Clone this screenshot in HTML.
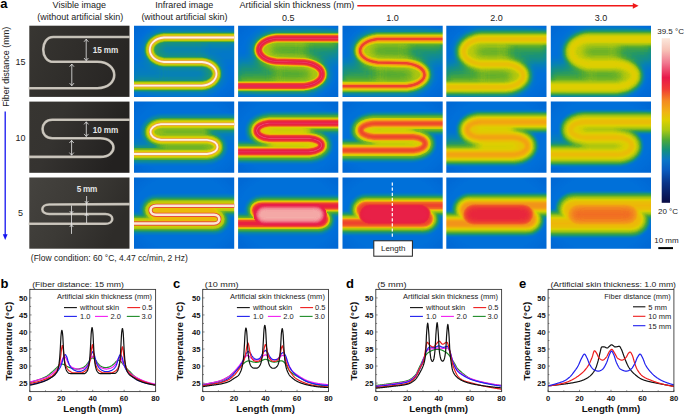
<!DOCTYPE html><html><head><meta charset="utf-8"><style>html,body{margin:0;padding:0;background:#fff;}svg{display:block}</style></head><body>
<svg width="685" height="415" viewBox="0 0 685 415" font-family='"Liberation Sans", sans-serif'>
<defs><filter id="cmap" filterUnits="userSpaceOnUse" x="0" y="0" width="685" height="415" color-interpolation-filters="sRGB">
<feComponentTransfer><feFuncR type="table" tableValues="0.039 0.039 0.039 0.039 0.039 0.039 0.035 0.032 0.028 0.024 0.020 0.015 0.010 0.004 0.000 0.000 0.000 0.000 0.010 0.020 0.030 0.060 0.094 0.143 0.220 0.298 0.393 0.493 0.593 0.676 0.751 0.825 0.873 0.894 0.915 0.935 0.943 0.947 0.950 0.953 0.950 0.947 0.944 0.940 0.932 0.923 0.915 0.910 0.910 0.910 0.910 0.914 0.921 0.928 0.935 0.942 0.948 0.953 0.958 0.964 0.970 0.976 0.982 0.988"/><feFuncG type="table" tableValues="0.039 0.055 0.070 0.086 0.101 0.117 0.140 0.163 0.187 0.210 0.233 0.269 0.305 0.341 0.376 0.397 0.418 0.439 0.464 0.489 0.514 0.541 0.569 0.598 0.629 0.660 0.692 0.723 0.754 0.777 0.796 0.814 0.808 0.777 0.746 0.715 0.676 0.635 0.593 0.552 0.491 0.428 0.366 0.305 0.254 0.202 0.150 0.120 0.125 0.130 0.135 0.177 0.244 0.311 0.377 0.445 0.516 0.587 0.658 0.729 0.782 0.830 0.878 0.925"/><feFuncB type="table" tableValues="0.235 0.266 0.298 0.329 0.360 0.391 0.437 0.484 0.530 0.577 0.624 0.670 0.717 0.764 0.806 0.822 0.839 0.855 0.802 0.748 0.695 0.601 0.500 0.401 0.308 0.215 0.166 0.129 0.092 0.062 0.037 0.012 0.005 0.016 0.026 0.036 0.054 0.075 0.096 0.116 0.127 0.138 0.148 0.161 0.187 0.213 0.239 0.261 0.276 0.292 0.308 0.340 0.385 0.429 0.474 0.518 0.563 0.607 0.652 0.696 0.741 0.787 0.833 0.878"/></feComponentTransfer></filter><radialGradient id="vig" cx="0.5" cy="0.5" r="0.75">
<stop offset="0.55" stop-color="#000" stop-opacity="0"/><stop offset="1" stop-color="#000" stop-opacity="0.22"/></radialGradient><filter id="b0" filterUnits="userSpaceOnUse" x="-50" y="-50" width="800" height="550" color-interpolation-filters="sRGB"><feGaussianBlur stdDeviation="0.3"/></filter><clipPath id="clip10"><rect x="134.0" y="25.7" width="100.2" height="71.2"/></clipPath><filter id="b1" filterUnits="userSpaceOnUse" x="-50" y="-50" width="800" height="550" color-interpolation-filters="sRGB"><feGaussianBlur stdDeviation="6"/></filter><filter id="b2" filterUnits="userSpaceOnUse" x="-50" y="-50" width="800" height="550" color-interpolation-filters="sRGB"><feGaussianBlur stdDeviation="5"/></filter><filter id="b3" filterUnits="userSpaceOnUse" x="-50" y="-50" width="800" height="550" color-interpolation-filters="sRGB"><feGaussianBlur stdDeviation="1.1"/></filter><filter id="b4" filterUnits="userSpaceOnUse" x="-50" y="-50" width="800" height="550" color-interpolation-filters="sRGB"><feGaussianBlur stdDeviation="0.77"/></filter><filter id="b5" filterUnits="userSpaceOnUse" x="-50" y="-50" width="800" height="550" color-interpolation-filters="sRGB"><feGaussianBlur stdDeviation="0.6"/></filter><filter id="b6" filterUnits="userSpaceOnUse" x="-50" y="-50" width="800" height="550" color-interpolation-filters="sRGB"><feGaussianBlur stdDeviation="0.49"/></filter><filter id="b7" filterUnits="userSpaceOnUse" x="-50" y="-50" width="800" height="550" color-interpolation-filters="sRGB"><feGaussianBlur stdDeviation="1.43"/></filter><clipPath id="clip20"><rect x="238.1" y="25.7" width="100.2" height="71.2"/></clipPath><filter id="b8" filterUnits="userSpaceOnUse" x="-50" y="-50" width="800" height="550" color-interpolation-filters="sRGB"><feGaussianBlur stdDeviation="0.83"/></filter><filter id="b9" filterUnits="userSpaceOnUse" x="-50" y="-50" width="800" height="550" color-interpolation-filters="sRGB"><feGaussianBlur stdDeviation="0.44"/></filter><filter id="b10" filterUnits="userSpaceOnUse" x="-50" y="-50" width="800" height="550" color-interpolation-filters="sRGB"><feGaussianBlur stdDeviation="0.35"/></filter><filter id="b11" filterUnits="userSpaceOnUse" x="-50" y="-50" width="800" height="550" color-interpolation-filters="sRGB"><feGaussianBlur stdDeviation="1.05"/></filter><filter id="b12" filterUnits="userSpaceOnUse" x="-50" y="-50" width="800" height="550" color-interpolation-filters="sRGB"><feGaussianBlur stdDeviation="0.39"/></filter><clipPath id="clip30"><rect x="342.5" y="25.7" width="100.2" height="71.2"/></clipPath><filter id="b13" filterUnits="userSpaceOnUse" x="-50" y="-50" width="800" height="550" color-interpolation-filters="sRGB"><feGaussianBlur stdDeviation="0.66"/></filter><filter id="b14" filterUnits="userSpaceOnUse" x="-50" y="-50" width="800" height="550" color-interpolation-filters="sRGB"><feGaussianBlur stdDeviation="0.71"/></filter><filter id="b15" filterUnits="userSpaceOnUse" x="-50" y="-50" width="800" height="550" color-interpolation-filters="sRGB"><feGaussianBlur stdDeviation="0.55"/></filter><filter id="b16" filterUnits="userSpaceOnUse" x="-50" y="-50" width="800" height="550" color-interpolation-filters="sRGB"><feGaussianBlur stdDeviation="0.72"/></filter><clipPath id="clip40"><rect x="446.3" y="25.7" width="100.2" height="71.2"/></clipPath><filter id="b17" filterUnits="userSpaceOnUse" x="-50" y="-50" width="800" height="550" color-interpolation-filters="sRGB"><feGaussianBlur stdDeviation="1.6"/></filter><filter id="b18" filterUnits="userSpaceOnUse" x="-50" y="-50" width="800" height="550" color-interpolation-filters="sRGB"><feGaussianBlur stdDeviation="1.36"/></filter><filter id="b19" filterUnits="userSpaceOnUse" x="-50" y="-50" width="800" height="550" color-interpolation-filters="sRGB"><feGaussianBlur stdDeviation="1.28"/></filter><filter id="b20" filterUnits="userSpaceOnUse" x="-50" y="-50" width="800" height="550" color-interpolation-filters="sRGB"><feGaussianBlur stdDeviation="1.12"/></filter><clipPath id="clip50"><rect x="550.8" y="25.7" width="100.2" height="71.2"/></clipPath><filter id="b21" filterUnits="userSpaceOnUse" x="-50" y="-50" width="800" height="550" color-interpolation-filters="sRGB"><feGaussianBlur stdDeviation="1.76"/></filter><clipPath id="clip11"><rect x="134.0" y="101.6" width="100.2" height="71.2"/></clipPath><filter id="b22" filterUnits="userSpaceOnUse" x="-50" y="-50" width="800" height="550" color-interpolation-filters="sRGB"><feGaussianBlur stdDeviation="4.0"/></filter><clipPath id="clip21"><rect x="238.1" y="101.6" width="100.2" height="71.2"/></clipPath><filter id="b23" filterUnits="userSpaceOnUse" x="-50" y="-50" width="800" height="550" color-interpolation-filters="sRGB"><feGaussianBlur stdDeviation="1.15"/></filter><clipPath id="clip31"><rect x="342.5" y="101.6" width="100.2" height="71.2"/></clipPath><filter id="b24" filterUnits="userSpaceOnUse" x="-50" y="-50" width="800" height="550" color-interpolation-filters="sRGB"><feGaussianBlur stdDeviation="0.99"/></filter><filter id="b25" filterUnits="userSpaceOnUse" x="-50" y="-50" width="800" height="550" color-interpolation-filters="sRGB"><feGaussianBlur stdDeviation="0.88"/></filter><clipPath id="clip41"><rect x="446.3" y="101.6" width="100.2" height="71.2"/></clipPath><clipPath id="clip51"><rect x="550.8" y="101.6" width="100.2" height="71.2"/></clipPath><filter id="b26" filterUnits="userSpaceOnUse" x="-50" y="-50" width="800" height="550" color-interpolation-filters="sRGB"><feGaussianBlur stdDeviation="1.2"/></filter><clipPath id="clip12"><rect x="134.0" y="177.5" width="100.2" height="71.2"/></clipPath><filter id="b27" filterUnits="userSpaceOnUse" x="-50" y="-50" width="800" height="550" color-interpolation-filters="sRGB"><feGaussianBlur stdDeviation="1.0"/></filter><filter id="b28" filterUnits="userSpaceOnUse" x="-50" y="-50" width="800" height="550" color-interpolation-filters="sRGB"><feGaussianBlur stdDeviation="1.5"/></filter><filter id="b29" filterUnits="userSpaceOnUse" x="-50" y="-50" width="800" height="550" color-interpolation-filters="sRGB"><feGaussianBlur stdDeviation="2.15"/></filter><clipPath id="clip22"><rect x="238.1" y="177.5" width="100.2" height="71.2"/></clipPath><filter id="b30" filterUnits="userSpaceOnUse" x="-50" y="-50" width="800" height="550" color-interpolation-filters="sRGB"><feGaussianBlur stdDeviation="0.7"/></filter><filter id="b31" filterUnits="userSpaceOnUse" x="-50" y="-50" width="800" height="550" color-interpolation-filters="sRGB"><feGaussianBlur stdDeviation="1.54"/></filter><clipPath id="clip32"><rect x="342.5" y="177.5" width="100.2" height="71.2"/></clipPath><clipPath id="clip42"><rect x="446.3" y="177.5" width="100.2" height="71.2"/></clipPath><filter id="b32" filterUnits="userSpaceOnUse" x="-50" y="-50" width="800" height="550" color-interpolation-filters="sRGB"><feGaussianBlur stdDeviation="2.0"/></filter><filter id="b33" filterUnits="userSpaceOnUse" x="-50" y="-50" width="800" height="550" color-interpolation-filters="sRGB"><feGaussianBlur stdDeviation="2.2"/></filter><filter id="b34" filterUnits="userSpaceOnUse" x="-50" y="-50" width="800" height="550" color-interpolation-filters="sRGB"><feGaussianBlur stdDeviation="2.5"/></filter><filter id="b35" filterUnits="userSpaceOnUse" x="-50" y="-50" width="800" height="550" color-interpolation-filters="sRGB"><feGaussianBlur stdDeviation="1.65"/></filter><clipPath id="clip52"><rect x="550.8" y="177.5" width="100.2" height="71.2"/></clipPath><filter id="b36" filterUnits="userSpaceOnUse" x="-50" y="-50" width="800" height="550" color-interpolation-filters="sRGB"><feGaussianBlur stdDeviation="2.6"/></filter><filter id="b37" filterUnits="userSpaceOnUse" x="-50" y="-50" width="800" height="550" color-interpolation-filters="sRGB"><feGaussianBlur stdDeviation="2.8"/></filter><filter id="b38" filterUnits="userSpaceOnUse" x="-50" y="-50" width="800" height="550" color-interpolation-filters="sRGB"><feGaussianBlur stdDeviation="3.0"/></filter><filter id="b39" filterUnits="userSpaceOnUse" x="-50" y="-50" width="800" height="550" color-interpolation-filters="sRGB"><feGaussianBlur stdDeviation="1.93"/></filter><linearGradient id="vg0" x1="0" y1="0" x2="1" y2="0.3"><stop offset="0" stop-color="#383632"/><stop offset="0.5" stop-color="#302e2b"/><stop offset="1" stop-color="#282624"/></linearGradient>
<linearGradient id="vg1" x1="0" y1="0" x2="1" y2="0.3"><stop offset="0" stop-color="#373531"/><stop offset="0.35" stop-color="#353330"/><stop offset="1" stop-color="#232120"/></linearGradient>
<linearGradient id="vg2" x1="0" y1="0" x2="1" y2="0.4"><stop offset="0" stop-color="#45433f"/><stop offset="0.5" stop-color="#3c3a36"/><stop offset="1" stop-color="#2e2c29"/></linearGradient><linearGradient id="cbar" x1="0" y1="0" x2="0" y2="1">
<stop offset="0" stop-color="#fbe8dc"/><stop offset="0.07" stop-color="#f7c4b8"/><stop offset="0.15" stop-color="#f07890"/>
<stop offset="0.24" stop-color="#e8184a"/><stop offset="0.31" stop-color="#f03c34"/><stop offset="0.38" stop-color="#f48a22"/>
<stop offset="0.45" stop-color="#f0b414"/><stop offset="0.50" stop-color="#dcd000"/><stop offset="0.56" stop-color="#a8c814"/>
<stop offset="0.62" stop-color="#4aa83a"/><stop offset="0.68" stop-color="#12907e"/><stop offset="0.74" stop-color="#0a76c8"/>
<stop offset="0.80" stop-color="#0a5cc0"/><stop offset="0.88" stop-color="#0a3488"/><stop offset="1" stop-color="#0a0c44"/></linearGradient></defs>
<rect x="0" y="0" width="685" height="415" fill="#fff"/>
<g clip-path="url(#clip10)"><g filter="url(#cmap)">
<rect x="124.0" y="15.7" width="120.2" height="91.2" fill="rgb(69,69,69)"/>
<rect x="124.0" y="15.7" width="120.2" height="91.2" fill="url(#vig)"/>
<g transform="translate(134.0,25.7)">
<path d="M104,11.8 L30,11.8 C11.07,13.76 11.07,34.34 30,36.3 L68,36.3 C87.33,38.20 87.33,58.10 68,60.0 L-4,60.0" fill="none" stroke="#fff" stroke-opacity="0.25" stroke-width="6" stroke-linejoin="round" filter="url(#b1)"/>
<path d="M29.049999999999997,11.8 L70,11.8 L70,36.3 L29.049999999999997,36.3 A12.249999999999998,12.249999999999998 0 0 1 29.049999999999997,11.8 Z" fill="#fff" fill-opacity="0.050" filter="url(#b2)"/>
<path d="M28,36.3 L69.65,36.3 A11.850000000000001,11.850000000000001 0 0 1 69.65,60.0 L28,60.0 Z" fill="#fff" fill-opacity="0.036" filter="url(#b2)"/>
<path d="M68,11.8 L105,11.8 L105,36.3 L68,36.3 Z" fill="#fff" fill-opacity="0.034" filter="url(#b1)"/>
<path d="M-5,36.3 L30,36.3 L30,60.0 L-5,60.0 Z" fill="#fff" fill-opacity="0.042" filter="url(#b1)"/>
<path d="M104,11.8 L30,11.8 C11.07,13.76 11.07,34.34 30,36.3 L68,36.3 C87.33,38.20 87.33,58.10 68,60.0 L-4,60.0" fill="none" stroke="rgb(76,76,76)" stroke-width="16" stroke-linejoin="round" filter="url(#b3)" style="mix-blend-mode:lighten"/>
<path d="M104,11.8 L30,11.8 C11.07,13.76 11.07,34.34 30,36.3 L68,36.3 C87.33,38.20 87.33,58.10 68,60.0 L-4,60.0" fill="none" stroke="rgb(87,87,87)" stroke-width="12" stroke-linejoin="round" filter="url(#b4)" style="mix-blend-mode:lighten"/>
<path d="M104,11.8 L30,11.8 C11.07,13.76 11.07,34.34 30,36.3 L68,36.3 C87.33,38.20 87.33,58.10 68,60.0 L-4,60.0" fill="none" stroke="rgb(102,102,102)" stroke-width="9.2" stroke-linejoin="round" filter="url(#b5)" style="mix-blend-mode:lighten"/>
<path d="M104,11.8 L30,11.8 C11.07,13.76 11.07,34.34 30,36.3 L68,36.3 C87.33,38.20 87.33,58.10 68,60.0 L-4,60.0" fill="none" stroke="rgb(117,117,117)" stroke-width="7.0" stroke-linejoin="round" filter="url(#b6)" style="mix-blend-mode:lighten"/>
<path d="M104,11.8 L30,11.8 C11.07,13.76 11.07,34.34 30,36.3 L68,36.3 C87.33,38.20 87.33,58.10 68,60.0 L-4,60.0" fill="none" stroke="rgb(130,130,130)" stroke-width="5.2" stroke-linejoin="round" filter="url(#b7)" style="mix-blend-mode:lighten"/>

</g></g>
<g transform="translate(134.0,25.7)"><path d="M104,11.8 L30,11.8 C11.07,13.76 11.07,34.34 30,36.3 L68,36.3 C87.33,38.20 87.33,58.10 68,60.0 L-4,60.0" fill="none" stroke="#ef9a58" stroke-width="3.3" stroke-linejoin="round" opacity="0.9" filter="url(#b0)"/><path d="M104,11.8 L30,11.8 C11.07,13.76 11.07,34.34 30,36.3 L68,36.3 C87.33,38.20 87.33,58.10 68,60.0 L-4,60.0" fill="none" stroke="#fff2e2" stroke-width="1.8" stroke-linejoin="round" filter="url(#b0)"/></g>
</g>
<g clip-path="url(#clip20)"><g filter="url(#cmap)">
<rect x="228.1" y="15.7" width="120.2" height="91.2" fill="rgb(69,69,69)"/>
<rect x="228.1" y="15.7" width="120.2" height="91.2" fill="url(#vig)"/>
<g transform="translate(238.1,25.7)">
<path d="M104,12.5 L38,12.5 C15.07,15.30 15.07,33.00 38,35.8 L66,36.6 C89.99,39.44 89.99,57.46 66,60.3 L-4,60.3" fill="none" stroke="#fff" stroke-opacity="0.3" stroke-width="8" stroke-linejoin="round" filter="url(#b1)"/>
<path d="M33.45,12.5 L68,12.5 L68,35.8 L33.45,35.8 A11.649999999999999,11.649999999999999 0 0 1 33.45,12.5 Z" fill="#fff" fill-opacity="0.150" filter="url(#b2)"/>
<path d="M36,35.8 L70.75,35.8 A12.25,12.25 0 0 1 70.75,60.3 L36,60.3 Z" fill="#fff" fill-opacity="0.149" filter="url(#b2)"/>
<path d="M66,12.5 L105,12.5 L105,35.8 L66,35.8 Z" fill="#fff" fill-opacity="0.108" filter="url(#b1)"/>
<path d="M-5,35.8 L38,35.8 L38,60.3 L-5,60.3 Z" fill="#fff" fill-opacity="0.125" filter="url(#b1)"/>
<path d="M104,12.5 L38,12.5 C15.07,15.30 15.07,33.00 38,35.8 L66,36.6 C89.99,39.44 89.99,57.46 66,60.3 L-4,60.3" fill="none" stroke="rgb(79,79,79)" stroke-width="18" stroke-linejoin="round" filter="url(#b3)" style="mix-blend-mode:lighten"/>
<path d="M104,12.5 L38,12.5 C15.07,15.30 15.07,33.00 38,35.8 L66,36.6 C89.99,39.44 89.99,57.46 66,60.3 L-4,60.3" fill="none" stroke="rgb(89,89,89)" stroke-width="14" stroke-linejoin="round" filter="url(#b8)" style="mix-blend-mode:lighten"/>
<path d="M104,12.5 L38,12.5 C15.07,15.30 15.07,33.00 38,35.8 L66,36.6 C89.99,39.44 89.99,57.46 66,60.3 L-4,60.3" fill="none" stroke="rgb(102,102,102)" stroke-width="11.0" stroke-linejoin="round" filter="url(#b5)" style="mix-blend-mode:lighten"/>
<path d="M104,12.5 L38,12.5 C15.07,15.30 15.07,33.00 38,35.8 L66,36.6 C89.99,39.44 89.99,57.46 66,60.3 L-4,60.3" fill="none" stroke="rgb(120,120,120)" stroke-width="8.8" stroke-linejoin="round" filter="url(#b9)" style="mix-blend-mode:lighten"/>
<path d="M104,12.5 L38,12.5 C15.07,15.30 15.07,33.00 38,35.8 L66,36.6 C89.99,39.44 89.99,57.46 66,60.3 L-4,60.3" fill="none" stroke="rgb(135,135,135)" stroke-width="7.2" stroke-linejoin="round" filter="url(#b10)" style="mix-blend-mode:lighten"/>
<path d="M104,12.5 L38,12.5 C15.07,15.30 15.07,33.00 38,35.8 L66,36.6 C89.99,39.44 89.99,57.46 66,60.3 L-4,60.3" fill="none" stroke="rgb(158,158,158)" stroke-width="6.0" stroke-linejoin="round" filter="url(#b10)" style="mix-blend-mode:lighten"/>
<path d="M104,12.5 L38,12.5 C15.07,15.30 15.07,33.00 38,35.8 L66,36.6 C89.99,39.44 89.99,57.46 66,60.3 L-4,60.3" fill="none" stroke="rgb(190,190,190)" stroke-width="5.2" stroke-linejoin="round" filter="url(#b11)" style="mix-blend-mode:lighten"/>
<path d="M104,12.5 L38,12.5 C15.07,15.30 15.07,33.00 38,35.8 L66,36.6 C89.99,39.44 89.99,57.46 66,60.3 L-4,60.3" fill="none" stroke="rgb(209,209,209)" stroke-width="1.4" stroke-linejoin="round" filter="url(#b12)" style="mix-blend-mode:lighten"/>

</g></g>
</g>
<g clip-path="url(#clip30)"><g filter="url(#cmap)">
<rect x="332.5" y="15.7" width="120.2" height="91.2" fill="rgb(69,69,69)"/>
<rect x="332.5" y="15.7" width="120.2" height="91.2" fill="url(#vig)"/>
<g transform="translate(342.5,25.7)">
<path d="M104,13.3 L35,13.3 C11.81,16.12 11.81,33.98 35,36.8 L64,37.5 C87.99,40.27 87.99,57.83 64,60.6 L-4,60.6" fill="none" stroke="#fff" stroke-opacity="0.3" stroke-width="8" stroke-linejoin="round" filter="url(#b1)"/>
<path d="M30.35,13.3 L66,13.3 L66,36.8 L30.35,36.8 A11.749999999999998,11.749999999999998 0 0 1 30.35,13.3 Z" fill="#fff" fill-opacity="0.152" filter="url(#b2)"/>
<path d="M33,36.8 L69.1,36.8 A11.900000000000002,11.900000000000002 0 0 1 69.1,60.6 L33,60.6 Z" fill="#fff" fill-opacity="0.145" filter="url(#b2)"/>
<path d="M64,13.3 L105,13.3 L105,36.8 L64,36.8 Z" fill="#fff" fill-opacity="0.108" filter="url(#b1)"/>
<path d="M-5,36.8 L35,36.8 L35,60.6 L-5,60.6 Z" fill="#fff" fill-opacity="0.124" filter="url(#b1)"/>
<path d="M104,13.3 L35,13.3 C11.81,16.12 11.81,33.98 35,36.8 L64,37.5 C87.99,40.27 87.99,57.83 64,60.6 L-4,60.6" fill="none" stroke="rgb(84,84,84)" stroke-width="18" stroke-linejoin="round" filter="url(#b3)" style="mix-blend-mode:lighten"/>
<path d="M104,13.3 L35,13.3 C11.81,16.12 11.81,33.98 35,36.8 L64,37.5 C87.99,40.27 87.99,57.83 64,60.6 L-4,60.6" fill="none" stroke="rgb(94,94,94)" stroke-width="14" stroke-linejoin="round" filter="url(#b13)" style="mix-blend-mode:lighten"/>
<path d="M104,13.3 L35,13.3 C11.81,16.12 11.81,33.98 35,36.8 L64,37.5 C87.99,40.27 87.99,57.83 64,60.6 L-4,60.6" fill="none" stroke="rgb(107,107,107)" stroke-width="11.6" stroke-linejoin="round" filter="url(#b14)" style="mix-blend-mode:lighten"/>
<path d="M104,13.3 L35,13.3 C11.81,16.12 11.81,33.98 35,36.8 L64,37.5 C87.99,40.27 87.99,57.83 64,60.6 L-4,60.6" fill="none" stroke="rgb(122,122,122)" stroke-width="9.0" stroke-linejoin="round" filter="url(#b15)" style="mix-blend-mode:lighten"/>
<path d="M104,13.3 L35,13.3 C11.81,16.12 11.81,33.98 35,36.8 L64,37.5 C87.99,40.27 87.99,57.83 64,60.6 L-4,60.6" fill="none" stroke="rgb(135,135,135)" stroke-width="7.0" stroke-linejoin="round" filter="url(#b15)" style="mix-blend-mode:lighten"/>
<path d="M104,13.3 L35,13.3 C11.81,16.12 11.81,33.98 35,36.8 L64,37.5 C87.99,40.27 87.99,57.83 64,60.6 L-4,60.6" fill="none" stroke="rgb(153,153,153)" stroke-width="5.0" stroke-linejoin="round" filter="url(#b13)" style="mix-blend-mode:lighten"/>
<path d="M104,13.3 L35,13.3 C11.81,16.12 11.81,33.98 35,36.8 L64,37.5 C87.99,40.27 87.99,57.83 64,60.6 L-4,60.6" fill="none" stroke="rgb(178,178,178)" stroke-width="2.6" stroke-linejoin="round" filter="url(#b16)" style="mix-blend-mode:lighten"/>

</g></g>
</g>
<g clip-path="url(#clip40)"><g filter="url(#cmap)">
<rect x="436.3" y="15.7" width="120.2" height="91.2" fill="rgb(69,69,69)"/>
<rect x="436.3" y="15.7" width="120.2" height="91.2" fill="url(#vig)"/>
<g transform="translate(446.3,25.7)">
<path d="M104,13.5 L34,13.5 C12.01,16.50 12.01,35.50 34,38.5 L60,38.5 C82.66,41.25 82.66,58.65 60,61.4 L-4,61.4" fill="none" stroke="#fff" stroke-opacity="0.32" stroke-width="8" stroke-linejoin="round" filter="url(#b1)"/>
<path d="M31.0,13.5 L62,13.5 L62,38.5 L31.0,38.5 A12.5,12.5 0 0 1 31.0,13.5 Z" fill="#fff" fill-opacity="0.172" filter="url(#b2)"/>
<path d="M32,38.5 L64.55,38.5 A11.45,11.45 0 0 1 64.55,61.4 L32,61.4 Z" fill="#fff" fill-opacity="0.148" filter="url(#b2)"/>
<path d="M60,13.5 L105,13.5 L105,38.5 L60,38.5 Z" fill="#fff" fill-opacity="0.124" filter="url(#b1)"/>
<path d="M-5,38.5 L34,38.5 L34,61.4 L-5,61.4 Z" fill="#fff" fill-opacity="0.136" filter="url(#b1)"/>
<path d="M104,13.5 L34,13.5 C12.01,16.50 12.01,35.50 34,38.5 L60,38.5 C82.66,41.25 82.66,58.65 60,61.4 L-4,61.4" fill="none" stroke="rgb(87,87,87)" stroke-width="19.0" stroke-linejoin="round" filter="url(#b17)" style="mix-blend-mode:lighten"/>
<path d="M104,13.5 L34,13.5 C12.01,16.50 12.01,35.50 34,38.5 L60,38.5 C82.66,41.25 82.66,58.65 60,61.4 L-4,61.4" fill="none" stroke="rgb(99,99,99)" stroke-width="15.0" stroke-linejoin="round" filter="url(#b18)" style="mix-blend-mode:lighten"/>
<path d="M104,13.5 L34,13.5 C12.01,16.50 12.01,35.50 34,38.5 L60,38.5 C82.66,41.25 82.66,58.65 60,61.4 L-4,61.4" fill="none" stroke="rgb(112,112,112)" stroke-width="11.6" stroke-linejoin="round" filter="url(#b19)" style="mix-blend-mode:lighten"/>
<path d="M104,13.5 L34,13.5 C12.01,16.50 12.01,35.50 34,38.5 L60,38.5 C82.66,41.25 82.66,58.65 60,61.4 L-4,61.4" fill="none" stroke="rgb(125,125,125)" stroke-width="8.4" stroke-linejoin="round" filter="url(#b20)" style="mix-blend-mode:lighten"/>
<path d="M104,13.5 L34,13.5 C12.01,16.50 12.01,35.50 34,38.5 L60,38.5 C82.66,41.25 82.66,58.65 60,61.4 L-4,61.4" fill="none" stroke="rgb(133,133,133)" stroke-width="5.6" stroke-linejoin="round" filter="url(#b20)" style="mix-blend-mode:lighten"/>
<path d="M104,13.5 L34,13.5 C12.01,16.50 12.01,35.50 34,38.5 L60,38.5 C82.66,41.25 82.66,58.65 60,61.4 L-4,61.4" fill="none" stroke="rgb(139,139,139)" stroke-width="2.8" stroke-linejoin="round" filter="url(#b20)" style="mix-blend-mode:lighten"/>

</g></g>
</g>
<g clip-path="url(#clip50)"><g filter="url(#cmap)">
<rect x="540.8" y="15.7" width="120.2" height="91.2" fill="rgb(69,69,69)"/>
<rect x="540.8" y="15.7" width="120.2" height="91.2" fill="url(#vig)"/>
<g transform="translate(550.8,25.7)">
<path d="M104,13.5 L37,13.5 C15.67,16.50 15.67,35.50 37,38.5 L66,38.5 C89.33,41.25 89.33,58.65 66,61.4 L-4,61.4" fill="none" stroke="#fff" stroke-opacity="0.34" stroke-width="8" stroke-linejoin="round" filter="url(#b1)"/>
<path d="M34.5,13.5 L68,13.5 L68,38.5 L34.5,38.5 A12.5,12.5 0 0 1 34.5,13.5 Z" fill="#fff" fill-opacity="0.171" filter="url(#b2)"/>
<path d="M35,38.5 L71.05,38.5 A11.45,11.45 0 0 1 71.05,61.4 L35,61.4 Z" fill="#fff" fill-opacity="0.143" filter="url(#b2)"/>
<path d="M66,13.5 L105,13.5 L105,38.5 L66,38.5 Z" fill="#fff" fill-opacity="0.126" filter="url(#b1)"/>
<path d="M-5,38.5 L37,38.5 L37,61.4 L-5,61.4 Z" fill="#fff" fill-opacity="0.132" filter="url(#b1)"/>
<path d="M104,13.5 L37,13.5 C15.67,16.50 15.67,35.50 37,38.5 L66,38.5 C89.33,41.25 89.33,58.65 66,61.4 L-4,61.4" fill="none" stroke="rgb(89,89,89)" stroke-width="19.0" stroke-linejoin="round" filter="url(#b17)" style="mix-blend-mode:lighten"/>
<path d="M104,13.5 L37,13.5 C15.67,16.50 15.67,35.50 37,38.5 L66,38.5 C89.33,41.25 89.33,58.65 66,61.4 L-4,61.4" fill="none" stroke="rgb(102,102,102)" stroke-width="15.0" stroke-linejoin="round" filter="url(#b18)" style="mix-blend-mode:lighten"/>
<path d="M104,13.5 L37,13.5 C15.67,16.50 15.67,35.50 37,38.5 L66,38.5 C89.33,41.25 89.33,58.65 66,61.4 L-4,61.4" fill="none" stroke="rgb(115,115,115)" stroke-width="11.6" stroke-linejoin="round" filter="url(#b19)" style="mix-blend-mode:lighten"/>
<path d="M104,13.5 L37,13.5 C15.67,16.50 15.67,35.50 37,38.5 L66,38.5 C89.33,41.25 89.33,58.65 66,61.4 L-4,61.4" fill="none" stroke="rgb(125,125,125)" stroke-width="8.4" stroke-linejoin="round" filter="url(#b17)" style="mix-blend-mode:lighten"/>
<path d="M104,13.5 L37,13.5 C15.67,16.50 15.67,35.50 37,38.5 L66,38.5 C89.33,41.25 89.33,58.65 66,61.4 L-4,61.4" fill="none" stroke="rgb(131,131,131)" stroke-width="4.4" stroke-linejoin="round" filter="url(#b21)" style="mix-blend-mode:lighten"/>

</g></g>
</g>
<g clip-path="url(#clip11)"><g filter="url(#cmap)">
<rect x="124.0" y="91.6" width="120.2" height="91.2" fill="rgb(69,69,69)"/>
<rect x="124.0" y="91.6" width="120.2" height="91.2" fill="url(#vig)"/>
<g transform="translate(134.0,101.6)">
<path d="M104,22.6 L27,22.6 C13.00,23.85 13.00,36.95 27,38.2 L73,38.2 C87.00,39.34 87.00,51.26 73,52.4 L-4,52.4" fill="none" stroke="#fff" stroke-opacity="0.25" stroke-width="6" stroke-linejoin="round" filter="url(#b2)"/>
<path d="M25.3,22.6 L75,22.6 L75,38.2 L25.3,38.2 A7.800000000000001,7.800000000000001 0 0 1 25.3,22.6 Z" fill="#fff" fill-opacity="0.163" filter="url(#b22)"/>
<path d="M25,38.2 L75.4,38.2 A7.099999999999998,7.099999999999998 0 0 1 75.4,52.4 L25,52.4 Z" fill="#fff" fill-opacity="0.140" filter="url(#b22)"/>
<path d="M73,22.6 L105,22.6 L105,38.2 L73,38.2 Z" fill="#fff" fill-opacity="0.048" filter="url(#b2)"/>
<path d="M-5,38.2 L27,38.2 L27,52.4 L-5,52.4 Z" fill="#fff" fill-opacity="0.056" filter="url(#b2)"/>
<path d="M104,22.6 L27,22.6 C13.00,23.85 13.00,36.95 27,38.2 L73,38.2 C87.00,39.34 87.00,51.26 73,52.4 L-4,52.4" fill="none" stroke="rgb(79,79,79)" stroke-width="20" stroke-linejoin="round" filter="url(#b3)" style="mix-blend-mode:lighten"/>
<path d="M104,22.6 L27,22.6 C13.00,23.85 13.00,36.95 27,38.2 L73,38.2 C87.00,39.34 87.00,51.26 73,52.4 L-4,52.4" fill="none" stroke="rgb(89,89,89)" stroke-width="16" stroke-linejoin="round" filter="url(#b3)" style="mix-blend-mode:lighten"/>
<path d="M104,22.6 L27,22.6 C13.00,23.85 13.00,36.95 27,38.2 L73,38.2 C87.00,39.34 87.00,51.26 73,52.4 L-4,52.4" fill="none" stroke="rgb(102,102,102)" stroke-width="12" stroke-linejoin="round" filter="url(#b4)" style="mix-blend-mode:lighten"/>
<path d="M104,22.6 L27,22.6 C13.00,23.85 13.00,36.95 27,38.2 L73,38.2 C87.00,39.34 87.00,51.26 73,52.4 L-4,52.4" fill="none" stroke="rgb(112,112,112)" stroke-width="9.2" stroke-linejoin="round" filter="url(#b5)" style="mix-blend-mode:lighten"/>
<path d="M104,22.6 L27,22.6 C13.00,23.85 13.00,36.95 27,38.2 L73,38.2 C87.00,39.34 87.00,51.26 73,52.4 L-4,52.4" fill="none" stroke="rgb(122,122,122)" stroke-width="7.0" stroke-linejoin="round" filter="url(#b6)" style="mix-blend-mode:lighten"/>
<path d="M104,22.6 L27,22.6 C13.00,23.85 13.00,36.95 27,38.2 L73,38.2 C87.00,39.34 87.00,51.26 73,52.4 L-4,52.4" fill="none" stroke="rgb(133,133,133)" stroke-width="5.2" stroke-linejoin="round" filter="url(#b7)" style="mix-blend-mode:lighten"/>

</g></g>
<g transform="translate(134.0,101.6)"><path d="M104,22.6 L27,22.6 C13.00,23.85 13.00,36.95 27,38.2 L73,38.2 C87.00,39.34 87.00,51.26 73,52.4 L-4,52.4" fill="none" stroke="#ef9a58" stroke-width="3.3" stroke-linejoin="round" opacity="0.9" filter="url(#b0)"/><path d="M104,22.6 L27,22.6 C13.00,23.85 13.00,36.95 27,38.2 L73,38.2 C87.00,39.34 87.00,51.26 73,52.4 L-4,52.4" fill="none" stroke="#fff2e2" stroke-width="1.8" stroke-linejoin="round" filter="url(#b0)"/></g>
</g>
<g clip-path="url(#clip21)"><g filter="url(#cmap)">
<rect x="228.1" y="91.6" width="120.2" height="91.2" fill="rgb(69,69,69)"/>
<rect x="228.1" y="91.6" width="120.2" height="91.2" fill="url(#vig)"/>
<g transform="translate(238.1,101.6)">
<path d="M104,21.5 L31,21.5 C14.47,23.03 14.47,35.27 31,36.8 L71,36.8 C87.66,38.15 87.66,48.95 71,50.3 L-4,50.3" fill="none" stroke="#fff" stroke-opacity="0.3" stroke-width="8" stroke-linejoin="round" filter="url(#b2)"/>
<path d="M27.25,21.5 L73,21.5 L73,36.8 L27.25,36.8 A7.649999999999999,7.649999999999999 0 0 1 27.25,21.5 Z" fill="#fff" fill-opacity="0.213" filter="url(#b22)"/>
<path d="M29,36.8 L75.75,36.8 A6.75,6.75 0 0 1 75.75,50.3 L29,50.3 Z" fill="#fff" fill-opacity="0.175" filter="url(#b22)"/>
<path d="M71,21.5 L105,21.5 L105,36.8 L71,36.8 Z" fill="#fff" fill-opacity="0.037" filter="url(#b2)"/>
<path d="M-5,36.8 L31,36.8 L31,50.3 L-5,50.3 Z" fill="#fff" fill-opacity="0.000" filter="url(#b2)"/>
<path d="M104,21.5 L31,21.5 C14.47,23.03 14.47,35.27 31,36.8 L71,36.8 C87.66,38.15 87.66,48.95 71,50.3 L-4,50.3" fill="none" stroke="rgb(82,82,82)" stroke-width="22" stroke-linejoin="round" filter="url(#b3)" style="mix-blend-mode:lighten"/>
<path d="M104,21.5 L31,21.5 C14.47,23.03 14.47,35.27 31,36.8 L71,36.8 C87.66,38.15 87.66,48.95 71,50.3 L-4,50.3" fill="none" stroke="rgb(94,94,94)" stroke-width="18" stroke-linejoin="round" filter="url(#b3)" style="mix-blend-mode:lighten"/>
<path d="M104,21.5 L31,21.5 C14.47,23.03 14.47,35.27 31,36.8 L71,36.8 C87.66,38.15 87.66,48.95 71,50.3 L-4,50.3" fill="none" stroke="rgb(107,107,107)" stroke-width="14" stroke-linejoin="round" filter="url(#b8)" style="mix-blend-mode:lighten"/>
<path d="M104,21.5 L31,21.5 C14.47,23.03 14.47,35.27 31,36.8 L71,36.8 C87.66,38.15 87.66,48.95 71,50.3 L-4,50.3" fill="none" stroke="rgb(120,120,120)" stroke-width="11.0" stroke-linejoin="round" filter="url(#b14)" style="mix-blend-mode:lighten"/>
<path d="M104,21.5 L31,21.5 C14.47,23.03 14.47,35.27 31,36.8 L71,36.8 C87.66,38.15 87.66,48.95 71,50.3 L-4,50.3" fill="none" stroke="rgb(135,135,135)" stroke-width="8.4" stroke-linejoin="round" filter="url(#b9)" style="mix-blend-mode:lighten"/>
<path d="M104,21.5 L31,21.5 C14.47,23.03 14.47,35.27 31,36.8 L71,36.8 C87.66,38.15 87.66,48.95 71,50.3 L-4,50.3" fill="none" stroke="rgb(158,158,158)" stroke-width="6.8" stroke-linejoin="round" filter="url(#b10)" style="mix-blend-mode:lighten"/>
<path d="M104,21.5 L31,21.5 C14.47,23.03 14.47,35.27 31,36.8 L71,36.8 C87.66,38.15 87.66,48.95 71,50.3 L-4,50.3" fill="none" stroke="rgb(191,191,191)" stroke-width="5.6" stroke-linejoin="round" filter="url(#b23)" style="mix-blend-mode:lighten"/>
<path d="M104,21.5 L31,21.5 C14.47,23.03 14.47,35.27 31,36.8 L71,36.8 C87.66,38.15 87.66,48.95 71,50.3 L-4,50.3" fill="none" stroke="rgb(212,212,212)" stroke-width="1.4" stroke-linejoin="round" filter="url(#b12)" style="mix-blend-mode:lighten"/>

</g></g>
</g>
<g clip-path="url(#clip31)"><g filter="url(#cmap)">
<rect x="332.5" y="91.6" width="120.2" height="91.2" fill="rgb(69,69,69)"/>
<rect x="332.5" y="91.6" width="120.2" height="91.2" fill="url(#vig)"/>
<g transform="translate(342.5,101.6)">
<path d="M104,21.9 L31,21.9 C14.07,23.24 14.07,33.96 31,35.3 L71,35.3 C86.46,36.65 86.46,47.45 71,48.8 L-4,48.8" fill="none" stroke="#fff" stroke-opacity="0.3" stroke-width="8" stroke-linejoin="round" filter="url(#b2)"/>
<path d="M26.0,21.9 L73,21.9 L73,35.3 L26.0,35.3 A6.699999999999999,6.699999999999999 0 0 1 26.0,21.9 Z" fill="#fff" fill-opacity="0.181" filter="url(#b22)"/>
<path d="M29,35.3 L74.85,35.3 A6.75,6.75 0 0 1 74.85,48.8 L29,48.8 Z" fill="#fff" fill-opacity="0.174" filter="url(#b22)"/>
<path d="M71,21.9 L105,21.9 L105,35.3 L71,35.3 Z" fill="#fff" fill-opacity="0.000" filter="url(#b2)"/>
<path d="M-5,35.3 L31,35.3 L31,48.8 L-5,48.8 Z" fill="#fff" fill-opacity="0.000" filter="url(#b2)"/>
<path d="M104,21.9 L31,21.9 C14.07,23.24 14.07,33.96 31,35.3 L71,35.3 C86.46,36.65 86.46,47.45 71,48.8 L-4,48.8" fill="none" stroke="rgb(84,84,84)" stroke-width="22" stroke-linejoin="round" filter="url(#b3)" style="mix-blend-mode:lighten"/>
<path d="M104,21.9 L31,21.9 C14.07,23.24 14.07,33.96 31,35.3 L71,35.3 C86.46,36.65 86.46,47.45 71,48.8 L-4,48.8" fill="none" stroke="rgb(97,97,97)" stroke-width="18" stroke-linejoin="round" filter="url(#b24)" style="mix-blend-mode:lighten"/>
<path d="M104,21.9 L31,21.9 C14.07,23.24 14.07,33.96 31,35.3 L71,35.3 C86.46,36.65 86.46,47.45 71,48.8 L-4,48.8" fill="none" stroke="rgb(110,110,110)" stroke-width="14.4" stroke-linejoin="round" filter="url(#b25)" style="mix-blend-mode:lighten"/>
<path d="M104,21.9 L31,21.9 C14.07,23.24 14.07,33.96 31,35.3 L71,35.3 C86.46,36.65 86.46,47.45 71,48.8 L-4,48.8" fill="none" stroke="rgb(125,125,125)" stroke-width="11.2" stroke-linejoin="round" filter="url(#b4)" style="mix-blend-mode:lighten"/>
<path d="M104,21.9 L31,21.9 C14.07,23.24 14.07,33.96 31,35.3 L71,35.3 C86.46,36.65 86.46,47.45 71,48.8 L-4,48.8" fill="none" stroke="rgb(140,140,140)" stroke-width="8.4" stroke-linejoin="round" filter="url(#b13)" style="mix-blend-mode:lighten"/>
<path d="M104,21.9 L31,21.9 C14.07,23.24 14.07,33.96 31,35.3 L71,35.3 C86.46,36.65 86.46,47.45 71,48.8 L-4,48.8" fill="none" stroke="rgb(158,158,158)" stroke-width="6.0" stroke-linejoin="round" filter="url(#b13)" style="mix-blend-mode:lighten"/>
<path d="M104,21.9 L31,21.9 C14.07,23.24 14.07,33.96 31,35.3 L71,35.3 C86.46,36.65 86.46,47.45 71,48.8 L-4,48.8" fill="none" stroke="rgb(178,178,178)" stroke-width="3.6" stroke-linejoin="round" filter="url(#b24)" style="mix-blend-mode:lighten"/>

</g></g>
</g>
<g clip-path="url(#clip41)"><g filter="url(#cmap)">
<rect x="436.3" y="91.6" width="120.2" height="91.2" fill="rgb(69,69,69)"/>
<rect x="436.3" y="91.6" width="120.2" height="91.2" fill="url(#vig)"/>
<g transform="translate(446.3,101.6)">
<path d="M104,20.4 L33,20.4 C17.00,21.94 17.00,34.26 33,35.8 L68,35.8 C85.33,37.52 85.33,51.28 68,53.0 L-4,53.0" fill="none" stroke="#fff" stroke-opacity="0.32" stroke-width="8" stroke-linejoin="round" filter="url(#b2)"/>
<path d="M29.7,20.4 L70,20.4 L70,35.8 L29.7,35.8 A7.699999999999999,7.699999999999999 0 0 1 29.7,20.4 Z" fill="#fff" fill-opacity="0.228" filter="url(#b22)"/>
<path d="M31,35.8 L71.4,35.8 A8.600000000000001,8.600000000000001 0 0 1 71.4,53.0 L31,53.0 Z" fill="#fff" fill-opacity="0.242" filter="url(#b22)"/>
<path d="M68,20.4 L105,20.4 L105,35.8 L68,35.8 Z" fill="#fff" fill-opacity="0.000" filter="url(#b2)"/>
<path d="M-5,35.8 L33,35.8 L33,53.0 L-5,53.0 Z" fill="#fff" fill-opacity="0.127" filter="url(#b2)"/>
<path d="M104,20.4 L33,20.4 C17.00,21.94 17.00,34.26 33,35.8 L68,35.8 C85.33,37.52 85.33,51.28 68,53.0 L-4,53.0" fill="none" stroke="rgb(89,89,89)" stroke-width="21.0" stroke-linejoin="round" filter="url(#b17)" style="mix-blend-mode:lighten"/>
<path d="M104,20.4 L33,20.4 C17.00,21.94 17.00,34.26 33,35.8 L68,35.8 C85.33,37.52 85.33,51.28 68,53.0 L-4,53.0" fill="none" stroke="rgb(105,105,105)" stroke-width="17.0" stroke-linejoin="round" filter="url(#b17)" style="mix-blend-mode:lighten"/>
<path d="M104,20.4 L33,20.4 C17.00,21.94 17.00,34.26 33,35.8 L68,35.8 C85.33,37.52 85.33,51.28 68,53.0 L-4,53.0" fill="none" stroke="rgb(120,120,120)" stroke-width="13.0" stroke-linejoin="round" filter="url(#b18)" style="mix-blend-mode:lighten"/>
<path d="M104,20.4 L33,20.4 C17.00,21.94 17.00,34.26 33,35.8 L68,35.8 C85.33,37.52 85.33,51.28 68,53.0 L-4,53.0" fill="none" stroke="rgb(133,133,133)" stroke-width="9.6" stroke-linejoin="round" filter="url(#b19)" style="mix-blend-mode:lighten"/>
<path d="M104,20.4 L33,20.4 C17.00,21.94 17.00,34.26 33,35.8 L68,35.8 C85.33,37.52 85.33,51.28 68,53.0 L-4,53.0" fill="none" stroke="rgb(144,144,144)" stroke-width="6.4" stroke-linejoin="round" filter="url(#b19)" style="mix-blend-mode:lighten"/>
<path d="M104,20.4 L33,20.4 C17.00,21.94 17.00,34.26 33,35.8 L68,35.8 C85.33,37.52 85.33,51.28 68,53.0 L-4,53.0" fill="none" stroke="rgb(150,150,150)" stroke-width="3.2" stroke-linejoin="round" filter="url(#b19)" style="mix-blend-mode:lighten"/>

</g></g>
</g>
<g clip-path="url(#clip51)"><g filter="url(#cmap)">
<rect x="540.8" y="91.6" width="120.2" height="91.2" fill="rgb(69,69,69)"/>
<rect x="540.8" y="91.6" width="120.2" height="91.2" fill="url(#vig)"/>
<g transform="translate(550.8,101.6)">
<path d="M104,20.4 L33,20.4 C15.67,21.94 15.67,34.26 33,35.8 L68,35.8 C85.33,37.52 85.33,51.28 68,53.0 L-4,53.0" fill="none" stroke="#fff" stroke-opacity="0.34" stroke-width="8" stroke-linejoin="round" filter="url(#b2)"/>
<path d="M28.7,20.4 L70,20.4 L70,35.8 L28.7,35.8 A7.699999999999999,7.699999999999999 0 0 1 28.7,20.4 Z" fill="#fff" fill-opacity="0.161" filter="url(#b22)"/>
<path d="M31,35.8 L71.4,35.8 A8.600000000000001,8.600000000000001 0 0 1 71.4,53.0 L31,53.0 Z" fill="#fff" fill-opacity="0.179" filter="url(#b22)"/>
<path d="M68,20.4 L105,20.4 L105,35.8 L68,35.8 Z" fill="#fff" fill-opacity="0.000" filter="url(#b2)"/>
<path d="M-5,35.8 L33,35.8 L33,53.0 L-5,53.0 Z" fill="#fff" fill-opacity="0.088" filter="url(#b2)"/>
<path d="M104,20.4 L33,20.4 C15.67,21.94 15.67,34.26 33,35.8 L68,35.8 C85.33,37.52 85.33,51.28 68,53.0 L-4,53.0" fill="none" stroke="rgb(89,89,89)" stroke-width="22" stroke-linejoin="round" filter="url(#b17)" style="mix-blend-mode:lighten"/>
<path d="M104,20.4 L33,20.4 C15.67,21.94 15.67,34.26 33,35.8 L68,35.8 C85.33,37.52 85.33,51.28 68,53.0 L-4,53.0" fill="none" stroke="rgb(105,105,105)" stroke-width="18" stroke-linejoin="round" filter="url(#b17)" style="mix-blend-mode:lighten"/>
<path d="M104,20.4 L33,20.4 C15.67,21.94 15.67,34.26 33,35.8 L68,35.8 C85.33,37.52 85.33,51.28 68,53.0 L-4,53.0" fill="none" stroke="rgb(117,117,117)" stroke-width="14" stroke-linejoin="round" filter="url(#b17)" style="mix-blend-mode:lighten"/>
<path d="M104,20.4 L33,20.4 C15.67,21.94 15.67,34.26 33,35.8 L68,35.8 C85.33,37.52 85.33,51.28 68,53.0 L-4,53.0" fill="none" stroke="rgb(128,128,128)" stroke-width="10" stroke-linejoin="round" filter="url(#b17)" style="mix-blend-mode:lighten"/>
<path d="M104,20.4 L33,20.4 C15.67,21.94 15.67,34.26 33,35.8 L68,35.8 C85.33,37.52 85.33,51.28 68,53.0 L-4,53.0" fill="none" stroke="rgb(135,135,135)" stroke-width="6" stroke-linejoin="round" filter="url(#b26)" style="mix-blend-mode:lighten"/>
<path d="M104,20.4 L33,20.4 C15.67,21.94 15.67,34.26 33,35.8 L68,35.8 C85.33,37.52 85.33,51.28 68,53.0 L-4,53.0" fill="none" stroke="rgb(139,139,139)" stroke-width="3.0" stroke-linejoin="round" filter="url(#b26)" style="mix-blend-mode:lighten"/>

</g></g>
</g>
<g clip-path="url(#clip12)"><g filter="url(#cmap)">
<rect x="124.0" y="167.5" width="120.2" height="91.2" fill="rgb(69,69,69)"/>
<rect x="124.0" y="167.5" width="120.2" height="91.2" fill="url(#vig)"/>
<g transform="translate(134.0,177.5)">
<path d="M104,28.3 L22,28.3 C14.67,28.30 14.67,37.30 22,37.3 L80,37.3 C87.06,37.30 87.06,46.00 80,46.0 L-4,46.0" fill="none" stroke="#fff" stroke-opacity="0.25" stroke-width="6" stroke-linejoin="round" filter="url(#b2)"/>
<path d="M25.35,28.3 L76.45,28.3 A8.85,8.85 0 0 1 76.45,46.0 L25.35,46.0 A8.85,8.85 0 0 1 25.35,28.3 Z" fill="rgb(128,128,128)" filter="url(#b27)" style="mix-blend-mode:lighten"/>
<path d="M25.35,29.8 L76.45,29.8 A7.35,7.35 0 0 1 76.45,44.5 L25.35,44.5 A7.35,7.35 0 0 1 25.35,29.8 Z" fill="rgb(140,140,140)" filter="url(#b28)" style="mix-blend-mode:lighten"/>
<path d="M104,28.3 L22,28.3 C14.67,28.30 14.67,37.30 22,37.3 L80,37.3 C87.06,37.30 87.06,46.00 80,46.0 L-4,46.0" fill="none" stroke="rgb(79,79,79)" stroke-width="22" stroke-linejoin="round" filter="url(#b3)" style="mix-blend-mode:lighten"/>
<path d="M104,28.3 L22,28.3 C14.67,28.30 14.67,37.30 22,37.3 L80,37.3 C87.06,37.30 87.06,46.00 80,46.0 L-4,46.0" fill="none" stroke="rgb(89,89,89)" stroke-width="18" stroke-linejoin="round" filter="url(#b3)" style="mix-blend-mode:lighten"/>
<path d="M104,28.3 L22,28.3 C14.67,28.30 14.67,37.30 22,37.3 L80,37.3 C87.06,37.30 87.06,46.00 80,46.0 L-4,46.0" fill="none" stroke="rgb(102,102,102)" stroke-width="14" stroke-linejoin="round" filter="url(#b24)" style="mix-blend-mode:lighten"/>
<path d="M104,28.3 L22,28.3 C14.67,28.30 14.67,37.30 22,37.3 L80,37.3 C87.06,37.30 87.06,46.00 80,46.0 L-4,46.0" fill="none" stroke="rgb(115,115,115)" stroke-width="10.4" stroke-linejoin="round" filter="url(#b16)" style="mix-blend-mode:lighten"/>
<path d="M104,28.3 L22,28.3 C14.67,28.30 14.67,37.30 22,37.3 L80,37.3 C87.06,37.30 87.06,46.00 80,46.0 L-4,46.0" fill="none" stroke="rgb(128,128,128)" stroke-width="7.8" stroke-linejoin="round" filter="url(#b29)" style="mix-blend-mode:lighten"/>

</g></g>
<g transform="translate(134.0,177.5)"><path d="M104,28.3 L22,28.3 C14.67,28.30 14.67,37.30 22,37.3 L80,37.3 C87.06,37.30 87.06,46.00 80,46.0 L-4,46.0" fill="none" stroke="#e83a40" stroke-width="4.3" stroke-linejoin="round" opacity="0.85" filter="url(#b0)"/><path d="M104,28.3 L22,28.3 C14.67,28.30 14.67,37.30 22,37.3 L80,37.3 C87.06,37.30 87.06,46.00 80,46.0 L-4,46.0" fill="none" stroke="#fbe6d6" stroke-width="2.6" stroke-linejoin="round" filter="url(#b0)"/></g>
</g>
<g clip-path="url(#clip22)"><g filter="url(#cmap)">
<rect x="228.1" y="167.5" width="120.2" height="91.2" fill="rgb(69,69,69)"/>
<rect x="228.1" y="167.5" width="120.2" height="91.2" fill="url(#vig)"/>
<g transform="translate(238.1,177.5)">
<path d="M104,28.5 L24,28.5 C15.34,28.50 15.34,37.50 24,37.5 L80,37.5 C88.66,37.50 88.66,46.00 80,46.0 L-4,46.0" fill="none" stroke="#fff" stroke-opacity="0.3" stroke-width="8" stroke-linejoin="round" filter="url(#b2)"/>
<path d="M26.25,26.3 L77.75,26.3 A10.95,10.95 0 0 1 77.75,48.2 L26.25,48.2 A10.95,10.95 0 0 1 26.25,26.3 Z" fill="rgb(189,189,189)" filter="url(#b30)" style="mix-blend-mode:lighten"/>
<path d="M26.25,27.7 L77.75,27.7 A9.55,9.55 0 0 1 77.75,46.8 L26.25,46.8 A9.55,9.55 0 0 1 26.25,27.7 Z" fill="rgb(204,204,204)" filter="url(#b27)" style="mix-blend-mode:lighten"/>
<path d="M26.25,29.5 L77.75,29.5 A7.75,7.75 0 0 1 77.75,45.0 L26.25,45.0 A7.75,7.75 0 0 1 26.25,29.5 Z" fill="rgb(224,224,224)" filter="url(#b28)" style="mix-blend-mode:lighten"/>
<path d="M26.25,31.5 L77.75,31.5 A5.75,5.75 0 0 1 77.75,43.0 L26.25,43.0 A5.75,5.75 0 0 1 26.25,31.5 Z" fill="rgb(235,235,235)" filter="url(#b28)" style="mix-blend-mode:lighten"/>
<path d="M104,28.5 L24,28.5 C15.34,28.50 15.34,37.50 24,37.5 L80,37.5 C88.66,37.50 88.66,46.00 80,46.0 L-4,46.0" fill="none" stroke="rgb(82,82,82)" stroke-width="21.0" stroke-linejoin="round" filter="url(#b3)" style="mix-blend-mode:lighten"/>
<path d="M104,28.5 L24,28.5 C15.34,28.50 15.34,37.50 24,37.5 L80,37.5 C88.66,37.50 88.66,46.00 80,46.0 L-4,46.0" fill="none" stroke="rgb(94,94,94)" stroke-width="17.0" stroke-linejoin="round" filter="url(#b8)" style="mix-blend-mode:lighten"/>
<path d="M104,28.5 L24,28.5 C15.34,28.50 15.34,37.50 24,37.5 L80,37.5 C88.66,37.50 88.66,46.00 80,46.0 L-4,46.0" fill="none" stroke="rgb(107,107,107)" stroke-width="14" stroke-linejoin="round" filter="url(#b8)" style="mix-blend-mode:lighten"/>
<path d="M104,28.5 L24,28.5 C15.34,28.50 15.34,37.50 24,37.5 L80,37.5 C88.66,37.50 88.66,46.00 80,46.0 L-4,46.0" fill="none" stroke="rgb(122,122,122)" stroke-width="11.0" stroke-linejoin="round" filter="url(#b15)" style="mix-blend-mode:lighten"/>
<path d="M104,28.5 L24,28.5 C15.34,28.50 15.34,37.50 24,37.5 L80,37.5 C88.66,37.50 88.66,46.00 80,46.0 L-4,46.0" fill="none" stroke="rgb(138,138,138)" stroke-width="9.0" stroke-linejoin="round" filter="url(#b6)" style="mix-blend-mode:lighten"/>
<path d="M104,28.5 L24,28.5 C15.34,28.50 15.34,37.50 24,37.5 L80,37.5 C88.66,37.50 88.66,46.00 80,46.0 L-4,46.0" fill="none" stroke="rgb(161,161,161)" stroke-width="7.2" stroke-linejoin="round" filter="url(#b9)" style="mix-blend-mode:lighten"/>
<path d="M104,28.5 L24,28.5 C15.34,28.50 15.34,37.50 24,37.5 L80,37.5 C88.66,37.50 88.66,46.00 80,46.0 L-4,46.0" fill="none" stroke="rgb(191,191,191)" stroke-width="5.6" stroke-linejoin="round" filter="url(#b31)" style="mix-blend-mode:lighten"/>

</g></g>
</g>
<g clip-path="url(#clip32)"><g filter="url(#cmap)">
<rect x="332.5" y="167.5" width="120.2" height="91.2" fill="rgb(69,69,69)"/>
<rect x="332.5" y="167.5" width="120.2" height="91.2" fill="url(#vig)"/>
<g transform="translate(342.5,177.5)">
<path d="M104,28.0 L24,28.0 C16.00,28.00 16.00,37.00 24,37.0 L80,37.0 C88.66,37.00 88.66,45.50 80,45.5 L-4,45.5" fill="none" stroke="#fff" stroke-opacity="0.3" stroke-width="8" stroke-linejoin="round" filter="url(#b2)"/>
<path d="M26.75,25.8 L77.75,25.8 A10.95,10.95 0 0 1 77.75,47.7 L26.75,47.7 A10.95,10.95 0 0 1 26.75,25.8 Z" fill="rgb(184,184,184)" filter="url(#b26)" style="mix-blend-mode:lighten"/>
<path d="M26.75,28.0 L77.75,28.0 A8.75,8.75 0 0 1 77.75,45.5 L26.75,45.5 A8.75,8.75 0 0 1 26.75,28.0 Z" fill="rgb(191,191,191)" filter="url(#b28)" style="mix-blend-mode:lighten"/>
<path d="M26.75,30.0 L77.75,30.0 A6.75,6.75 0 0 1 77.75,43.5 L26.75,43.5 A6.75,6.75 0 0 1 26.75,30.0 Z" fill="rgb(195,195,195)" filter="url(#b28)" style="mix-blend-mode:lighten"/>
<path d="M104,28.0 L24,28.0 C16.00,28.00 16.00,37.00 24,37.0 L80,37.0 C88.66,37.00 88.66,45.50 80,45.5 L-4,45.5" fill="none" stroke="rgb(84,84,84)" stroke-width="23.0" stroke-linejoin="round" filter="url(#b3)" style="mix-blend-mode:lighten"/>
<path d="M104,28.0 L24,28.0 C16.00,28.00 16.00,37.00 24,37.0 L80,37.0 C88.66,37.00 88.66,45.50 80,45.5 L-4,45.5" fill="none" stroke="rgb(94,94,94)" stroke-width="19.0" stroke-linejoin="round" filter="url(#b8)" style="mix-blend-mode:lighten"/>
<path d="M104,28.0 L24,28.0 C16.00,28.00 16.00,37.00 24,37.0 L80,37.0 C88.66,37.00 88.66,45.50 80,45.5 L-4,45.5" fill="none" stroke="rgb(107,107,107)" stroke-width="16" stroke-linejoin="round" filter="url(#b8)" style="mix-blend-mode:lighten"/>
<path d="M104,28.0 L24,28.0 C16.00,28.00 16.00,37.00 24,37.0 L80,37.0 C88.66,37.00 88.66,45.50 80,45.5 L-4,45.5" fill="none" stroke="rgb(122,122,122)" stroke-width="13.0" stroke-linejoin="round" filter="url(#b8)" style="mix-blend-mode:lighten"/>
<path d="M104,28.0 L24,28.0 C16.00,28.00 16.00,37.00 24,37.0 L80,37.0 C88.66,37.00 88.66,45.50 80,45.5 L-4,45.5" fill="none" stroke="rgb(138,138,138)" stroke-width="10" stroke-linejoin="round" filter="url(#b13)" style="mix-blend-mode:lighten"/>
<path d="M104,28.0 L24,28.0 C16.00,28.00 16.00,37.00 24,37.0 L80,37.0 C88.66,37.00 88.66,45.50 80,45.5 L-4,45.5" fill="none" stroke="rgb(158,158,158)" stroke-width="7.6" stroke-linejoin="round" filter="url(#b15)" style="mix-blend-mode:lighten"/>
<path d="M104,28.0 L24,28.0 C16.00,28.00 16.00,37.00 24,37.0 L80,37.0 C88.66,37.00 88.66,45.50 80,45.5 L-4,45.5" fill="none" stroke="rgb(178,178,178)" stroke-width="5.6" stroke-linejoin="round" filter="url(#b31)" style="mix-blend-mode:lighten"/>

</g></g>
</g>
<g clip-path="url(#clip42)"><g filter="url(#cmap)">
<rect x="436.3" y="167.5" width="120.2" height="91.2" fill="rgb(69,69,69)"/>
<rect x="436.3" y="167.5" width="120.2" height="91.2" fill="url(#vig)"/>
<g transform="translate(446.3,177.5)">
<path d="M104,28.0 L24,28.0 C16.00,28.00 16.00,37.00 24,37.0 L80,37.0 C88.00,37.00 88.00,46.00 80,46.0 L-4,46.0" fill="none" stroke="#fff" stroke-opacity="0.32" stroke-width="8" stroke-linejoin="round" filter="url(#b2)"/>
<path d="M27.0,25.5 L77.0,25.5 A11.5,11.5 0 0 1 77.0,48.5 L27.0,48.5 A11.5,11.5 0 0 1 27.0,25.5 Z" fill="rgb(163,163,163)" filter="url(#b32)" style="mix-blend-mode:lighten"/>
<path d="M27.0,27.5 L77.0,27.5 A9.5,9.5 0 0 1 77.0,46.5 L27.0,46.5 A9.5,9.5 0 0 1 27.0,27.5 Z" fill="rgb(176,176,176)" filter="url(#b33)" style="mix-blend-mode:lighten"/>
<path d="M27.0,30.0 L77.0,30.0 A7.0,7.0 0 0 1 77.0,44.0 L27.0,44.0 A7.0,7.0 0 0 1 27.0,30.0 Z" fill="rgb(186,186,186)" filter="url(#b34)" style="mix-blend-mode:lighten"/>
<path d="M104,28.0 L24,28.0 C16.00,28.00 16.00,37.00 24,37.0 L80,37.0 C88.00,37.00 88.00,46.00 80,46.0 L-4,46.0" fill="none" stroke="rgb(87,87,87)" stroke-width="25.0" stroke-linejoin="round" filter="url(#b3)" style="mix-blend-mode:lighten"/>
<path d="M104,28.0 L24,28.0 C16.00,28.00 16.00,37.00 24,37.0 L80,37.0 C88.00,37.00 88.00,46.00 80,46.0 L-4,46.0" fill="none" stroke="rgb(97,97,97)" stroke-width="21.0" stroke-linejoin="round" filter="url(#b8)" style="mix-blend-mode:lighten"/>
<path d="M104,28.0 L24,28.0 C16.00,28.00 16.00,37.00 24,37.0 L80,37.0 C88.00,37.00 88.00,46.00 80,46.0 L-4,46.0" fill="none" stroke="rgb(110,110,110)" stroke-width="18" stroke-linejoin="round" filter="url(#b8)" style="mix-blend-mode:lighten"/>
<path d="M104,28.0 L24,28.0 C16.00,28.00 16.00,37.00 24,37.0 L80,37.0 C88.00,37.00 88.00,46.00 80,46.0 L-4,46.0" fill="none" stroke="rgb(120,120,120)" stroke-width="15.0" stroke-linejoin="round" filter="url(#b8)" style="mix-blend-mode:lighten"/>
<path d="M104,28.0 L24,28.0 C16.00,28.00 16.00,37.00 24,37.0 L80,37.0 C88.00,37.00 88.00,46.00 80,46.0 L-4,46.0" fill="none" stroke="rgb(130,130,130)" stroke-width="12" stroke-linejoin="round" filter="url(#b8)" style="mix-blend-mode:lighten"/>
<path d="M104,28.0 L24,28.0 C16.00,28.00 16.00,37.00 24,37.0 L80,37.0 C88.00,37.00 88.00,46.00 80,46.0 L-4,46.0" fill="none" stroke="rgb(143,143,143)" stroke-width="9.0" stroke-linejoin="round" filter="url(#b8)" style="mix-blend-mode:lighten"/>
<path d="M104,28.0 L24,28.0 C16.00,28.00 16.00,37.00 24,37.0 L80,37.0 C88.00,37.00 88.00,46.00 80,46.0 L-4,46.0" fill="none" stroke="rgb(156,156,156)" stroke-width="6" stroke-linejoin="round" filter="url(#b35)" style="mix-blend-mode:lighten"/>

</g></g>
</g>
<g clip-path="url(#clip52)"><g filter="url(#cmap)">
<rect x="540.8" y="167.5" width="120.2" height="91.2" fill="rgb(69,69,69)"/>
<rect x="540.8" y="167.5" width="120.2" height="91.2" fill="url(#vig)"/>
<g transform="translate(550.8,177.5)">
<path d="M104,28.0 L24,28.0 C16.00,28.00 16.00,37.00 24,37.0 L80,37.0 C88.00,37.00 88.00,46.00 80,46.0 L-4,46.0" fill="none" stroke="#fff" stroke-opacity="0.34" stroke-width="8" stroke-linejoin="round" filter="url(#b2)"/>
<path d="M27.0,25.5 L77.0,25.5 A11.5,11.5 0 0 1 77.0,48.5 L27.0,48.5 A11.5,11.5 0 0 1 27.0,25.5 Z" fill="rgb(145,145,145)" filter="url(#b36)" style="mix-blend-mode:lighten"/>
<path d="M27.0,28.0 L77.0,28.0 A9.0,9.0 0 0 1 77.0,46.0 L27.0,46.0 A9.0,9.0 0 0 1 27.0,28.0 Z" fill="rgb(156,156,156)" filter="url(#b37)" style="mix-blend-mode:lighten"/>
<path d="M27.0,31.0 L77.0,31.0 A6.0,6.0 0 0 1 77.0,43.0 L27.0,43.0 A6.0,6.0 0 0 1 27.0,31.0 Z" fill="rgb(166,166,166)" filter="url(#b38)" style="mix-blend-mode:lighten"/>
<path d="M104,28.0 L24,28.0 C16.00,28.00 16.00,37.00 24,37.0 L80,37.0 C88.00,37.00 88.00,46.00 80,46.0 L-4,46.0" fill="none" stroke="rgb(89,89,89)" stroke-width="27.0" stroke-linejoin="round" filter="url(#b3)" style="mix-blend-mode:lighten"/>
<path d="M104,28.0 L24,28.0 C16.00,28.00 16.00,37.00 24,37.0 L80,37.0 C88.00,37.00 88.00,46.00 80,46.0 L-4,46.0" fill="none" stroke="rgb(99,99,99)" stroke-width="23.0" stroke-linejoin="round" filter="url(#b3)" style="mix-blend-mode:lighten"/>
<path d="M104,28.0 L24,28.0 C16.00,28.00 16.00,37.00 24,37.0 L80,37.0 C88.00,37.00 88.00,46.00 80,46.0 L-4,46.0" fill="none" stroke="rgb(112,112,112)" stroke-width="19.0" stroke-linejoin="round" filter="url(#b3)" style="mix-blend-mode:lighten"/>
<path d="M104,28.0 L24,28.0 C16.00,28.00 16.00,37.00 24,37.0 L80,37.0 C88.00,37.00 88.00,46.00 80,46.0 L-4,46.0" fill="none" stroke="rgb(122,122,122)" stroke-width="15.0" stroke-linejoin="round" filter="url(#b3)" style="mix-blend-mode:lighten"/>
<path d="M104,28.0 L24,28.0 C16.00,28.00 16.00,37.00 24,37.0 L80,37.0 C88.00,37.00 88.00,46.00 80,46.0 L-4,46.0" fill="none" stroke="rgb(133,133,133)" stroke-width="11.0" stroke-linejoin="round" filter="url(#b3)" style="mix-blend-mode:lighten"/>
<path d="M104,28.0 L24,28.0 C16.00,28.00 16.00,37.00 24,37.0 L80,37.0 C88.00,37.00 88.00,46.00 80,46.0 L-4,46.0" fill="none" stroke="rgb(142,142,142)" stroke-width="7.0" stroke-linejoin="round" filter="url(#b39)" style="mix-blend-mode:lighten"/>

</g></g>
</g>
<g transform="translate(29.3,25.7)">
<rect x="0" y="0" width="100.2" height="71.2" fill="url(#vg0)"/>
<path d="M100.5,11.3 L24,11.3 C10.57,11.3 10.57,36.1 24,36.1 L68,36.1 C90.61,36.1 90.61,62.5 68,62.5 L-0.5,62.5" fill="none" stroke="#bdb8ae" stroke-width="2.6" stroke-linejoin="round"/>
<path d="M100.5,11.3 L24,11.3 C10.57,11.3 10.57,36.1 24,36.1 L68,36.1 C90.61,36.1 90.61,62.5 68,62.5 L-0.5,62.5" fill="none" stroke="#d6d2ca" stroke-width="1.2" stroke-linejoin="round" opacity="0.7"/>
</g>
<g transform="translate(29.3,101.6)">
<rect x="0" y="0" width="100.2" height="71.2" fill="url(#vg1)"/>
<path d="M100.5,18.2 L23,18.2 C9.97,18.2 9.97,36.7 23,36.7 L71,36.7 C88.56,36.7 88.56,55.3 71,55.3 L-0.5,55.3" fill="none" stroke="#bdb8ae" stroke-width="2.6" stroke-linejoin="round"/>
<path d="M100.5,18.2 L23,18.2 C9.97,18.2 9.97,36.7 23,36.7 L71,36.7 C88.56,36.7 88.56,55.3 71,55.3 L-0.5,55.3" fill="none" stroke="#d6d2ca" stroke-width="1.2" stroke-linejoin="round" opacity="0.7"/>
</g>
<g transform="translate(29.3,177.5)">
<rect x="0" y="0" width="100.2" height="71.2" fill="url(#vg2)"/>
<path d="M100.5,26.6 L20,27.0 C10.69,27.0 10.69,36.5 20,36.5 L76,36.5 C85.31,36.5 85.31,46.3 76,46.3 L-0.5,46.3" fill="none" stroke="#bdb8ae" stroke-width="2.6" stroke-linejoin="round"/>
<path d="M100.5,26.6 L20,27.0 C10.69,27.0 10.69,36.5 20,36.5 L76,36.5 C85.31,36.5 85.31,46.3 76,46.3 L-0.5,46.3" fill="none" stroke="#d6d2ca" stroke-width="1.2" stroke-linejoin="round" opacity="0.7"/>
</g>
<g transform="translate(29.3,25.7)">
<path d="M56.9,13.5 L56.9,34.9" stroke="#e8e8e8" stroke-width="0.8" fill="none"/><path d="M54.699999999999996,16.1 L56.9,13.5 L59.1,16.1 M54.699999999999996,32.3 L56.9,34.9 L59.1,32.3" stroke="#e8e8e8" stroke-width="0.8" fill="none"/>
<path d="M42.5,38.4 L42.5,60.0" stroke="#e8e8e8" stroke-width="0.8" fill="none"/><path d="M40.3,41.0 L42.5,38.4 L44.7,41.0 M40.3,57.4 L42.5,60.0 L44.7,57.4" stroke="#e8e8e8" stroke-width="0.8" fill="none"/>
<text x="63.4" y="27.3" font-size="8.2" font-weight="bold" fill="#e6e6e6" textLength="25.6" lengthAdjust="spacing">15 mm</text>
</g>
<g transform="translate(29.3,101.6)">
<path d="M57.0,20.2 L57.0,34.9" stroke="#e8e8e8" stroke-width="0.8" fill="none"/><path d="M54.8,22.8 L57.0,20.2 L59.2,22.8 M54.8,32.3 L57.0,34.9 L59.2,32.3" stroke="#e8e8e8" stroke-width="0.8" fill="none"/>
<path d="M42.3,38.8 L42.3,53.6" stroke="#e8e8e8" stroke-width="0.8" fill="none"/><path d="M40.099999999999994,41.4 L42.3,38.8 L44.5,41.4 M40.099999999999994,51.0 L42.3,53.6 L44.5,51.0" stroke="#e8e8e8" stroke-width="0.8" fill="none"/>
<text x="63.4" y="31.6" font-size="8.2" font-weight="bold" fill="#e6e6e6" textLength="25.6" lengthAdjust="spacing">10 mm</text>
</g>
<g transform="translate(29.3,177.5)">
<path d="M57.3,18.5 L57.3,45.6 M42.2,28 L42.2,56.4" stroke="#e8e8e8" stroke-width="0.8" fill="none"/>
<path d="M55.5,23.5 L57.3,26 L59.1,23.5 M55.5,38.5 L57.3,36.2 L59.1,38.5 M40.4,33.5 L42.2,35.8 L44,33.5 M40.4,49.5 L42.2,47.2 L44,49.5" stroke="#e8e8e8" stroke-width="0.8" fill="none"/>
<text x="47.5" y="14.6" font-size="8.2" font-weight="bold" fill="#e6e6e6" textLength="20.6" lengthAdjust="spacing">5 mm</text>
</g>
<text x="0.3" y="7.9" font-size="13" font-weight="bold" fill="#000">a</text>
<text x="79.3" y="8.4" font-size="9" text-anchor="middle" fill="#222">Visible image</text>
<text x="80.3" y="20.0" font-size="9" text-anchor="middle" fill="#222">(without artificial skin)</text>
<text x="184.2" y="8.4" font-size="9" text-anchor="middle" fill="#222">Infrared image</text>
<text x="184.4" y="20.0" font-size="9" text-anchor="middle" fill="#222">(without artificial skin)</text>
<text x="239.4" y="8.3" font-size="9" fill="#222" textLength="115" lengthAdjust="spacingAndGlyphs">Artificial skin thickness (mm)</text>
<path d="M357.3,5.8 L633.5,5.8" stroke="#f01818" stroke-width="1.5"/>
<path d="M632.8,2.9 L638.6,5.8 L632.8,8.7 Z" fill="#f01818"/>
<text x="288.2" y="21.0" font-size="9" text-anchor="middle" fill="#222">0.5</text>
<text x="392.6" y="21.0" font-size="9" text-anchor="middle" fill="#222">1.0</text>
<text x="496.4" y="21.0" font-size="9" text-anchor="middle" fill="#222">2.0</text>
<text x="600.9" y="21.0" font-size="9" text-anchor="middle" fill="#222">3.0</text>
<text x="20.5" y="64.6" font-size="9" text-anchor="middle" fill="#222">15</text>
<text x="20.5" y="140.5" font-size="9" text-anchor="middle" fill="#222">10</text>
<text x="20.5" y="216.4" font-size="9" text-anchor="middle" fill="#222">5</text>
<text transform="translate(9.1,66.8) rotate(-90)" font-size="9" text-anchor="middle" fill="#222">Fiber distance (mm)</text>
<path d="M5.2,111.5 L5.2,235" stroke="#1414f0" stroke-width="1.3"/>
<path d="M2.8,234.2 L5.2,240 L7.6,234.2 Z" fill="#1414f0"/>
<text x="30.8" y="261" font-size="8.6" fill="#222" textLength="157" lengthAdjust="spacingAndGlyphs">(Flow condition: 60 °C, 4.47 cc/min, 2 Hz)</text>
<rect x="661.7" y="38.2" width="8.3" height="164.6" fill="url(#cbar)"/>
<text x="657.2" y="33.5" font-size="8" fill="#222">39.5 °C</text>
<text x="658.0" y="213.7" font-size="8" fill="#222">20 °C</text>
<text x="654.2" y="242.8" font-size="8" fill="#222">10 mm</text>
<rect x="658.3" y="247.1" width="14.7" height="2" fill="#000"/>
<path d="M392.3,182.5 L392.3,238" stroke="#fff" stroke-width="1.2" stroke-dasharray="3.2,1.9"/>
<rect x="373.8" y="240.8" width="38.6" height="15.4" fill="#fff" stroke="#222" stroke-width="1"/>
<text x="393.2" y="251.4" font-size="8" text-anchor="middle" fill="#222">Length</text>
<text x="0.6" y="288.0" font-size="13" font-weight="bold" fill="#000">b</text>
<text x="32.2" y="286.6" font-size="8.1" fill="#222" textLength="91.6" lengthAdjust="spacingAndGlyphs">(Fiber distance: 15 mm)</text>
<path d="M29.8,391.60 h1.3 M29.8,383.08 h1.8 M29.8,374.57 h1.3 M29.8,366.05 h1.8 M29.8,357.53 h1.3 M29.8,349.02 h1.8 M29.8,340.50 h1.3 M29.8,331.98 h1.8 M29.8,323.47 h1.3 M29.8,314.95 h1.8 M29.8,306.43 h1.3 M29.8,297.92 h1.8 M29.8,289.40 h1.3 M29.80,391.6 v-1.8 M45.52,391.6 v-1.3 M61.25,391.6 v-1.8 M76.97,391.6 v-1.3 M92.70,391.6 v-1.8 M108.42,391.6 v-1.3 M124.15,391.6 v-1.8 M139.88,391.6 v-1.3 M155.60,391.6 v-1.8" stroke="#555" stroke-width="0.7" fill="none"/>
<polyline points="29.80,382.40 30.11,382.32 30.43,382.24 30.74,382.16 31.06,382.08 31.37,381.99 31.69,381.90 32.00,381.82 32.32,381.73 32.63,381.64 32.95,381.54 33.26,381.45 33.57,381.36 33.89,381.26 34.20,381.16 34.52,381.06 34.83,380.97 35.15,380.86 35.46,380.76 35.78,380.66 36.09,380.56 36.40,380.45 36.72,380.34 37.03,380.24 37.35,380.13 37.66,380.02 37.98,379.91 38.29,379.80 38.61,379.68 38.92,379.57 39.23,379.46 39.55,379.34 39.86,379.22 40.18,379.11 40.49,378.99 40.81,378.87 41.12,378.74 41.44,378.62 41.75,378.49 42.07,378.37 42.38,378.24 42.69,378.11 43.01,377.97 43.32,377.84 43.64,377.70 43.95,377.56 44.27,377.42 44.58,377.27 44.90,377.13 45.21,376.98 45.52,376.83 45.84,376.67 46.15,376.51 46.47,376.35 46.78,376.18 47.10,375.99 47.41,375.78 47.73,375.57 48.04,375.34 48.36,375.10 48.67,374.86 48.98,374.61 49.30,374.35 49.61,374.09 49.93,373.83 50.24,373.56 50.56,373.30 50.87,373.05 51.19,372.79 51.50,372.53 51.81,372.27 52.13,372.00 52.44,371.73 52.76,371.45 53.07,371.16 53.39,370.86 53.70,370.57 54.02,370.27 54.33,369.97 54.65,369.67 54.96,369.36 55.27,369.04 55.59,368.73 55.90,368.43 56.22,368.13 56.53,367.84 56.85,367.56 57.16,367.27 57.48,366.96 57.79,366.64 58.11,366.30 58.42,365.97 58.73,365.65 59.05,365.36 59.36,365.10 59.68,364.88 59.99,364.68 60.31,364.50 60.62,364.35 60.94,364.23 61.25,364.13 61.56,364.06 61.88,364.01 62.19,364.06 62.51,364.13 62.82,364.22 63.14,364.31 63.45,364.42 63.77,364.54 64.08,364.66 64.39,364.79 64.71,364.95 65.02,365.14 65.34,365.35 65.65,365.56 65.97,365.77 66.28,365.97 66.60,366.15 66.91,366.32 67.23,366.48 67.54,366.64 67.85,366.80 68.17,366.95 68.48,367.09 68.80,367.23 69.11,367.36 69.43,367.48 69.74,367.59 70.06,367.69 70.37,367.80 70.69,367.90 71.00,368.00 71.31,368.10 71.63,368.19 71.94,368.28 72.26,368.36 72.57,368.44 72.89,368.51 73.20,368.57 73.52,368.63 73.83,368.69 74.14,368.75 74.46,368.81 74.77,368.87 75.09,368.92 75.40,368.96 75.72,369.00 76.03,369.04 76.35,369.07 76.66,369.09 76.97,369.11 77.29,369.11 77.60,369.09 77.92,369.06 78.23,369.02 78.55,368.97 78.86,368.90 79.18,368.83 79.49,368.76 79.81,368.67 80.12,368.58 80.43,368.49 80.75,368.39 81.06,368.29 81.38,368.19 81.69,368.08 82.01,367.96 82.32,367.83 82.64,367.68 82.95,367.52 83.27,367.34 83.58,367.15 83.89,366.96 84.21,366.75 84.52,366.53 84.84,366.31 85.15,366.06 85.47,365.79 85.78,365.49 86.10,365.16 86.41,364.82 86.72,364.46 87.04,364.08 87.35,363.70 87.67,363.31 87.98,362.91 88.30,362.48 88.61,362.01 88.93,361.52 89.24,361.02 89.55,360.54 89.87,360.09 90.18,359.71 90.50,359.39 90.81,359.10 91.13,358.82 91.44,358.57 91.76,358.35 92.07,358.15 92.39,357.99 92.70,357.87 93.01,357.99 93.33,358.15 93.64,358.34 93.96,358.56 94.27,358.80 94.59,359.07 94.90,359.36 95.22,359.66 95.53,360.04 95.84,360.47 96.16,360.93 96.47,361.42 96.79,361.90 97.10,362.35 97.42,362.76 97.73,363.14 98.05,363.52 98.36,363.88 98.68,364.24 98.99,364.58 99.30,364.91 99.62,365.21 99.93,365.49 100.25,365.74 100.56,365.96 100.88,366.17 101.19,366.36 101.51,366.54 101.82,366.71 102.13,366.87 102.45,367.01 102.76,367.14 103.08,367.25 103.39,367.34 103.71,367.41 104.02,367.45 104.34,367.49 104.65,367.52 104.97,367.54 105.28,367.55 105.59,367.56 105.91,367.55 106.22,367.54 106.54,367.52 106.85,367.49 107.17,367.45 107.48,367.41 107.80,367.36 108.11,367.29 108.42,367.20 108.74,367.09 109.05,366.98 109.37,366.85 109.68,366.71 110.00,366.57 110.31,366.41 110.63,366.25 110.94,366.09 111.26,365.91 111.57,365.71 111.88,365.50 112.20,365.27 112.51,365.02 112.83,364.77 113.14,364.50 113.46,364.23 113.77,363.96 114.09,363.68 114.40,363.38 114.72,363.05 115.03,362.69 115.34,362.33 115.66,361.98 115.97,361.67 116.29,361.39 116.60,361.17 116.92,360.98 117.23,360.80 117.55,360.64 117.86,360.51 118.17,360.39 118.49,360.31 118.80,360.26 119.12,360.40 119.43,360.57 119.75,360.76 120.06,360.98 120.38,361.22 120.69,361.48 121.00,361.75 121.32,362.05 121.63,362.39 121.95,362.79 122.26,363.21 122.58,363.65 122.89,364.08 123.21,364.50 123.52,364.88 123.84,365.24 124.15,365.60 124.46,365.96 124.78,366.32 125.09,366.68 125.41,367.05 125.72,367.41 126.04,367.76 126.35,368.11 126.67,368.44 126.98,368.77 127.30,369.09 127.61,369.42 127.92,369.75 128.24,370.07 128.55,370.38 128.87,370.69 129.18,370.99 129.50,371.28 129.81,371.56 130.13,371.86 130.44,372.17 130.75,372.50 131.07,372.83 131.38,373.18 131.70,373.52 132.01,373.86 132.33,374.19 132.64,374.50 132.96,374.80 133.27,375.09 133.59,375.37 133.90,375.65 134.21,375.91 134.53,376.17 134.84,376.43 135.16,376.68 135.47,376.93 135.79,377.17 136.10,377.41 136.42,377.64 136.73,377.87 137.04,378.08 137.36,378.28 137.67,378.48 137.99,378.65 138.30,378.83 138.62,378.99 138.93,379.16 139.25,379.32 139.56,379.47 139.88,379.63 140.19,379.78 140.50,379.92 140.82,380.07 141.13,380.21 141.45,380.34 141.76,380.48 142.08,380.61 142.39,380.74 142.71,380.87 143.02,380.99 143.33,381.12 143.65,381.24 143.96,381.35 144.28,381.47 144.59,381.59 144.91,381.70 145.22,381.81 145.54,381.92 145.85,382.03 146.17,382.14 146.48,382.24 146.79,382.35 147.11,382.45 147.42,382.56 147.74,382.66 148.05,382.76 148.37,382.86 148.68,382.96 149.00,383.06 149.31,383.16 149.62,383.25 149.94,383.34 150.25,383.44 150.57,383.53 150.88,383.62 151.20,383.71 151.51,383.80 151.83,383.88 152.14,383.97 152.46,384.05 152.77,384.13 153.08,384.21 153.40,384.29 153.71,384.37 154.03,384.44 154.34,384.51 154.66,384.58 154.97,384.65 155.29,384.72 155.60,384.79" fill="none" stroke="#1e8c28" stroke-width="1.2" stroke-linejoin="round"/>
<polyline points="29.80,382.06 30.11,381.99 30.43,381.91 30.74,381.83 31.06,381.76 31.37,381.68 31.69,381.60 32.00,381.52 32.32,381.44 32.63,381.36 32.95,381.28 33.26,381.20 33.57,381.12 33.89,381.04 34.20,380.96 34.52,380.87 34.83,380.79 35.15,380.71 35.46,380.62 35.78,380.54 36.09,380.45 36.40,380.37 36.72,380.28 37.03,380.19 37.35,380.11 37.66,380.02 37.98,379.93 38.29,379.84 38.61,379.76 38.92,379.67 39.23,379.59 39.55,379.51 39.86,379.42 40.18,379.34 40.49,379.26 40.81,379.17 41.12,379.09 41.44,379.00 41.75,378.91 42.07,378.83 42.38,378.74 42.69,378.65 43.01,378.55 43.32,378.46 43.64,378.36 43.95,378.26 44.27,378.16 44.58,378.06 44.90,377.95 45.21,377.84 45.52,377.72 45.84,377.60 46.15,377.48 46.47,377.36 46.78,377.23 47.10,377.08 47.41,376.93 47.73,376.76 48.04,376.59 48.36,376.40 48.67,376.21 48.98,376.02 49.30,375.82 49.61,375.62 49.93,375.41 50.24,375.21 50.56,375.00 50.87,374.77 51.19,374.54 51.50,374.30 51.81,374.06 52.13,373.80 52.44,373.54 52.76,373.26 53.07,372.97 53.39,372.68 53.70,372.39 54.02,372.09 54.33,371.80 54.65,371.51 54.96,371.20 55.27,370.89 55.59,370.58 55.90,370.26 56.22,369.95 56.53,369.63 56.85,369.31 57.16,368.98 57.48,368.64 57.79,368.26 58.11,367.85 58.42,367.41 58.73,366.94 59.05,366.45 59.36,365.94 59.68,365.41 59.99,364.85 60.31,364.23 60.62,363.56 60.94,362.88 61.25,362.18 61.56,361.40 61.88,360.53 62.19,359.65 62.51,358.87 62.82,358.26 63.14,357.80 63.45,357.37 63.77,356.99 64.08,356.70 64.39,356.51 64.71,356.65 65.02,356.88 65.34,357.19 65.65,357.56 65.97,357.97 66.28,358.52 66.60,359.24 66.91,360.06 67.23,360.87 67.54,361.58 67.85,362.22 68.17,362.83 68.48,363.41 68.80,363.95 69.11,364.41 69.43,364.84 69.74,365.24 70.06,365.62 70.37,365.98 70.69,366.30 71.00,366.59 71.31,366.84 71.63,367.05 71.94,367.24 72.26,367.43 72.57,367.60 72.89,367.76 73.20,367.90 73.52,368.04 73.83,368.16 74.14,368.26 74.46,368.36 74.77,368.44 75.09,368.52 75.40,368.60 75.72,368.68 76.03,368.76 76.35,368.83 76.66,368.90 76.97,368.96 77.29,369.01 77.60,369.06 77.92,369.09 78.23,369.11 78.55,369.12 78.86,369.11 79.18,369.10 79.49,369.07 79.81,369.04 80.12,369.00 80.43,368.96 80.75,368.91 81.06,368.85 81.38,368.80 81.69,368.73 82.01,368.67 82.32,368.61 82.64,368.54 82.95,368.46 83.27,368.36 83.58,368.25 83.89,368.12 84.21,367.97 84.52,367.81 84.84,367.63 85.15,367.44 85.47,367.23 85.78,367.00 86.10,366.73 86.41,366.42 86.72,366.08 87.04,365.70 87.35,365.29 87.67,364.87 87.98,364.42 88.30,363.92 88.61,363.37 88.93,362.76 89.24,362.12 89.55,361.47 89.87,360.73 90.18,359.90 90.50,359.07 90.81,358.33 91.13,357.76 91.44,357.32 91.76,356.93 92.07,356.59 92.39,356.33 92.70,356.17 93.01,356.33 93.33,356.58 93.64,356.91 93.96,357.30 94.27,357.72 94.59,358.28 94.90,359.01 95.22,359.82 95.53,360.63 95.84,361.35 96.16,361.98 96.47,362.60 96.79,363.19 97.10,363.72 97.42,364.20 97.73,364.63 98.05,365.04 98.36,365.42 98.68,365.78 98.99,366.11 99.30,366.41 99.62,366.67 99.93,366.89 100.25,367.10 100.56,367.29 100.88,367.47 101.19,367.64 101.51,367.80 101.82,367.94 102.13,368.07 102.45,368.19 102.76,368.29 103.08,368.38 103.39,368.47 103.71,368.56 104.02,368.65 104.34,368.74 104.65,368.81 104.97,368.89 105.28,368.95 105.59,369.01 105.91,369.05 106.22,369.07 106.54,369.06 106.85,369.03 107.17,368.98 107.48,368.92 107.80,368.86 108.11,368.79 108.42,368.71 108.74,368.64 109.05,368.56 109.37,368.48 109.68,368.41 110.00,368.32 110.31,368.23 110.63,368.13 110.94,368.01 111.26,367.88 111.57,367.74 111.88,367.59 112.20,367.42 112.51,367.25 112.83,367.06 113.14,366.85 113.46,366.59 113.77,366.30 114.09,365.98 114.40,365.63 114.72,365.26 115.03,364.86 115.34,364.44 115.66,363.96 115.97,363.42 116.29,362.84 116.60,362.24 116.92,361.60 117.23,360.86 117.55,360.06 117.86,359.31 118.17,358.70 118.49,358.28 118.80,357.92 119.12,357.61 119.43,357.37 119.75,357.23 120.06,357.29 120.38,357.58 120.69,357.95 121.00,358.39 121.32,358.89 121.63,359.44 121.95,360.19 122.26,361.07 122.58,361.99 122.89,362.87 123.21,363.63 123.52,364.36 123.84,365.07 124.15,365.73 124.46,366.35 124.78,366.90 125.09,367.45 125.41,367.97 125.72,368.48 126.04,368.96 126.35,369.42 126.67,369.84 126.98,370.23 127.30,370.59 127.61,370.94 127.92,371.29 128.24,371.62 128.55,371.93 128.87,372.24 129.18,372.53 129.50,372.81 129.81,373.07 130.13,373.32 130.44,373.57 130.75,373.82 131.07,374.07 131.38,374.33 131.70,374.57 132.01,374.82 132.33,375.05 132.64,375.28 132.96,375.50 133.27,375.71 133.59,375.91 133.90,376.10 134.21,376.28 134.53,376.45 134.84,376.63 135.16,376.81 135.47,376.98 135.79,377.16 136.10,377.33 136.42,377.51 136.73,377.67 137.04,377.84 137.36,378.00 137.67,378.16 137.99,378.31 138.30,378.46 138.62,378.61 138.93,378.76 139.25,378.91 139.56,379.06 139.88,379.21 140.19,379.36 140.50,379.50 140.82,379.65 141.13,379.79 141.45,379.93 141.76,380.07 142.08,380.21 142.39,380.35 142.71,380.49 143.02,380.62 143.33,380.75 143.65,380.88 143.96,381.01 144.28,381.13 144.59,381.25 144.91,381.37 145.22,381.49 145.54,381.60 145.85,381.71 146.17,381.81 146.48,381.91 146.79,382.01 147.11,382.11 147.42,382.20 147.74,382.30 148.05,382.39 148.37,382.48 148.68,382.57 149.00,382.66 149.31,382.74 149.62,382.83 149.94,382.91 150.25,382.99 150.57,383.07 150.88,383.15 151.20,383.23 151.51,383.31 151.83,383.38 152.14,383.45 152.46,383.52 152.77,383.59 153.08,383.66 153.40,383.72 153.71,383.78 154.03,383.84 154.34,383.90 154.66,383.96 154.97,384.01 155.29,384.06 155.60,384.11" fill="none" stroke="#f21cf2" stroke-width="1.2" stroke-linejoin="round"/>
<polyline points="29.80,384.79 30.11,384.71 30.43,384.64 30.74,384.56 31.06,384.48 31.37,384.40 31.69,384.33 32.00,384.25 32.32,384.17 32.63,384.09 32.95,384.01 33.26,383.93 33.57,383.85 33.89,383.76 34.20,383.68 34.52,383.60 34.83,383.51 35.15,383.43 35.46,383.35 35.78,383.26 36.09,383.18 36.40,383.09 36.72,383.00 37.03,382.92 37.35,382.83 37.66,382.74 37.98,382.66 38.29,382.57 38.61,382.48 38.92,382.40 39.23,382.32 39.55,382.23 39.86,382.15 40.18,382.06 40.49,381.98 40.81,381.90 41.12,381.81 41.44,381.73 41.75,381.64 42.07,381.55 42.38,381.46 42.69,381.37 43.01,381.28 43.32,381.18 43.64,381.09 43.95,380.99 44.27,380.89 44.58,380.78 44.90,380.67 45.21,380.56 45.52,380.45 45.84,380.33 46.15,380.21 46.47,380.08 46.78,379.95 47.10,379.81 47.41,379.66 47.73,379.49 48.04,379.32 48.36,379.14 48.67,378.96 48.98,378.77 49.30,378.57 49.61,378.37 49.93,378.17 50.24,377.96 50.56,377.76 50.87,377.55 51.19,377.35 51.50,377.15 51.81,376.95 52.13,376.75 52.44,376.54 52.76,376.32 53.07,376.07 53.39,375.79 53.70,375.48 54.02,375.15 54.33,374.81 54.65,374.46 54.96,374.11 55.27,373.76 55.59,373.43 55.90,373.10 56.22,372.77 56.53,372.44 56.85,372.10 57.16,371.74 57.48,371.37 57.79,370.98 58.11,370.58 58.42,370.16 58.73,369.72 59.05,369.26 59.36,368.77 59.68,368.25 59.99,367.70 60.31,367.12 60.62,366.49 60.94,365.74 61.25,364.90 61.56,363.99 61.88,363.05 62.19,362.08 62.51,360.96 62.82,359.76 63.14,358.61 63.45,357.61 63.77,356.85 64.08,356.17 64.39,355.56 64.71,355.04 65.02,354.63 65.34,354.60 65.65,354.96 65.97,355.43 66.28,355.99 66.60,356.61 66.91,357.31 67.23,358.25 67.54,359.35 67.85,360.50 68.17,361.56 68.48,362.48 68.80,363.37 69.11,364.22 69.43,365.00 69.74,365.67 70.06,366.21 70.37,366.70 70.69,367.14 71.00,367.54 71.31,367.91 71.63,368.24 71.94,368.55 72.26,368.83 72.57,369.08 72.89,369.32 73.20,369.54 73.52,369.75 73.83,369.94 74.14,370.11 74.46,370.26 74.77,370.40 75.09,370.54 75.40,370.68 75.72,370.81 76.03,370.94 76.35,371.06 76.66,371.16 76.97,371.24 77.29,371.30 77.60,371.33 77.92,371.33 78.23,371.33 78.55,371.33 78.86,371.33 79.18,371.34 79.49,371.34 79.81,371.35 80.12,371.36 80.43,371.35 80.75,371.31 81.06,371.24 81.38,371.14 81.69,371.03 82.01,370.90 82.32,370.76 82.64,370.61 82.95,370.46 83.27,370.31 83.58,370.15 83.89,369.97 84.21,369.76 84.52,369.54 84.84,369.29 85.15,369.02 85.47,368.73 85.78,368.42 86.10,368.07 86.41,367.69 86.72,367.28 87.04,366.82 87.35,366.31 87.67,365.76 87.98,365.17 88.30,364.46 88.61,363.61 88.93,362.65 89.24,361.64 89.55,360.60 89.87,359.45 90.18,358.16 90.50,356.84 90.81,355.65 91.13,354.69 91.44,353.92 91.76,353.22 92.07,352.61 92.39,352.11 92.70,351.74 93.01,352.11 93.33,352.61 93.64,353.22 93.96,353.92 94.27,354.69 94.59,355.65 94.90,356.84 95.22,358.16 95.53,359.45 95.84,360.60 96.16,361.64 96.47,362.65 96.79,363.61 97.10,364.46 97.42,365.17 97.73,365.76 98.05,366.31 98.36,366.82 98.68,367.28 98.99,367.69 99.30,368.07 99.62,368.42 99.93,368.73 100.25,369.02 100.56,369.29 100.88,369.54 101.19,369.77 101.51,369.98 101.82,370.17 102.13,370.34 102.45,370.50 102.76,370.66 103.08,370.82 103.39,370.97 103.71,371.12 104.02,371.24 104.34,371.35 104.65,371.43 104.97,371.48 105.28,371.50 105.59,371.50 105.91,371.50 106.22,371.50 106.54,371.50 106.85,371.50 107.17,371.50 107.48,371.51 107.80,371.51 108.11,371.51 108.42,371.49 108.74,371.44 109.05,371.36 109.37,371.27 109.68,371.15 110.00,371.03 110.31,370.90 110.63,370.77 110.94,370.64 111.26,370.51 111.57,370.36 111.88,370.20 112.20,370.02 112.51,369.82 112.83,369.60 113.14,369.37 113.46,369.12 113.77,368.85 114.09,368.54 114.40,368.21 114.72,367.84 115.03,367.43 115.34,366.98 115.66,366.48 115.97,365.93 116.29,365.23 116.60,364.42 116.92,363.53 117.23,362.60 117.55,361.65 117.86,360.53 118.17,359.33 118.49,358.18 118.80,357.20 119.12,356.47 119.43,355.83 119.75,355.26 120.06,354.78 120.38,354.43 120.69,354.48 121.00,354.95 121.32,355.54 121.63,356.22 121.95,356.98 122.26,357.82 122.58,358.91 122.89,360.17 123.21,361.48 123.52,362.72 123.84,363.79 124.15,364.82 124.46,365.83 124.78,366.76 125.09,367.58 125.41,368.27 125.72,368.90 126.04,369.49 126.35,370.04 126.67,370.56 126.98,371.05 127.30,371.51 127.61,371.94 127.92,372.35 128.24,372.75 128.55,373.13 128.87,373.49 129.18,373.84 129.50,374.16 129.81,374.47 130.13,374.77 130.44,375.07 130.75,375.38 131.07,375.69 131.38,376.00 131.70,376.30 132.01,376.58 132.33,376.84 132.64,377.08 132.96,377.29 133.27,377.47 133.59,377.66 133.90,377.86 134.21,378.06 134.53,378.26 134.84,378.47 135.16,378.68 135.47,378.89 135.79,379.10 136.10,379.30 136.42,379.50 136.73,379.69 137.04,379.87 137.36,380.05 137.67,380.21 137.99,380.36 138.30,380.50 138.62,380.64 138.93,380.77 139.25,380.91 139.56,381.04 139.88,381.17 140.19,381.30 140.50,381.42 140.82,381.55 141.13,381.67 141.45,381.79 141.76,381.90 142.08,382.02 142.39,382.13 142.71,382.24 143.02,382.34 143.33,382.44 143.65,382.54 143.96,382.64 144.28,382.74 144.59,382.83 144.91,382.92 145.22,383.00 145.54,383.09 145.85,383.17 146.17,383.24 146.48,383.32 146.79,383.39 147.11,383.46 147.42,383.52 147.74,383.59 148.05,383.66 148.37,383.72 148.68,383.79 149.00,383.85 149.31,383.91 149.62,383.97 149.94,384.03 150.25,384.09 150.57,384.14 150.88,384.20 151.20,384.25 151.51,384.30 151.83,384.35 152.14,384.40 152.46,384.45 152.77,384.49 153.08,384.53 153.40,384.57 153.71,384.61 154.03,384.65 154.34,384.68 154.66,384.71 154.97,384.74 155.29,384.76 155.60,384.79" fill="none" stroke="#1f1fee" stroke-width="1.2" stroke-linejoin="round"/>
<polyline points="29.80,383.42 30.11,383.37 30.43,383.32 30.74,383.27 31.06,383.21 31.37,383.15 31.69,383.10 32.00,383.03 32.32,382.97 32.63,382.91 32.95,382.84 33.26,382.78 33.57,382.71 33.89,382.64 34.20,382.57 34.52,382.50 34.83,382.43 35.15,382.35 35.46,382.28 35.78,382.20 36.09,382.12 36.40,382.05 36.72,381.97 37.03,381.88 37.35,381.80 37.66,381.72 37.98,381.64 38.29,381.55 38.61,381.46 38.92,381.37 39.23,381.28 39.55,381.18 39.86,381.09 40.18,380.99 40.49,380.89 40.81,380.79 41.12,380.68 41.44,380.58 41.75,380.47 42.07,380.36 42.38,380.25 42.69,380.14 43.01,380.03 43.32,379.92 43.64,379.80 43.95,379.69 44.27,379.57 44.58,379.45 44.90,379.33 45.21,379.21 45.52,379.09 45.84,378.96 46.15,378.84 46.47,378.72 46.78,378.59 47.10,378.46 47.41,378.33 47.73,378.19 48.04,378.05 48.36,377.90 48.67,377.76 48.98,377.61 49.30,377.46 49.61,377.31 49.93,377.15 50.24,377.00 50.56,376.85 50.87,376.70 51.19,376.56 51.50,376.41 51.81,376.22 52.13,375.99 52.44,375.73 52.76,375.44 53.07,375.12 53.39,374.79 53.70,374.45 54.02,374.11 54.33,373.77 54.65,373.44 54.96,373.10 55.27,372.75 55.59,372.39 55.90,372.01 56.22,371.62 56.53,371.20 56.85,370.75 57.16,370.24 57.48,369.63 57.79,368.93 58.11,368.17 58.42,367.34 58.73,366.44 59.05,365.41 59.36,364.22 59.68,362.86 59.99,361.28 60.31,359.26 60.62,356.96 60.94,354.45 61.25,351.49 61.56,348.93 61.88,347.05 62.19,345.52 62.51,345.49 62.82,346.98 63.14,348.82 63.45,351.34 63.77,354.25 64.08,356.71 64.39,358.95 64.71,360.89 65.02,362.40 65.34,363.68 65.65,364.79 65.97,365.74 66.28,366.54 66.60,367.28 66.91,367.96 67.23,368.56 67.54,369.07 67.85,369.49 68.17,369.84 68.48,370.16 68.80,370.45 69.11,370.71 69.43,370.94 69.74,371.16 70.06,371.36 70.37,371.55 70.69,371.74 71.00,371.94 71.31,372.13 71.63,372.31 71.94,372.47 72.26,372.61 72.57,372.73 72.89,372.81 73.20,372.86 73.52,372.86 73.83,372.86 74.14,372.86 74.46,372.86 74.77,372.86 75.09,372.86 75.40,372.86 75.72,372.86 76.03,372.86 76.35,372.86 76.66,372.86 76.97,372.86 77.29,372.86 77.60,372.86 77.92,372.86 78.23,372.86 78.55,372.86 78.86,372.86 79.18,372.86 79.49,372.86 79.81,372.86 80.12,372.86 80.43,372.86 80.75,372.86 81.06,372.86 81.38,372.86 81.69,372.84 82.01,372.78 82.32,372.68 82.64,372.55 82.95,372.39 83.27,372.22 83.58,372.03 83.89,371.84 84.21,371.64 84.52,371.45 84.84,371.26 85.15,371.05 85.47,370.82 85.78,370.57 86.10,370.30 86.41,369.99 86.72,369.65 87.04,369.27 87.35,368.79 87.67,368.23 87.98,367.58 88.30,366.86 88.61,366.08 88.93,365.19 89.24,364.15 89.55,362.94 89.87,361.55 90.18,359.81 90.50,357.66 90.81,355.33 91.13,352.57 91.44,349.70 91.76,347.58 92.07,345.87 92.39,344.59 92.70,345.87 93.01,347.58 93.33,349.70 93.64,352.57 93.96,355.33 94.27,357.66 94.59,359.81 94.90,361.55 95.22,362.94 95.53,364.15 95.84,365.19 96.16,366.08 96.47,366.86 96.79,367.58 97.10,368.23 97.42,368.79 97.73,369.27 98.05,369.65 98.36,369.99 98.68,370.30 98.99,370.57 99.30,370.82 99.62,371.05 99.93,371.26 100.25,371.45 100.56,371.64 100.88,371.84 101.19,372.03 101.51,372.22 101.82,372.39 102.13,372.55 102.45,372.68 102.76,372.78 103.08,372.84 103.39,372.86 103.71,372.86 104.02,372.86 104.34,372.86 104.65,372.86 104.97,372.86 105.28,372.86 105.59,372.86 105.91,372.86 106.22,372.86 106.54,372.86 106.85,372.86 107.17,372.86 107.48,372.86 107.80,372.86 108.11,372.86 108.42,372.86 108.74,372.86 109.05,372.86 109.37,372.86 109.68,372.86 110.00,372.86 110.31,372.86 110.63,372.86 110.94,372.86 111.26,372.86 111.57,372.86 111.88,372.82 112.20,372.74 112.51,372.62 112.83,372.49 113.14,372.33 113.46,372.16 113.77,371.97 114.09,371.79 114.40,371.60 114.72,371.42 115.03,371.23 115.34,371.02 115.66,370.80 115.97,370.55 116.29,370.27 116.60,369.96 116.92,369.63 117.23,369.23 117.55,368.74 117.86,368.17 118.17,367.53 118.49,366.83 118.80,366.06 119.12,365.16 119.43,364.12 119.75,362.90 120.06,361.47 120.38,359.61 120.69,357.48 121.00,355.15 121.32,352.37 121.63,349.98 121.95,348.23 122.26,346.82 122.58,346.86 122.89,348.35 123.21,350.18 123.52,352.65 123.84,355.50 124.15,357.92 124.46,360.13 124.78,362.07 125.09,363.60 125.41,364.92 125.72,366.08 126.04,367.10 126.35,367.98 126.67,368.81 126.98,369.57 127.30,370.27 127.61,370.88 127.92,371.41 128.24,371.87 128.55,372.30 128.87,372.70 129.18,373.07 129.50,373.41 129.81,373.73 130.13,374.04 130.44,374.34 130.75,374.65 131.07,374.97 131.38,375.28 131.70,375.59 132.01,375.88 132.33,376.16 132.64,376.41 132.96,376.64 133.27,376.83 133.59,376.99 133.90,377.16 134.21,377.33 134.53,377.50 134.84,377.67 135.16,377.85 135.47,378.02 135.79,378.20 136.10,378.38 136.42,378.55 136.73,378.72 137.04,378.88 137.36,379.04 137.67,379.19 137.99,379.34 138.30,379.48 138.62,379.61 138.93,379.75 139.25,379.89 139.56,380.02 139.88,380.15 140.19,380.28 140.50,380.41 140.82,380.54 141.13,380.66 141.45,380.79 141.76,380.91 142.08,381.03 142.39,381.15 142.71,381.27 143.02,381.39 143.33,381.50 143.65,381.62 143.96,381.73 144.28,381.84 144.59,381.95 144.91,382.06 145.22,382.17 145.54,382.28 145.85,382.38 146.17,382.49 146.48,382.59 146.79,382.69 147.11,382.79 147.42,382.89 147.74,382.99 148.05,383.09 148.37,383.19 148.68,383.28 149.00,383.38 149.31,383.47 149.62,383.56 149.94,383.66 150.25,383.75 150.57,383.84 150.88,383.93 151.20,384.02 151.51,384.10 151.83,384.19 152.14,384.27 152.46,384.36 152.77,384.44 153.08,384.52 153.40,384.60 153.71,384.68 154.03,384.76 154.34,384.83 154.66,384.91 154.97,384.98 155.29,385.06 155.60,385.13" fill="none" stroke="#ee1c1c" stroke-width="1.2" stroke-linejoin="round"/>
<polyline points="29.80,385.13 30.11,385.08 30.43,385.03 30.74,384.97 31.06,384.92 31.37,384.86 31.69,384.80 32.00,384.74 32.32,384.68 32.63,384.61 32.95,384.55 33.26,384.48 33.57,384.41 33.89,384.34 34.20,384.27 34.52,384.19 34.83,384.11 35.15,384.04 35.46,383.96 35.78,383.88 36.09,383.80 36.40,383.72 36.72,383.63 37.03,383.55 37.35,383.46 37.66,383.37 37.98,383.29 38.29,383.20 38.61,383.11 38.92,383.02 39.23,382.93 39.55,382.84 39.86,382.74 40.18,382.65 40.49,382.55 40.81,382.45 41.12,382.35 41.44,382.25 41.75,382.14 42.07,382.03 42.38,381.92 42.69,381.81 43.01,381.69 43.32,381.57 43.64,381.45 43.95,381.33 44.27,381.21 44.58,381.08 44.90,380.95 45.21,380.82 45.52,380.68 45.84,380.54 46.15,380.40 46.47,380.26 46.78,380.11 47.10,379.96 47.41,379.80 47.73,379.64 48.04,379.47 48.36,379.29 48.67,379.11 48.98,378.93 49.30,378.74 49.61,378.55 49.93,378.36 50.24,378.16 50.56,377.97 50.87,377.77 51.19,377.58 51.50,377.39 51.81,377.19 52.13,376.99 52.44,376.77 52.76,376.55 53.07,376.32 53.39,376.09 53.70,375.86 54.02,375.64 54.33,375.39 54.65,375.08 54.96,374.73 55.27,374.34 55.59,373.93 55.90,373.50 56.22,373.04 56.53,372.56 56.85,372.06 57.16,371.45 57.48,370.65 57.79,369.67 58.11,368.54 58.42,367.27 58.73,365.70 59.05,363.66 59.36,361.17 59.68,358.03 59.99,353.53 60.31,348.48 60.62,342.45 60.94,336.52 61.25,333.33 61.56,331.18 61.88,330.28 62.19,331.16 62.51,333.28 62.82,336.44 63.14,342.35 63.45,348.36 63.77,353.38 64.08,357.86 64.39,360.97 64.71,363.42 65.02,365.41 65.34,366.91 65.65,368.10 65.97,369.15 66.28,370.03 66.60,370.74 66.91,371.25 67.23,371.65 67.54,372.02 67.85,372.37 68.17,372.68 68.48,372.95 68.80,373.18 69.11,373.35 69.43,373.46 69.74,373.51 70.06,373.52 70.37,373.53 70.69,373.54 71.00,373.56 71.31,373.57 71.63,373.58 71.94,373.60 72.26,373.61 72.57,373.62 72.89,373.63 73.20,373.64 73.52,373.65 73.83,373.66 74.14,373.67 74.46,373.68 74.77,373.69 75.09,373.69 75.40,373.70 75.72,373.71 76.03,373.71 76.35,373.71 76.66,373.71 76.97,373.72 77.29,373.71 77.60,373.71 77.92,373.71 78.23,373.71 78.55,373.71 78.86,373.71 79.18,373.71 79.49,373.70 79.81,373.70 80.12,373.70 80.43,373.69 80.75,373.69 81.06,373.69 81.38,373.68 81.69,373.68 82.01,373.67 82.32,373.67 82.64,373.66 82.95,373.66 83.27,373.66 83.58,373.65 83.89,373.65 84.21,373.64 84.52,373.60 84.84,373.49 85.15,373.31 85.47,373.08 85.78,372.80 86.10,372.47 86.41,372.11 86.72,371.71 87.04,371.30 87.35,370.76 87.67,370.00 87.98,369.06 88.30,367.94 88.61,366.67 88.93,365.07 89.24,362.96 89.55,360.34 89.87,357.03 90.18,352.24 90.50,346.88 90.81,340.47 91.13,334.16 91.44,330.78 91.76,328.50 92.07,327.55 92.39,328.50 92.70,330.78 93.01,334.16 93.33,340.46 93.64,346.87 93.96,352.23 94.27,357.01 94.59,360.32 94.90,362.94 95.22,365.05 95.53,366.65 95.84,367.91 96.16,369.02 96.47,369.96 96.79,370.71 97.10,371.25 97.42,371.66 97.73,372.05 98.05,372.40 98.36,372.73 98.68,373.00 98.99,373.23 99.30,373.40 99.62,373.51 99.93,373.54 100.25,373.54 100.56,373.54 100.88,373.54 101.19,373.54 101.51,373.54 101.82,373.54 102.13,373.54 102.45,373.54 102.76,373.54 103.08,373.54 103.39,373.54 103.71,373.54 104.02,373.54 104.34,373.54 104.65,373.54 104.97,373.54 105.28,373.54 105.59,373.54 105.91,373.54 106.22,373.54 106.54,373.54 106.85,373.54 107.17,373.54 107.48,373.54 107.80,373.54 108.11,373.54 108.42,373.54 108.74,373.54 109.05,373.54 109.37,373.54 109.68,373.54 110.00,373.54 110.31,373.53 110.63,373.53 110.94,373.52 111.26,373.52 111.57,373.51 111.88,373.50 112.20,373.50 112.51,373.49 112.83,373.48 113.14,373.48 113.46,373.47 113.77,373.46 114.09,373.46 114.40,373.45 114.72,373.43 115.03,373.35 115.34,373.21 115.66,373.01 115.97,372.75 116.29,372.45 116.60,372.11 116.92,371.74 117.23,371.34 117.55,370.90 117.86,370.27 118.17,369.44 118.49,368.43 118.80,367.26 119.12,365.90 119.43,364.08 119.75,361.77 120.06,358.96 120.38,354.99 120.69,349.89 121.00,344.34 121.32,337.69 121.63,332.88 121.95,330.32 122.26,328.65 122.58,328.66 122.89,330.36 123.21,332.95 123.52,337.79 123.84,344.47 124.15,350.05 124.46,355.18 124.78,359.19 125.09,362.05 125.41,364.42 125.72,366.30 126.04,367.73 126.35,368.98 126.67,370.07 126.98,370.99 127.30,371.72 127.61,372.26 127.92,372.75 128.24,373.23 128.55,373.67 128.87,374.09 129.18,374.47 129.50,374.82 129.81,375.13 130.13,375.38 130.44,375.57 130.75,375.77 131.07,375.96 131.38,376.16 131.70,376.36 132.01,376.56 132.33,376.76 132.64,376.95 132.96,377.14 133.27,377.35 133.59,377.55 133.90,377.77 134.21,377.98 134.53,378.20 134.84,378.42 135.16,378.64 135.47,378.86 135.79,379.07 136.10,379.28 136.42,379.48 136.73,379.67 137.04,379.86 137.36,380.03 137.67,380.19 137.99,380.34 138.30,380.48 138.62,380.63 138.93,380.77 139.25,380.91 139.56,381.04 139.88,381.17 140.19,381.30 140.50,381.42 140.82,381.55 141.13,381.67 141.45,381.78 141.76,381.90 142.08,382.01 142.39,382.11 142.71,382.22 143.02,382.32 143.33,382.42 143.65,382.51 143.96,382.61 144.28,382.70 144.59,382.79 144.91,382.87 145.22,382.96 145.54,383.05 145.85,383.13 146.17,383.22 146.48,383.30 146.79,383.38 147.11,383.47 147.42,383.55 147.74,383.63 148.05,383.70 148.37,383.78 148.68,383.86 149.00,383.93 149.31,384.01 149.62,384.08 149.94,384.15 150.25,384.22 150.57,384.29 150.88,384.36 151.20,384.42 151.51,384.48 151.83,384.55 152.14,384.61 152.46,384.66 152.77,384.72 153.08,384.77 153.40,384.83 153.71,384.88 154.03,384.92 154.34,384.97 154.66,385.01 154.97,385.05 155.29,385.09 155.60,385.13" fill="none" stroke="#111111" stroke-width="1.2" stroke-linejoin="round"/>
<rect x="29.8" y="289.4" width="125.8" height="102.20000000000005" fill="none" stroke="#3a3a3a" stroke-width="0.9"/>
<text x="27.5" y="385.8" font-size="7.6" font-weight="bold" text-anchor="end" fill="#111">25</text>
<text x="27.5" y="368.8" font-size="7.6" font-weight="bold" text-anchor="end" fill="#111">30</text>
<text x="27.5" y="351.7" font-size="7.6" font-weight="bold" text-anchor="end" fill="#111">35</text>
<text x="27.5" y="334.7" font-size="7.6" font-weight="bold" text-anchor="end" fill="#111">40</text>
<text x="27.5" y="317.6" font-size="7.6" font-weight="bold" text-anchor="end" fill="#111">45</text>
<text x="27.5" y="300.6" font-size="7.6" font-weight="bold" text-anchor="end" fill="#111">50</text>
<text x="29.8" y="400.6" font-size="7.6" font-weight="bold" text-anchor="middle" fill="#111">0</text>
<text x="61.2" y="400.6" font-size="7.6" font-weight="bold" text-anchor="middle" fill="#111">20</text>
<text x="92.7" y="400.6" font-size="7.6" font-weight="bold" text-anchor="middle" fill="#111">40</text>
<text x="124.1" y="400.6" font-size="7.6" font-weight="bold" text-anchor="middle" fill="#111">60</text>
<text x="155.6" y="400.6" font-size="7.6" font-weight="bold" text-anchor="middle" fill="#111">80</text>
<text x="92.7" y="411.6" font-size="9.7" font-weight="bold" text-anchor="middle" fill="#111">Length (mm)</text>
<text transform="translate(11.9,341.2) rotate(-90)" font-size="9.8" font-weight="bold" text-anchor="middle" fill="#111">Temperature (°C)</text>
<text x="57.0" y="299.0" font-size="8" fill="#222" textLength="95" lengthAdjust="spacingAndGlyphs">Artificial skin thickness (mm)</text>
<path d="M64.0,307.6 h12.9" stroke="#111111" stroke-width="1.1"/>
<text x="80.0" y="310.4" font-size="7.5" fill="#222">without skin</text>
<path d="M127.3,307.6 h12.9" stroke="#ee1c1c" stroke-width="1.1"/>
<text x="142.1" y="310.4" font-size="7.5" fill="#222">0.5</text>
<path d="M64.0,316.4 h12.9" stroke="#1f1fee" stroke-width="1.1"/>
<text x="80.0" y="319.2" font-size="7.5" fill="#222">1.0</text>
<path d="M95.0,316.4 h12.9" stroke="#f21cf2" stroke-width="1.1"/>
<text x="110.4" y="319.2" font-size="7.5" fill="#222">2.0</text>
<path d="M126.8,316.4 h12.9" stroke="#1e8c28" stroke-width="1.1"/>
<text x="141.6" y="319.2" font-size="7.5" fill="#222">3.0</text>
<text x="173.0" y="287.9" font-size="13" font-weight="bold" fill="#000">c</text>
<text x="204.7" y="286.6" font-size="8.1" fill="#222" textLength="33.8" lengthAdjust="spacingAndGlyphs">(10 mm)</text>
<path d="M202.7,391.60 h1.3 M202.7,383.08 h1.8 M202.7,374.57 h1.3 M202.7,366.05 h1.8 M202.7,357.53 h1.3 M202.7,349.02 h1.8 M202.7,340.50 h1.3 M202.7,331.98 h1.8 M202.7,323.47 h1.3 M202.7,314.95 h1.8 M202.7,306.43 h1.3 M202.7,297.92 h1.8 M202.7,289.40 h1.3 M202.70,391.6 v-1.8 M218.42,391.6 v-1.3 M234.15,391.6 v-1.8 M249.88,391.6 v-1.3 M265.60,391.6 v-1.8 M281.32,391.6 v-1.3 M297.05,391.6 v-1.8 M312.77,391.6 v-1.3 M328.50,391.6 v-1.8" stroke="#555" stroke-width="0.7" fill="none"/>
<polyline points="202.70,384.45 203.01,384.40 203.33,384.35 203.64,384.30 203.96,384.25 204.27,384.20 204.59,384.15 204.90,384.10 205.22,384.04 205.53,383.99 205.84,383.94 206.16,383.88 206.47,383.83 206.79,383.77 207.10,383.72 207.42,383.66 207.73,383.61 208.05,383.55 208.36,383.49 208.68,383.44 208.99,383.38 209.30,383.32 209.62,383.26 209.93,383.20 210.25,383.14 210.56,383.08 210.88,383.02 211.19,382.96 211.51,382.91 211.82,382.85 212.13,382.79 212.45,382.73 212.76,382.67 213.08,382.62 213.39,382.56 213.71,382.50 214.02,382.44 214.34,382.38 214.65,382.32 214.97,382.26 215.28,382.20 215.59,382.13 215.91,382.07 216.22,382.00 216.54,381.93 216.85,381.86 217.17,381.79 217.48,381.72 217.80,381.64 218.11,381.56 218.42,381.48 218.74,381.40 219.05,381.31 219.37,381.23 219.68,381.13 220.00,381.04 220.31,380.94 220.63,380.83 220.94,380.72 221.26,380.60 221.57,380.48 221.88,380.35 222.20,380.22 222.51,380.08 222.83,379.93 223.14,379.78 223.46,379.63 223.77,379.47 224.09,379.31 224.40,379.14 224.71,378.97 225.03,378.80 225.34,378.62 225.66,378.44 225.97,378.26 226.29,378.07 226.60,377.88 226.92,377.69 227.23,377.50 227.55,377.30 227.86,377.11 228.17,376.91 228.49,376.71 228.80,376.51 229.12,376.30 229.43,376.07 229.75,375.84 230.06,375.60 230.38,375.35 230.69,375.10 231.00,374.84 231.32,374.58 231.63,374.31 231.95,374.04 232.26,373.77 232.58,373.49 232.89,373.21 233.21,372.93 233.52,372.65 233.84,372.37 234.15,372.09 234.46,371.81 234.78,371.52 235.09,371.22 235.41,370.92 235.72,370.62 236.04,370.32 236.35,370.01 236.67,369.71 236.98,369.42 237.29,369.12 237.61,368.82 237.92,368.53 238.24,368.24 238.55,367.95 238.87,367.68 239.18,367.41 239.50,367.13 239.81,366.86 240.13,366.59 240.44,366.31 240.75,366.02 241.07,365.73 241.38,365.44 241.70,365.15 242.01,364.87 242.33,364.59 242.64,364.31 242.96,364.04 243.27,363.78 243.58,363.52 243.90,363.24 244.21,362.97 244.53,362.70 244.84,362.45 245.16,362.22 245.47,362.02 245.79,361.84 246.10,361.67 246.42,361.51 246.73,361.36 247.04,361.22 247.36,361.10 247.67,360.99 247.99,360.94 248.30,360.94 248.62,360.95 248.93,360.98 249.25,361.01 249.56,361.06 249.88,361.10 250.19,361.15 250.50,361.21 250.82,361.30 251.13,361.40 251.45,361.50 251.76,361.61 252.08,361.71 252.39,361.80 252.71,361.86 253.02,361.92 253.33,361.98 253.65,362.04 253.96,362.10 254.28,362.16 254.59,362.21 254.91,362.25 255.22,362.28 255.54,362.30 255.85,362.31 256.16,362.31 256.48,362.31 256.79,362.30 257.11,362.28 257.42,362.25 257.74,362.21 258.05,362.16 258.37,362.09 258.68,362.00 259.00,361.90 259.31,361.79 259.62,361.67 259.94,361.55 260.25,361.42 260.57,361.29 260.88,361.15 261.20,360.99 261.51,360.81 261.83,360.62 262.14,360.43 262.45,360.25 262.77,360.08 263.08,359.95 263.40,359.83 263.71,359.71 264.03,359.60 264.34,359.50 264.66,359.40 264.97,359.33 265.29,359.26 265.60,359.26 265.91,359.33 266.23,359.40 266.54,359.50 266.86,359.59 267.17,359.70 267.49,359.81 267.80,359.91 268.12,360.04 268.43,360.19 268.75,360.37 269.06,360.55 269.37,360.73 269.69,360.90 270.00,361.06 270.32,361.19 270.63,361.32 270.95,361.44 271.26,361.56 271.58,361.67 271.89,361.77 272.20,361.85 272.52,361.92 272.83,361.97 273.15,362.01 273.46,362.03 273.78,362.05 274.09,362.06 274.41,362.06 274.72,362.06 275.03,362.05 275.35,362.02 275.66,361.99 275.98,361.94 276.29,361.89 276.61,361.82 276.92,361.76 277.24,361.69 277.55,361.63 277.87,361.55 278.18,361.46 278.49,361.36 278.81,361.25 279.12,361.15 279.44,361.06 279.75,361.00 280.07,360.97 280.38,360.93 280.70,360.91 281.01,360.88 281.32,360.87 281.64,360.87 281.95,360.89 282.27,360.94 282.58,361.10 282.90,361.30 283.21,361.51 283.53,361.75 283.84,362.00 284.16,362.28 284.47,362.58 284.78,362.89 285.10,363.24 285.41,363.63 285.73,364.05 286.04,364.48 286.36,364.97 286.67,365.54 286.99,366.16 287.30,366.81 287.62,367.49 287.93,368.18 288.24,368.83 288.56,369.44 288.87,369.98 289.19,370.43 289.50,370.81 289.82,371.15 290.13,371.47 290.45,371.77 290.76,372.05 291.07,372.31 291.39,372.56 291.70,372.81 292.02,373.04 292.33,373.27 292.65,373.49 292.96,373.70 293.28,373.92 293.59,374.13 293.90,374.33 294.22,374.54 294.53,374.73 294.85,374.93 295.16,375.12 295.48,375.30 295.79,375.49 296.11,375.67 296.42,375.85 296.74,376.02 297.05,376.19 297.36,376.36 297.68,376.53 297.99,376.69 298.31,376.86 298.62,377.03 298.94,377.20 299.25,377.37 299.57,377.55 299.88,377.73 300.19,377.91 300.51,378.09 300.82,378.27 301.14,378.45 301.45,378.64 301.77,378.82 302.08,379.00 302.40,379.19 302.71,379.37 303.03,379.55 303.34,379.73 303.65,379.90 303.97,380.08 304.28,380.25 304.60,380.42 304.91,380.59 305.23,380.75 305.54,380.91 305.86,381.06 306.17,381.21 306.49,381.36 306.80,381.50 307.11,381.64 307.43,381.77 307.74,381.89 308.06,382.01 308.37,382.12 308.69,382.23 309.00,382.33 309.32,382.44 309.63,382.55 309.94,382.66 310.26,382.76 310.57,382.86 310.89,382.97 311.20,383.07 311.52,383.17 311.83,383.27 312.15,383.36 312.46,383.46 312.77,383.55 313.09,383.65 313.40,383.74 313.72,383.83 314.03,383.91 314.35,384.00 314.66,384.08 314.98,384.16 315.29,384.24 315.61,384.32 315.92,384.39 316.23,384.47 316.55,384.54 316.86,384.60 317.18,384.67 317.49,384.73 317.81,384.79 318.12,384.85 318.44,384.90 318.75,384.95 319.06,385.00 319.38,385.05 319.69,385.09 320.01,385.13 320.32,385.16 320.64,385.20 320.95,385.24 321.27,385.28 321.58,385.31 321.90,385.35 322.21,385.38 322.52,385.42 322.84,385.45 323.15,385.48 323.47,385.52 323.78,385.55 324.10,385.58 324.41,385.60 324.73,385.63 325.04,385.66 325.36,385.68 325.67,385.70 325.98,385.72 326.30,385.74 326.61,385.76 326.93,385.77 327.24,385.78 327.56,385.79 327.87,385.80 328.19,385.81 328.50,385.81" fill="none" stroke="#1e8c28" stroke-width="1.2" stroke-linejoin="round"/>
<polyline points="202.70,384.45 203.01,384.40 203.33,384.36 203.64,384.31 203.96,384.27 204.27,384.22 204.59,384.17 204.90,384.12 205.22,384.07 205.53,384.02 205.84,383.97 206.16,383.91 206.47,383.86 206.79,383.80 207.10,383.75 207.42,383.69 207.73,383.63 208.05,383.58 208.36,383.52 208.68,383.46 208.99,383.40 209.30,383.34 209.62,383.27 209.93,383.21 210.25,383.15 210.56,383.08 210.88,383.02 211.19,382.95 211.51,382.89 211.82,382.82 212.13,382.76 212.45,382.69 212.76,382.62 213.08,382.55 213.39,382.48 213.71,382.41 214.02,382.34 214.34,382.27 214.65,382.19 214.97,382.12 215.28,382.04 215.59,381.96 215.91,381.88 216.22,381.80 216.54,381.72 216.85,381.64 217.17,381.55 217.48,381.46 217.80,381.38 218.11,381.28 218.42,381.19 218.74,381.10 219.05,381.00 219.37,380.90 219.68,380.80 220.00,380.70 220.31,380.59 220.63,380.48 220.94,380.37 221.26,380.26 221.57,380.14 221.88,380.01 222.20,379.89 222.51,379.76 222.83,379.63 223.14,379.49 223.46,379.35 223.77,379.21 224.09,379.06 224.40,378.92 224.71,378.76 225.03,378.61 225.34,378.45 225.66,378.29 225.97,378.13 226.29,377.96 226.60,377.79 226.92,377.62 227.23,377.44 227.55,377.26 227.86,377.08 228.17,376.89 228.49,376.71 228.80,376.51 229.12,376.31 229.43,376.09 229.75,375.86 230.06,375.61 230.38,375.35 230.69,375.07 231.00,374.79 231.32,374.50 231.63,374.19 231.95,373.88 232.26,373.57 232.58,373.25 232.89,372.93 233.21,372.61 233.52,372.30 233.84,371.98 234.15,371.67 234.46,371.35 234.78,371.02 235.09,370.68 235.41,370.33 235.72,369.97 236.04,369.61 236.35,369.24 236.67,368.87 236.98,368.49 237.29,368.11 237.61,367.73 237.92,367.36 238.24,366.98 238.55,366.60 238.87,366.21 239.18,365.81 239.50,365.39 239.81,364.97 240.13,364.53 240.44,364.09 240.75,363.64 241.07,363.19 241.38,362.72 241.70,362.23 242.01,361.73 242.33,361.23 242.64,360.72 242.96,360.22 243.27,359.71 243.58,359.16 243.90,358.60 244.21,358.06 244.53,357.57 244.84,357.16 245.16,356.83 245.47,356.52 245.79,356.23 246.10,355.97 246.42,355.74 246.73,355.56 247.04,355.48 247.36,355.51 247.67,355.58 247.99,355.68 248.30,355.81 248.62,355.95 248.93,356.11 249.25,356.33 249.56,356.62 249.88,356.95 250.19,357.30 250.50,357.62 250.82,357.89 251.13,358.13 251.45,358.37 251.76,358.59 252.08,358.80 252.39,358.98 252.71,359.15 253.02,359.29 253.33,359.42 253.65,359.54 253.96,359.64 254.28,359.74 254.59,359.82 254.91,359.89 255.22,359.94 255.54,359.97 255.85,359.99 256.16,360.00 256.48,360.00 256.79,359.99 257.11,359.96 257.42,359.92 257.74,359.85 258.05,359.76 258.37,359.66 258.68,359.54 259.00,359.40 259.31,359.26 259.62,359.10 259.94,358.91 260.25,358.70 260.57,358.47 260.88,358.23 261.20,357.97 261.51,357.70 261.83,357.40 262.14,357.06 262.45,356.69 262.77,356.34 263.08,356.02 263.40,355.76 263.71,355.57 264.03,355.39 264.34,355.21 264.66,355.06 264.97,354.93 265.29,354.84 265.60,354.84 265.91,354.93 266.23,355.05 266.54,355.20 266.86,355.36 267.17,355.54 267.49,355.72 267.80,355.97 268.12,356.28 268.43,356.63 268.75,356.99 269.06,357.33 269.37,357.62 269.69,357.88 270.00,358.13 270.32,358.37 270.63,358.60 270.95,358.81 271.26,358.98 271.58,359.13 271.89,359.26 272.20,359.39 272.52,359.49 272.83,359.58 273.15,359.66 273.46,359.71 273.78,359.75 274.09,359.76 274.41,359.76 274.72,359.75 275.03,359.73 275.35,359.69 275.66,359.63 275.98,359.56 276.29,359.47 276.61,359.37 276.92,359.26 277.24,359.13 277.55,359.00 277.87,358.85 278.18,358.66 278.49,358.45 278.81,358.22 279.12,357.98 279.44,357.74 279.75,357.48 280.07,357.16 280.38,356.81 280.70,356.46 281.01,356.13 281.32,355.87 281.64,355.70 281.95,355.58 282.27,355.49 282.58,355.42 282.90,355.40 283.21,355.42 283.53,355.49 283.84,355.74 284.16,356.04 284.47,356.39 284.78,356.77 285.10,357.19 285.41,357.63 285.73,358.12 286.04,358.70 286.36,359.38 286.67,360.12 286.99,360.90 287.30,361.67 287.62,362.40 287.93,363.13 288.24,363.85 288.56,364.56 288.87,365.22 289.19,365.84 289.50,366.42 289.82,366.99 290.13,367.56 290.45,368.11 290.76,368.64 291.07,369.15 291.39,369.64 291.70,370.09 292.02,370.51 292.33,370.89 292.65,371.23 292.96,371.56 293.28,371.87 293.59,372.16 293.90,372.45 294.22,372.72 294.53,372.98 294.85,373.22 295.16,373.46 295.48,373.69 295.79,373.91 296.11,374.13 296.42,374.34 296.74,374.54 297.05,374.75 297.36,374.97 297.68,375.18 297.99,375.40 298.31,375.62 298.62,375.83 298.94,376.05 299.25,376.27 299.57,376.48 299.88,376.69 300.19,376.90 300.51,377.10 300.82,377.30 301.14,377.49 301.45,377.68 301.77,377.87 302.08,378.05 302.40,378.23 302.71,378.42 303.03,378.60 303.34,378.78 303.65,378.95 303.97,379.13 304.28,379.30 304.60,379.46 304.91,379.63 305.23,379.79 305.54,379.94 305.86,380.09 306.17,380.24 306.49,380.38 306.80,380.51 307.11,380.64 307.43,380.76 307.74,380.88 308.06,380.99 308.37,381.09 308.69,381.19 309.00,381.29 309.32,381.39 309.63,381.48 309.94,381.58 310.26,381.67 310.57,381.76 310.89,381.85 311.20,381.94 311.52,382.02 311.83,382.11 312.15,382.19 312.46,382.27 312.77,382.35 313.09,382.43 313.40,382.51 313.72,382.58 314.03,382.66 314.35,382.73 314.66,382.80 314.98,382.87 315.29,382.94 315.61,383.01 315.92,383.07 316.23,383.13 316.55,383.19 316.86,383.25 317.18,383.31 317.49,383.37 317.81,383.42 318.12,383.48 318.44,383.53 318.75,383.58 319.06,383.63 319.38,383.68 319.69,383.72 320.01,383.76 320.32,383.81 320.64,383.85 320.95,383.89 321.27,383.93 321.58,383.97 321.90,384.01 322.21,384.05 322.52,384.09 322.84,384.13 323.15,384.17 323.47,384.20 323.78,384.24 324.10,384.27 324.41,384.30 324.73,384.34 325.04,384.37 325.36,384.40 325.67,384.42 325.98,384.45 326.30,384.48 326.61,384.50 326.93,384.52 327.24,384.55 327.56,384.57 327.87,384.58 328.19,384.60 328.50,384.62" fill="none" stroke="#f21cf2" stroke-width="1.2" stroke-linejoin="round"/>
<polyline points="202.70,385.47 203.01,385.41 203.33,385.36 203.64,385.31 203.96,385.25 204.27,385.20 204.59,385.15 204.90,385.09 205.22,385.04 205.53,384.98 205.84,384.93 206.16,384.87 206.47,384.82 206.79,384.77 207.10,384.71 207.42,384.66 207.73,384.60 208.05,384.55 208.36,384.49 208.68,384.44 208.99,384.38 209.30,384.33 209.62,384.27 209.93,384.22 210.25,384.16 210.56,384.11 210.88,384.05 211.19,384.00 211.51,383.94 211.82,383.89 212.13,383.84 212.45,383.79 212.76,383.75 213.08,383.70 213.39,383.65 213.71,383.60 214.02,383.55 214.34,383.50 214.65,383.45 214.97,383.41 215.28,383.36 215.59,383.30 215.91,383.25 216.22,383.20 216.54,383.14 216.85,383.09 217.17,383.03 217.48,382.97 217.80,382.91 218.11,382.84 218.42,382.78 218.74,382.71 219.05,382.64 219.37,382.56 219.68,382.48 220.00,382.40 220.31,382.32 220.63,382.22 220.94,382.13 221.26,382.02 221.57,381.92 221.88,381.80 222.20,381.68 222.51,381.56 222.83,381.43 223.14,381.29 223.46,381.15 223.77,381.01 224.09,380.86 224.40,380.71 224.71,380.56 225.03,380.39 225.34,380.23 225.66,380.06 225.97,379.89 226.29,379.72 226.60,379.54 226.92,379.36 227.23,379.17 227.55,378.99 227.86,378.80 228.17,378.61 228.49,378.41 228.80,378.21 229.12,378.00 229.43,377.77 229.75,377.53 230.06,377.28 230.38,377.01 230.69,376.74 231.00,376.46 231.32,376.17 231.63,375.88 231.95,375.58 232.26,375.27 232.58,374.94 232.89,374.60 233.21,374.26 233.52,373.90 233.84,373.55 234.15,373.20 234.46,372.84 234.78,372.48 235.09,372.11 235.41,371.74 235.72,371.36 236.04,370.99 236.35,370.61 236.67,370.23 236.98,369.84 237.29,369.44 237.61,369.05 237.92,368.65 238.24,368.25 238.55,367.85 238.87,367.45 239.18,367.05 239.50,366.63 239.81,366.20 240.13,365.76 240.44,365.30 240.75,364.83 241.07,364.35 241.38,363.86 241.70,363.35 242.01,362.84 242.33,362.28 242.64,361.68 242.96,361.04 243.27,360.38 243.58,359.70 243.90,359.03 244.21,358.35 244.53,357.60 244.84,356.79 245.16,355.98 245.47,355.21 245.79,354.51 246.10,353.93 246.42,353.43 246.73,352.96 247.04,352.53 247.36,352.14 247.67,351.80 247.99,351.52 248.30,351.46 248.62,351.62 248.93,351.83 249.25,352.09 249.56,352.37 249.88,352.67 250.19,352.98 250.50,353.36 250.82,353.85 251.13,354.40 251.45,354.98 251.76,355.54 252.08,356.05 252.39,356.48 252.71,356.89 253.02,357.30 253.33,357.69 253.65,358.04 253.96,358.33 254.28,358.55 254.59,358.72 254.91,358.87 255.22,359.00 255.54,359.10 255.85,359.18 256.16,359.24 256.48,359.28 256.79,359.30 257.11,359.29 257.42,359.25 257.74,359.18 258.05,359.09 258.37,358.98 258.68,358.84 259.00,358.67 259.31,358.47 259.62,358.22 259.94,357.90 260.25,357.52 260.57,357.09 260.88,356.64 261.20,356.18 261.51,355.71 261.83,355.16 262.14,354.55 262.45,353.92 262.77,353.31 263.08,352.77 263.40,352.34 263.71,351.97 264.03,351.61 264.34,351.27 264.66,350.95 264.97,350.68 265.29,350.47 265.60,350.47 265.91,350.68 266.23,350.95 266.54,351.27 266.86,351.63 267.17,352.01 267.49,352.42 267.80,352.88 268.12,353.45 268.43,354.08 268.75,354.73 269.06,355.35 269.37,355.92 269.69,356.40 270.00,356.87 270.32,357.32 270.63,357.75 270.95,358.14 271.26,358.48 271.58,358.75 271.89,358.97 272.20,359.16 272.52,359.32 272.83,359.46 273.15,359.57 273.46,359.66 273.78,359.72 274.09,359.76 274.41,359.79 274.72,359.79 275.03,359.78 275.35,359.75 275.66,359.71 275.98,359.64 276.29,359.56 276.61,359.45 276.92,359.32 277.24,359.16 277.55,358.97 277.87,358.72 278.18,358.41 278.49,358.06 278.81,357.69 279.12,357.30 279.44,356.90 279.75,356.45 280.07,355.92 280.38,355.36 280.70,354.79 281.01,354.27 281.32,353.83 281.64,353.49 281.95,353.19 282.27,352.93 282.58,352.72 282.90,352.56 283.21,352.46 283.53,352.42 283.84,352.77 284.16,353.19 284.47,353.66 284.78,354.19 285.10,354.75 285.41,355.36 285.73,356.00 286.04,356.77 286.36,357.67 286.67,358.68 286.99,359.75 287.30,360.81 287.62,361.83 287.93,362.80 288.24,363.76 288.56,364.68 288.87,365.54 289.19,366.31 289.50,366.98 289.82,367.58 290.13,368.14 290.45,368.67 290.76,369.17 291.07,369.64 291.39,370.09 291.70,370.52 292.02,370.93 292.33,371.32 292.65,371.69 292.96,372.05 293.28,372.39 293.59,372.72 293.90,373.04 294.22,373.35 294.53,373.65 294.85,373.93 295.16,374.20 295.48,374.47 295.79,374.72 296.11,374.97 296.42,375.23 296.74,375.48 297.05,375.73 297.36,375.98 297.68,376.22 297.99,376.47 298.31,376.70 298.62,376.94 298.94,377.16 299.25,377.38 299.57,377.58 299.88,377.77 300.19,377.96 300.51,378.14 300.82,378.33 301.14,378.52 301.45,378.70 301.77,378.89 302.08,379.07 302.40,379.26 302.71,379.44 303.03,379.62 303.34,379.80 303.65,379.97 303.97,380.15 304.28,380.32 304.60,380.49 304.91,380.65 305.23,380.81 305.54,380.96 305.86,381.11 306.17,381.26 306.49,381.40 306.80,381.53 307.11,381.66 307.43,381.78 307.74,381.90 308.06,382.01 308.37,382.11 308.69,382.21 309.00,382.31 309.32,382.41 309.63,382.51 309.94,382.60 310.26,382.70 310.57,382.79 310.89,382.88 311.20,382.97 311.52,383.06 311.83,383.15 312.15,383.23 312.46,383.32 312.77,383.40 313.09,383.48 313.40,383.56 313.72,383.64 314.03,383.71 314.35,383.79 314.66,383.86 314.98,383.93 315.29,384.00 315.61,384.06 315.92,384.13 316.23,384.19 316.55,384.25 316.86,384.31 317.18,384.37 317.49,384.42 317.81,384.48 318.12,384.53 318.44,384.58 318.75,384.62 319.06,384.67 319.38,384.71 319.69,384.75 320.01,384.79 320.32,384.82 320.64,384.86 320.95,384.89 321.27,384.93 321.58,384.97 321.90,385.00 322.21,385.03 322.52,385.07 322.84,385.10 323.15,385.13 323.47,385.16 323.78,385.19 324.10,385.22 324.41,385.25 324.73,385.27 325.04,385.30 325.36,385.32 325.67,385.34 325.98,385.36 326.30,385.38 326.61,385.40 326.93,385.42 327.24,385.43 327.56,385.44 327.87,385.45 328.19,385.46 328.50,385.47" fill="none" stroke="#1f1fee" stroke-width="1.2" stroke-linejoin="round"/>
<polyline points="202.70,385.81 203.01,385.76 203.33,385.70 203.64,385.65 203.96,385.59 204.27,385.54 204.59,385.49 204.90,385.43 205.22,385.38 205.53,385.32 205.84,385.27 206.16,385.22 206.47,385.16 206.79,385.11 207.10,385.05 207.42,385.00 207.73,384.94 208.05,384.89 208.36,384.83 208.68,384.78 208.99,384.72 209.30,384.67 209.62,384.61 209.93,384.56 210.25,384.50 210.56,384.45 210.88,384.39 211.19,384.34 211.51,384.28 211.82,384.23 212.13,384.18 212.45,384.13 212.76,384.08 213.08,384.03 213.39,383.98 213.71,383.93 214.02,383.87 214.34,383.82 214.65,383.77 214.97,383.72 215.28,383.67 215.59,383.62 215.91,383.56 216.22,383.51 216.54,383.45 216.85,383.40 217.17,383.34 217.48,383.28 217.80,383.22 218.11,383.16 218.42,383.09 218.74,383.03 219.05,382.96 219.37,382.89 219.68,382.82 220.00,382.74 220.31,382.67 220.63,382.59 220.94,382.51 221.26,382.43 221.57,382.34 221.88,382.25 222.20,382.17 222.51,382.07 222.83,381.98 223.14,381.88 223.46,381.78 223.77,381.68 224.09,381.58 224.40,381.47 224.71,381.36 225.03,381.25 225.34,381.13 225.66,381.01 225.97,380.88 226.29,380.76 226.60,380.62 226.92,380.49 227.23,380.35 227.55,380.21 227.86,380.06 228.17,379.91 228.49,379.76 228.80,379.59 229.12,379.42 229.43,379.22 229.75,379.01 230.06,378.79 230.38,378.55 230.69,378.30 231.00,378.04 231.32,377.78 231.63,377.51 231.95,377.23 232.26,376.94 232.58,376.66 232.89,376.37 233.21,376.09 233.52,375.80 233.84,375.52 234.15,375.25 234.46,374.97 234.78,374.68 235.09,374.36 235.41,374.01 235.72,373.63 236.04,373.24 236.35,372.83 236.67,372.41 236.98,371.98 237.29,371.54 237.61,371.11 237.92,370.69 238.24,370.27 238.55,369.87 238.87,369.47 239.18,369.08 239.50,368.67 239.81,368.25 240.13,367.82 240.44,367.37 240.75,366.91 241.07,366.44 241.38,365.95 241.70,365.41 242.01,364.82 242.33,364.20 242.64,363.54 242.96,362.85 243.27,362.13 243.58,361.38 243.90,360.54 244.21,359.61 244.53,358.59 244.84,357.47 245.16,356.12 245.47,354.56 245.79,352.86 246.10,351.05 246.42,348.94 246.73,346.91 247.04,345.36 247.36,344.06 247.67,342.98 247.99,342.88 248.30,343.77 248.62,344.89 248.93,346.23 249.25,348.05 249.56,349.96 249.88,351.55 250.19,353.03 250.50,354.37 250.82,355.49 251.13,356.39 251.45,357.18 251.76,357.88 252.08,358.49 252.39,359.01 252.71,359.46 253.02,359.86 253.33,360.21 253.65,360.51 253.96,360.74 254.28,360.92 254.59,361.04 254.91,361.13 255.22,361.20 255.54,361.26 255.85,361.30 256.16,361.34 256.48,361.36 256.79,361.36 257.11,361.35 257.42,361.32 257.74,361.28 258.05,361.23 258.37,361.16 258.68,361.08 259.00,360.96 259.31,360.79 259.62,360.57 259.94,360.30 260.25,359.96 260.57,359.58 260.88,359.15 261.20,358.65 261.51,358.07 261.83,357.42 262.14,356.68 262.45,355.86 262.77,354.85 263.08,353.64 263.40,352.32 263.71,350.91 264.03,349.23 264.34,347.62 264.66,346.41 264.97,345.40 265.29,344.57 265.60,344.57 265.91,345.40 266.23,346.41 266.54,347.62 266.86,349.23 267.17,350.91 267.49,352.33 267.80,353.65 268.12,354.85 268.43,355.87 268.75,356.69 269.06,357.43 269.37,358.09 269.69,358.64 270.00,359.11 270.32,359.51 270.63,359.87 270.95,360.19 271.26,360.46 271.58,360.68 271.89,360.85 272.20,360.97 272.52,361.08 272.83,361.16 273.15,361.24 273.46,361.29 273.78,361.33 274.09,361.35 274.41,361.35 274.72,361.34 275.03,361.31 275.35,361.27 275.66,361.21 275.98,361.13 276.29,361.01 276.61,360.84 276.92,360.62 277.24,360.35 277.55,360.04 277.87,359.69 278.18,359.28 278.49,358.78 278.81,358.17 279.12,357.49 279.44,356.71 279.75,355.74 280.07,354.57 280.38,353.29 280.70,351.91 281.01,350.25 281.32,348.67 281.64,347.52 281.95,346.59 282.27,345.87 282.58,346.03 282.90,347.06 283.21,348.30 283.53,349.76 283.84,351.65 284.16,353.62 284.47,355.32 284.78,356.93 285.10,358.43 285.41,359.73 285.73,360.84 286.04,361.87 286.36,362.82 286.67,363.74 286.99,364.61 287.30,365.46 287.62,366.29 287.93,367.11 288.24,367.89 288.56,368.63 288.87,369.32 289.19,369.96 289.50,370.56 289.82,371.11 290.13,371.63 290.45,372.12 290.76,372.59 291.07,373.05 291.39,373.49 291.70,373.92 292.02,374.33 292.33,374.74 292.65,375.14 292.96,375.53 293.28,375.91 293.59,376.27 293.90,376.63 294.22,376.97 294.53,377.30 294.85,377.60 295.16,377.88 295.48,378.14 295.79,378.37 296.11,378.59 296.42,378.81 296.74,379.01 297.05,379.21 297.36,379.41 297.68,379.59 297.99,379.76 298.31,379.94 298.62,380.11 298.94,380.28 299.25,380.44 299.57,380.61 299.88,380.77 300.19,380.93 300.51,381.09 300.82,381.25 301.14,381.40 301.45,381.55 301.77,381.70 302.08,381.85 302.40,381.99 302.71,382.13 303.03,382.27 303.34,382.40 303.65,382.54 303.97,382.67 304.28,382.79 304.60,382.92 304.91,383.04 305.23,383.16 305.54,383.27 305.86,383.38 306.17,383.49 306.49,383.59 306.80,383.70 307.11,383.79 307.43,383.89 307.74,383.98 308.06,384.06 308.37,384.15 308.69,384.23 309.00,384.31 309.32,384.39 309.63,384.47 309.94,384.55 310.26,384.62 310.57,384.70 310.89,384.77 311.20,384.85 311.52,384.92 311.83,384.99 312.15,385.06 312.46,385.13 312.77,385.20 313.09,385.26 313.40,385.33 313.72,385.39 314.03,385.45 314.35,385.51 314.66,385.57 314.98,385.63 315.29,385.69 315.61,385.74 315.92,385.79 316.23,385.85 316.55,385.90 316.86,385.94 317.18,385.99 317.49,386.03 317.81,386.08 318.12,386.12 318.44,386.16 318.75,386.19 319.06,386.23 319.38,386.26 319.69,386.29 320.01,386.32 320.32,386.35 320.64,386.38 320.95,386.40 321.27,386.43 321.58,386.46 321.90,386.48 322.21,386.51 322.52,386.53 322.84,386.56 323.15,386.58 323.47,386.61 323.78,386.63 324.10,386.65 324.41,386.67 324.73,386.69 325.04,386.71 325.36,386.73 325.67,386.75 325.98,386.76 326.30,386.77 326.61,386.79 326.93,386.80 327.24,386.81 327.56,386.82 327.87,386.82 328.19,386.83 328.50,386.83" fill="none" stroke="#ee1c1c" stroke-width="1.2" stroke-linejoin="round"/>
<polyline points="202.70,386.66 203.01,386.61 203.33,386.56 203.64,386.51 203.96,386.47 204.27,386.42 204.59,386.37 204.90,386.32 205.22,386.27 205.53,386.22 205.84,386.18 206.16,386.13 206.47,386.08 206.79,386.03 207.10,385.99 207.42,385.94 207.73,385.89 208.05,385.84 208.36,385.80 208.68,385.75 208.99,385.70 209.30,385.66 209.62,385.61 209.93,385.56 210.25,385.51 210.56,385.47 210.88,385.42 211.19,385.38 211.51,385.33 211.82,385.29 212.13,385.25 212.45,385.20 212.76,385.16 213.08,385.12 213.39,385.08 213.71,385.04 214.02,385.00 214.34,384.96 214.65,384.92 214.97,384.88 215.28,384.84 215.59,384.79 215.91,384.75 216.22,384.71 216.54,384.67 216.85,384.62 217.17,384.58 217.48,384.53 217.80,384.48 218.11,384.43 218.42,384.38 218.74,384.33 219.05,384.28 219.37,384.22 219.68,384.16 220.00,384.11 220.31,384.04 220.63,383.98 220.94,383.92 221.26,383.86 221.57,383.79 221.88,383.72 222.20,383.65 222.51,383.58 222.83,383.51 223.14,383.43 223.46,383.35 223.77,383.28 224.09,383.19 224.40,383.11 224.71,383.02 225.03,382.94 225.34,382.85 225.66,382.75 225.97,382.66 226.29,382.56 226.60,382.46 226.92,382.35 227.23,382.24 227.55,382.13 227.86,382.02 228.17,381.90 228.49,381.78 228.80,381.66 229.12,381.52 229.43,381.36 229.75,381.20 230.06,381.02 230.38,380.83 230.69,380.64 231.00,380.43 231.32,380.23 231.63,380.01 231.95,379.80 232.26,379.58 232.58,379.36 232.89,379.14 233.21,378.93 233.52,378.72 233.84,378.51 234.15,378.31 234.46,378.12 234.78,377.94 235.09,377.75 235.41,377.57 235.72,377.39 236.04,377.21 236.35,377.01 236.67,376.82 236.98,376.61 237.29,376.39 237.61,376.15 237.92,375.89 238.24,375.61 238.55,375.26 238.87,374.83 239.18,374.34 239.50,373.79 239.81,373.20 240.13,372.57 240.44,371.90 240.75,371.22 241.07,370.50 241.38,369.61 241.70,368.55 242.01,367.34 242.33,365.98 242.64,364.42 242.96,362.44 243.27,360.01 243.58,357.14 243.90,353.22 244.21,348.30 244.53,343.00 244.84,336.76 245.16,332.24 245.47,329.80 245.79,328.17 246.10,328.08 246.42,329.52 246.73,331.77 247.04,336.08 247.36,342.06 247.67,347.05 247.99,351.64 248.30,355.20 248.62,357.70 248.93,359.76 249.25,361.37 249.56,362.58 249.88,363.61 250.19,364.51 250.50,365.26 250.82,365.83 251.13,366.23 251.45,366.59 251.76,366.92 252.08,367.23 252.39,367.49 252.71,367.72 253.02,367.90 253.33,368.02 253.65,368.09 253.96,368.09 254.28,368.09 254.59,368.09 254.91,368.09 255.22,368.09 255.54,368.09 255.85,368.09 256.16,368.09 256.48,368.09 256.79,368.09 257.11,368.06 257.42,367.97 257.74,367.81 258.05,367.59 258.37,367.32 258.68,367.00 259.00,366.65 259.31,366.27 259.62,365.86 259.94,365.42 260.25,364.81 260.57,364.02 260.88,363.07 261.20,361.97 261.51,360.69 261.83,358.97 262.14,356.78 262.45,354.13 262.77,350.37 263.08,345.54 263.40,340.28 263.71,333.99 264.03,329.43 264.34,326.99 264.66,325.41 264.97,325.41 265.29,327.00 265.60,329.43 265.91,333.99 266.23,340.29 266.54,345.56 266.86,350.41 267.17,354.19 267.49,356.87 267.80,359.09 268.12,360.83 268.43,362.15 268.75,363.28 269.06,364.27 269.37,365.09 269.69,365.72 270.00,366.17 270.32,366.57 270.63,366.94 270.95,367.29 271.26,367.59 271.58,367.84 271.89,368.04 272.20,368.18 272.52,368.25 272.83,368.26 273.15,368.26 273.46,368.25 273.78,368.24 274.09,368.22 274.41,368.21 274.72,368.16 275.03,368.04 275.35,367.87 275.66,367.66 275.98,367.40 276.29,367.10 276.61,366.78 276.92,366.43 277.24,366.06 277.55,365.60 277.87,364.96 278.18,364.16 278.49,363.21 278.81,362.14 279.12,360.78 279.44,358.97 279.75,356.72 280.07,353.86 280.38,349.72 280.70,345.05 281.01,339.47 281.32,333.99 281.64,331.11 281.95,329.24 282.27,328.58 282.58,329.61 282.90,331.84 283.21,335.07 283.53,340.88 283.84,346.78 284.16,351.76 284.47,356.22 284.78,359.37 285.10,361.92 285.41,364.03 285.73,365.70 286.04,367.07 286.36,368.32 286.67,369.42 286.99,370.36 287.30,371.12 287.62,371.79 287.93,372.45 288.24,373.09 288.56,373.70 288.87,374.28 289.19,374.81 289.50,375.28 289.82,375.70 290.13,376.04 290.45,376.33 290.76,376.61 291.07,376.88 291.39,377.14 291.70,377.41 292.02,377.68 292.33,377.94 292.65,378.20 292.96,378.46 293.28,378.71 293.59,378.96 293.90,379.21 294.22,379.45 294.53,379.68 294.85,379.92 295.16,380.14 295.48,380.36 295.79,380.57 296.11,380.77 296.42,380.96 296.74,381.15 297.05,381.32 297.36,381.49 297.68,381.65 297.99,381.79 298.31,381.94 298.62,382.07 298.94,382.21 299.25,382.35 299.57,382.48 299.88,382.60 300.19,382.73 300.51,382.85 300.82,382.97 301.14,383.09 301.45,383.21 301.77,383.32 302.08,383.43 302.40,383.54 302.71,383.64 303.03,383.74 303.34,383.84 303.65,383.94 303.97,384.04 304.28,384.13 304.60,384.22 304.91,384.31 305.23,384.40 305.54,384.48 305.86,384.57 306.17,384.65 306.49,384.73 306.80,384.80 307.11,384.88 307.43,384.95 307.74,385.02 308.06,385.09 308.37,385.16 308.69,385.23 309.00,385.29 309.32,385.36 309.63,385.43 309.94,385.49 310.26,385.55 310.57,385.62 310.89,385.68 311.20,385.74 311.52,385.80 311.83,385.86 312.15,385.92 312.46,385.97 312.77,386.03 313.09,386.08 313.40,386.14 313.72,386.19 314.03,386.24 314.35,386.29 314.66,386.34 314.98,386.39 315.29,386.44 315.61,386.49 315.92,386.53 316.23,386.58 316.55,386.62 316.86,386.66 317.18,386.70 317.49,386.74 317.81,386.78 318.12,386.81 318.44,386.85 318.75,386.88 319.06,386.91 319.38,386.94 319.69,386.97 320.01,387.00 320.32,387.03 320.64,387.05 320.95,387.08 321.27,387.11 321.58,387.13 321.90,387.16 322.21,387.18 322.52,387.21 322.84,387.23 323.15,387.25 323.47,387.27 323.78,387.30 324.10,387.32 324.41,387.34 324.73,387.36 325.04,387.37 325.36,387.39 325.67,387.41 325.98,387.43 326.30,387.44 326.61,387.45 326.93,387.47 327.24,387.48 327.56,387.49 327.87,387.50 328.19,387.51 328.50,387.51" fill="none" stroke="#111111" stroke-width="1.2" stroke-linejoin="round"/>
<rect x="202.7" y="289.4" width="125.8" height="102.20000000000005" fill="none" stroke="#3a3a3a" stroke-width="0.9"/>
<text x="200.4" y="385.8" font-size="7.6" font-weight="bold" text-anchor="end" fill="#111">25</text>
<text x="200.4" y="368.8" font-size="7.6" font-weight="bold" text-anchor="end" fill="#111">30</text>
<text x="200.4" y="351.7" font-size="7.6" font-weight="bold" text-anchor="end" fill="#111">35</text>
<text x="200.4" y="334.7" font-size="7.6" font-weight="bold" text-anchor="end" fill="#111">40</text>
<text x="200.4" y="317.6" font-size="7.6" font-weight="bold" text-anchor="end" fill="#111">45</text>
<text x="200.4" y="300.6" font-size="7.6" font-weight="bold" text-anchor="end" fill="#111">50</text>
<text x="202.7" y="400.6" font-size="7.6" font-weight="bold" text-anchor="middle" fill="#111">0</text>
<text x="234.1" y="400.6" font-size="7.6" font-weight="bold" text-anchor="middle" fill="#111">20</text>
<text x="265.6" y="400.6" font-size="7.6" font-weight="bold" text-anchor="middle" fill="#111">40</text>
<text x="297.0" y="400.6" font-size="7.6" font-weight="bold" text-anchor="middle" fill="#111">60</text>
<text x="328.5" y="400.6" font-size="7.6" font-weight="bold" text-anchor="middle" fill="#111">80</text>
<text x="265.6" y="411.6" font-size="9.7" font-weight="bold" text-anchor="middle" fill="#111">Length (mm)</text>
<text transform="translate(183.2,341.2) rotate(-90)" font-size="9.8" font-weight="bold" text-anchor="middle" fill="#111">Temperature (°C)</text>
<text x="229.9" y="299.0" font-size="8" fill="#222" textLength="95" lengthAdjust="spacingAndGlyphs">Artificial skin thickness (mm)</text>
<path d="M236.9,307.6 h12.9" stroke="#111111" stroke-width="1.1"/>
<text x="252.9" y="310.4" font-size="7.5" fill="#222">without skin</text>
<path d="M300.2,307.6 h12.9" stroke="#ee1c1c" stroke-width="1.1"/>
<text x="315.0" y="310.4" font-size="7.5" fill="#222">0.5</text>
<path d="M236.9,316.4 h12.9" stroke="#1f1fee" stroke-width="1.1"/>
<text x="252.9" y="319.2" font-size="7.5" fill="#222">1.0</text>
<path d="M267.9,316.4 h12.9" stroke="#f21cf2" stroke-width="1.1"/>
<text x="283.3" y="319.2" font-size="7.5" fill="#222">2.0</text>
<path d="M299.7,316.4 h12.9" stroke="#1e8c28" stroke-width="1.1"/>
<text x="314.5" y="319.2" font-size="7.5" fill="#222">3.0</text>
<text x="345.9" y="287.9" font-size="13" font-weight="bold" fill="#000">d</text>
<text x="377.3" y="286.6" font-size="8.1" fill="#222" textLength="29.2" lengthAdjust="spacingAndGlyphs">(5 mm)</text>
<path d="M375.8,391.60 h1.3 M375.8,383.08 h1.8 M375.8,374.57 h1.3 M375.8,366.05 h1.8 M375.8,357.53 h1.3 M375.8,349.02 h1.8 M375.8,340.50 h1.3 M375.8,331.98 h1.8 M375.8,323.47 h1.3 M375.8,314.95 h1.8 M375.8,306.43 h1.3 M375.8,297.92 h1.8 M375.8,289.40 h1.3 M375.80,391.6 v-1.8 M391.53,391.6 v-1.3 M407.25,391.6 v-1.8 M422.98,391.6 v-1.3 M438.70,391.6 v-1.8 M454.43,391.6 v-1.3 M470.15,391.6 v-1.8 M485.88,391.6 v-1.3 M501.60,391.6 v-1.8" stroke="#555" stroke-width="0.7" fill="none"/>
<polyline points="375.80,385.47 376.11,385.43 376.43,385.40 376.74,385.36 377.06,385.33 377.37,385.29 377.69,385.26 378.00,385.22 378.32,385.19 378.63,385.15 378.94,385.11 379.26,385.07 379.57,385.04 379.89,385.00 380.20,384.96 380.52,384.92 380.83,384.88 381.15,384.85 381.46,384.81 381.78,384.77 382.09,384.73 382.40,384.69 382.72,384.65 383.03,384.61 383.35,384.57 383.66,384.53 383.98,384.48 384.29,384.44 384.61,384.40 384.92,384.36 385.24,384.32 385.55,384.27 385.86,384.23 386.18,384.19 386.49,384.15 386.81,384.10 387.12,384.06 387.44,384.01 387.75,383.97 388.07,383.93 388.38,383.88 388.69,383.84 389.01,383.79 389.32,383.75 389.64,383.70 389.95,383.66 390.27,383.61 390.58,383.56 390.90,383.52 391.21,383.47 391.53,383.42 391.84,383.38 392.15,383.33 392.47,383.29 392.78,383.24 393.10,383.20 393.41,383.16 393.73,383.12 394.04,383.07 394.36,383.03 394.67,382.99 394.98,382.95 395.30,382.91 395.61,382.87 395.93,382.83 396.24,382.79 396.56,382.75 396.87,382.70 397.19,382.66 397.50,382.62 397.81,382.58 398.13,382.53 398.44,382.49 398.76,382.45 399.07,382.40 399.39,382.35 399.70,382.31 400.02,382.26 400.33,382.21 400.65,382.16 400.96,382.11 401.27,382.05 401.59,382.00 401.90,381.94 402.22,381.89 402.53,381.83 402.85,381.77 403.16,381.70 403.48,381.64 403.79,381.57 404.11,381.51 404.42,381.44 404.73,381.36 405.05,381.29 405.36,381.21 405.68,381.13 405.99,381.05 406.31,380.97 406.62,380.88 406.94,380.79 407.25,380.70 407.56,380.60 407.88,380.49 408.19,380.37 408.51,380.24 408.82,380.10 409.14,379.94 409.45,379.78 409.77,379.61 410.08,379.43 410.39,379.24 410.71,379.03 411.02,378.82 411.34,378.60 411.65,378.37 411.97,378.13 412.28,377.88 412.60,377.62 412.91,377.36 413.23,377.08 413.54,376.80 413.85,376.50 414.17,376.20 414.48,375.89 414.80,375.57 415.11,375.25 415.43,374.89 415.74,374.47 416.06,374.00 416.37,373.49 416.69,372.93 417.00,372.34 417.31,371.73 417.63,371.08 417.94,370.42 418.26,369.74 418.57,369.05 418.89,368.37 419.20,367.68 419.52,367.00 419.83,366.33 420.14,365.68 420.46,365.05 420.77,364.40 421.09,363.72 421.40,363.02 421.72,362.32 422.03,361.63 422.35,360.94 422.66,360.27 422.98,359.63 423.29,359.03 423.60,358.47 423.92,357.96 424.23,357.47 424.55,356.98 424.86,356.50 425.18,356.04 425.49,355.59 425.81,355.16 426.12,354.76 426.43,354.37 426.75,354.01 427.06,353.68 427.38,353.38 427.69,353.10 428.01,352.86 428.32,352.62 428.64,352.39 428.95,352.17 429.26,351.96 429.58,351.76 429.89,351.57 430.21,351.38 430.52,351.21 430.84,351.05 431.15,350.90 431.47,350.75 431.78,350.62 432.10,350.50 432.41,350.38 432.72,350.27 433.04,350.15 433.35,350.04 433.67,349.93 433.98,349.82 434.30,349.72 434.61,349.63 434.93,349.54 435.24,349.47 435.56,349.42 435.87,349.38 436.18,349.36 436.50,349.36 436.81,349.36 437.13,349.37 437.44,349.39 437.76,349.41 438.07,349.44 438.39,349.47 438.70,349.50 439.01,349.53 439.33,349.57 439.64,349.61 439.96,349.65 440.27,349.70 440.59,349.75 440.90,349.82 441.22,349.91 441.53,350.01 441.85,350.13 442.16,350.26 442.47,350.40 442.79,350.55 443.10,350.71 443.42,350.87 443.73,351.04 444.05,351.21 444.36,351.39 444.68,351.56 444.99,351.74 445.30,351.92 445.62,352.12 445.93,352.33 446.25,352.55 446.56,352.78 446.88,353.02 447.19,353.28 447.51,353.55 447.82,353.83 448.13,354.13 448.45,354.44 448.76,354.79 449.08,355.16 449.39,355.55 449.71,355.97 450.02,356.40 450.34,356.85 450.65,357.31 450.97,357.78 451.28,358.26 451.59,358.75 451.91,359.24 452.22,359.74 452.54,360.23 452.85,360.72 453.17,361.21 453.48,361.69 453.80,362.20 454.11,362.73 454.43,363.28 454.74,363.84 455.05,364.41 455.37,364.97 455.68,365.53 456.00,366.08 456.31,366.61 456.63,367.12 456.94,367.59 457.26,368.03 457.57,368.43 457.88,368.80 458.20,369.16 458.51,369.50 458.83,369.82 459.14,370.14 459.46,370.44 459.77,370.73 460.09,371.02 460.40,371.30 460.72,371.57 461.03,371.83 461.34,372.09 461.66,372.35 461.97,372.61 462.29,372.86 462.60,373.12 462.92,373.38 463.23,373.64 463.55,373.89 463.86,374.15 464.17,374.41 464.49,374.66 464.80,374.92 465.12,375.17 465.43,375.42 465.75,375.67 466.06,375.91 466.38,376.15 466.69,376.38 467.00,376.61 467.32,376.83 467.63,377.05 467.95,377.26 468.26,377.47 468.58,377.67 468.89,377.86 469.21,378.04 469.52,378.22 469.84,378.38 470.15,378.54 470.46,378.69 470.78,378.83 471.09,378.96 471.41,379.08 471.72,379.21 472.04,379.33 472.35,379.45 472.67,379.57 472.98,379.69 473.30,379.80 473.61,379.92 473.92,380.03 474.24,380.13 474.55,380.24 474.87,380.34 475.18,380.45 475.50,380.55 475.81,380.65 476.13,380.74 476.44,380.84 476.75,380.93 477.07,381.02 477.38,381.11 477.70,381.20 478.01,381.29 478.33,381.37 478.64,381.46 478.96,381.54 479.27,381.62 479.59,381.70 479.90,381.78 480.21,381.86 480.53,381.93 480.84,382.01 481.16,382.08 481.47,382.15 481.79,382.22 482.10,382.29 482.42,382.36 482.73,382.43 483.04,382.50 483.36,382.57 483.67,382.64 483.99,382.70 484.30,382.77 484.62,382.83 484.93,382.89 485.25,382.96 485.56,383.02 485.88,383.08 486.19,383.15 486.50,383.21 486.82,383.27 487.13,383.33 487.45,383.39 487.76,383.45 488.08,383.51 488.39,383.57 488.71,383.63 489.02,383.69 489.33,383.74 489.65,383.80 489.96,383.86 490.28,383.92 490.59,383.97 490.91,384.03 491.22,384.08 491.54,384.14 491.85,384.19 492.17,384.24 492.48,384.29 492.79,384.35 493.11,384.40 493.42,384.45 493.74,384.50 494.05,384.55 494.37,384.59 494.68,384.64 495.00,384.69 495.31,384.73 495.62,384.78 495.94,384.82 496.25,384.87 496.57,384.91 496.88,384.95 497.20,384.99 497.51,385.03 497.83,385.07 498.14,385.11 498.46,385.15 498.77,385.18 499.08,385.22 499.40,385.25 499.71,385.29 500.03,385.32 500.34,385.35 500.66,385.38 500.97,385.41 501.29,385.44 501.60,385.47" fill="none" stroke="#1e8c28" stroke-width="1.2" stroke-linejoin="round"/>
<polyline points="375.80,386.15 376.11,386.12 376.43,386.08 376.74,386.05 377.06,386.01 377.37,385.98 377.69,385.94 378.00,385.90 378.32,385.87 378.63,385.83 378.94,385.79 379.26,385.76 379.57,385.72 379.89,385.68 380.20,385.64 380.52,385.60 380.83,385.57 381.15,385.53 381.46,385.49 381.78,385.45 382.09,385.41 382.40,385.37 382.72,385.33 383.03,385.29 383.35,385.25 383.66,385.21 383.98,385.17 384.29,385.12 384.61,385.08 384.92,385.04 385.24,385.00 385.55,384.96 385.86,384.91 386.18,384.87 386.49,384.83 386.81,384.78 387.12,384.74 387.44,384.70 387.75,384.65 388.07,384.61 388.38,384.56 388.69,384.52 389.01,384.47 389.32,384.43 389.64,384.38 389.95,384.34 390.27,384.29 390.58,384.24 390.90,384.20 391.21,384.15 391.53,384.11 391.84,384.06 392.15,384.01 392.47,383.97 392.78,383.92 393.10,383.88 393.41,383.84 393.73,383.80 394.04,383.75 394.36,383.71 394.67,383.67 394.98,383.63 395.30,383.59 395.61,383.55 395.93,383.50 396.24,383.46 396.56,383.42 396.87,383.38 397.19,383.34 397.50,383.29 397.81,383.25 398.13,383.21 398.44,383.16 398.76,383.12 399.07,383.07 399.39,383.03 399.70,382.98 400.02,382.93 400.33,382.88 400.65,382.83 400.96,382.78 401.27,382.72 401.59,382.67 401.90,382.61 402.22,382.56 402.53,382.50 402.85,382.44 403.16,382.37 403.48,382.31 403.79,382.25 404.11,382.18 404.42,382.11 404.73,382.04 405.05,381.96 405.36,381.89 405.68,381.81 405.99,381.73 406.31,381.64 406.62,381.56 406.94,381.47 407.25,381.38 407.56,381.28 407.88,381.18 408.19,381.06 408.51,380.94 408.82,380.80 409.14,380.66 409.45,380.50 409.77,380.34 410.08,380.17 410.39,379.99 410.71,379.80 411.02,379.60 411.34,379.40 411.65,379.18 411.97,378.96 412.28,378.73 412.60,378.49 412.91,378.24 413.23,377.98 413.54,377.72 413.85,377.44 414.17,377.16 414.48,376.87 414.80,376.58 415.11,376.27 415.43,375.94 415.74,375.56 416.06,375.15 416.37,374.69 416.69,374.20 417.00,373.68 417.31,373.13 417.63,372.56 417.94,371.96 418.26,371.34 418.57,370.71 418.89,370.06 419.20,369.41 419.52,368.74 419.83,368.07 420.14,367.41 420.46,366.73 420.77,366.02 421.09,365.28 421.40,364.50 421.72,363.70 422.03,362.87 422.35,362.04 422.66,361.19 422.98,360.33 423.29,359.48 423.60,358.63 423.92,357.78 424.23,356.83 424.55,355.82 424.86,354.80 425.18,353.83 425.49,352.96 425.81,352.24 426.12,351.74 426.43,351.38 426.75,351.03 427.06,350.71 427.38,350.41 427.69,350.13 428.01,349.89 428.32,349.67 428.64,349.47 428.95,349.31 429.26,349.18 429.58,349.08 429.89,349.02 430.21,348.97 430.52,348.94 430.84,348.90 431.15,348.88 431.47,348.85 431.78,348.83 432.10,348.81 432.41,348.79 432.72,348.78 433.04,348.76 433.35,348.73 433.67,348.71 433.98,348.68 434.30,348.64 434.61,348.59 434.93,348.54 435.24,348.49 435.56,348.43 435.87,348.36 436.18,348.30 436.50,348.24 436.81,348.19 437.13,348.13 437.44,348.09 437.76,348.05 438.07,348.02 438.39,348.00 438.70,347.99 439.01,348.00 439.33,348.01 439.64,348.03 439.96,348.05 440.27,348.08 440.59,348.11 440.90,348.15 441.22,348.18 441.53,348.22 441.85,348.25 442.16,348.28 442.47,348.30 442.79,348.32 443.10,348.33 443.42,348.34 443.73,348.33 444.05,348.31 444.36,348.29 444.68,348.25 444.99,348.22 445.30,348.18 445.62,348.13 445.93,348.10 446.25,348.06 446.56,348.03 446.88,348.01 447.19,348.00 447.51,348.02 447.82,348.20 448.13,348.54 448.45,349.00 448.76,349.55 449.08,350.15 449.39,350.78 449.71,351.40 450.02,352.09 450.34,352.92 450.65,353.88 450.97,354.92 451.28,356.02 451.59,357.15 451.91,358.29 452.22,359.39 452.54,360.45 452.85,361.41 453.17,362.27 453.48,363.00 453.80,363.69 454.11,364.36 454.43,365.02 454.74,365.65 455.05,366.25 455.37,366.83 455.68,367.39 456.00,367.92 456.31,368.42 456.63,368.89 456.94,369.34 457.26,369.75 457.57,370.14 457.88,370.50 458.20,370.84 458.51,371.17 458.83,371.48 459.14,371.78 459.46,372.07 459.77,372.34 460.09,372.61 460.40,372.86 460.72,373.11 461.03,373.35 461.34,373.57 461.66,373.80 461.97,374.01 462.29,374.23 462.60,374.43 462.92,374.64 463.23,374.84 463.55,375.04 463.86,375.23 464.17,375.43 464.49,375.62 464.80,375.80 465.12,375.98 465.43,376.16 465.75,376.34 466.06,376.51 466.38,376.68 466.69,376.84 467.00,377.00 467.32,377.16 467.63,377.31 467.95,377.46 468.26,377.61 468.58,377.75 468.89,377.89 469.21,378.03 469.52,378.16 469.84,378.29 470.15,378.42 470.46,378.54 470.78,378.65 471.09,378.77 471.41,378.88 471.72,378.99 472.04,379.10 472.35,379.21 472.67,379.32 472.98,379.42 473.30,379.53 473.61,379.63 473.92,379.73 474.24,379.83 474.55,379.92 474.87,380.02 475.18,380.11 475.50,380.21 475.81,380.30 476.13,380.39 476.44,380.48 476.75,380.57 477.07,380.66 477.38,380.74 477.70,380.83 478.01,380.91 478.33,380.99 478.64,381.07 478.96,381.15 479.27,381.23 479.59,381.31 479.90,381.39 480.21,381.47 480.53,381.54 480.84,381.62 481.16,381.69 481.47,381.77 481.79,381.84 482.10,381.91 482.42,381.99 482.73,382.06 483.04,382.13 483.36,382.20 483.67,382.27 483.99,382.34 484.30,382.41 484.62,382.47 484.93,382.54 485.25,382.61 485.56,382.68 485.88,382.74 486.19,382.81 486.50,382.88 486.82,382.94 487.13,383.01 487.45,383.07 487.76,383.14 488.08,383.20 488.39,383.26 488.71,383.33 489.02,383.39 489.33,383.45 489.65,383.51 489.96,383.58 490.28,383.64 490.59,383.70 490.91,383.76 491.22,383.82 491.54,383.88 491.85,383.94 492.17,383.99 492.48,384.05 492.79,384.11 493.11,384.17 493.42,384.22 493.74,384.28 494.05,384.33 494.37,384.39 494.68,384.44 495.00,384.50 495.31,384.55 495.62,384.60 495.94,384.65 496.25,384.70 496.57,384.75 496.88,384.80 497.20,384.85 497.51,384.90 497.83,384.95 498.14,385.00 498.46,385.04 498.77,385.09 499.08,385.13 499.40,385.18 499.71,385.22 500.03,385.26 500.34,385.31 500.66,385.35 500.97,385.39 501.29,385.43 501.60,385.47" fill="none" stroke="#f21cf2" stroke-width="1.2" stroke-linejoin="round"/>
<polyline points="375.80,386.49 376.11,386.47 376.43,386.44 376.74,386.42 377.06,386.39 377.37,386.36 377.69,386.34 378.00,386.31 378.32,386.28 378.63,386.26 378.94,386.23 379.26,386.20 379.57,386.17 379.89,386.14 380.20,386.11 380.52,386.08 380.83,386.05 381.15,386.02 381.46,385.98 381.78,385.95 382.09,385.92 382.40,385.89 382.72,385.85 383.03,385.82 383.35,385.79 383.66,385.75 383.98,385.72 384.29,385.68 384.61,385.65 384.92,385.61 385.24,385.57 385.55,385.54 385.86,385.50 386.18,385.46 386.49,385.43 386.81,385.39 387.12,385.35 387.44,385.31 387.75,385.27 388.07,385.23 388.38,385.19 388.69,385.15 389.01,385.11 389.32,385.07 389.64,385.03 389.95,384.99 390.27,384.95 390.58,384.91 390.90,384.87 391.21,384.83 391.53,384.79 391.84,384.74 392.15,384.70 392.47,384.66 392.78,384.62 393.10,384.58 393.41,384.54 393.73,384.50 394.04,384.46 394.36,384.42 394.67,384.38 394.98,384.34 395.30,384.30 395.61,384.26 395.93,384.22 396.24,384.18 396.56,384.14 396.87,384.10 397.19,384.05 397.50,384.01 397.81,383.97 398.13,383.92 398.44,383.88 398.76,383.83 399.07,383.78 399.39,383.74 399.70,383.69 400.02,383.64 400.33,383.59 400.65,383.54 400.96,383.48 401.27,383.43 401.59,383.37 401.90,383.31 402.22,383.25 402.53,383.19 402.85,383.13 403.16,383.07 403.48,383.00 403.79,382.94 404.11,382.87 404.42,382.80 404.73,382.72 405.05,382.65 405.36,382.57 405.68,382.49 405.99,382.41 406.31,382.33 406.62,382.24 406.94,382.15 407.25,382.06 407.56,381.96 407.88,381.86 408.19,381.74 408.51,381.62 408.82,381.48 409.14,381.34 409.45,381.19 409.77,381.02 410.08,380.85 410.39,380.67 410.71,380.48 411.02,380.29 411.34,380.08 411.65,379.86 411.97,379.64 412.28,379.41 412.60,379.17 412.91,378.92 413.23,378.66 413.54,378.40 413.85,378.12 414.17,377.84 414.48,377.55 414.80,377.26 415.11,376.95 415.43,376.62 415.74,376.24 416.06,375.82 416.37,375.36 416.69,374.87 417.00,374.35 417.31,373.79 417.63,373.21 417.94,372.61 418.26,372.00 418.57,371.36 418.89,370.72 419.20,370.06 419.52,369.40 419.83,368.74 420.14,368.08 420.46,367.42 420.77,366.75 421.09,366.05 421.40,365.33 421.72,364.59 422.03,363.83 422.35,363.04 422.66,362.24 422.98,361.41 423.29,360.56 423.60,359.68 423.92,358.76 424.23,357.70 424.55,356.52 424.86,355.31 425.18,354.12 425.49,353.03 425.81,352.10 426.12,351.40 426.43,350.84 426.75,350.29 427.06,349.75 427.38,349.25 427.69,348.77 428.01,348.34 428.32,347.95 428.64,347.62 428.95,347.35 429.26,347.14 429.58,347.02 429.89,346.97 430.21,346.98 430.52,347.02 430.84,347.06 431.15,347.13 431.47,347.20 431.78,347.27 432.10,347.35 432.41,347.43 432.72,347.50 433.04,347.56 433.35,347.61 433.67,347.64 433.98,347.65 434.30,347.63 434.61,347.57 434.93,347.48 435.24,347.36 435.56,347.21 435.87,347.05 436.18,346.89 436.50,346.72 436.81,346.55 437.13,346.39 437.44,346.25 437.76,346.13 438.07,346.03 438.39,345.97 438.70,345.95 439.01,345.97 439.33,346.02 439.64,346.09 439.96,346.19 440.27,346.30 440.59,346.43 440.90,346.56 441.22,346.70 441.53,346.83 441.85,346.96 442.16,347.07 442.47,347.17 442.79,347.25 443.10,347.30 443.42,347.31 443.73,347.29 444.05,347.24 444.36,347.16 444.68,347.07 444.99,346.95 445.30,346.83 445.62,346.71 445.93,346.59 446.25,346.49 446.56,346.40 446.88,346.33 447.19,346.30 447.51,346.32 447.82,346.57 448.13,347.02 448.45,347.63 448.76,348.35 449.08,349.13 449.39,349.94 449.71,350.72 450.02,351.56 450.34,352.54 450.65,353.64 450.97,354.82 451.28,356.06 451.59,357.32 451.91,358.57 452.22,359.79 452.54,360.94 452.85,362.00 453.17,362.92 453.48,363.70 453.80,364.45 454.11,365.17 454.43,365.86 454.74,366.53 455.05,367.18 455.37,367.79 455.68,368.37 456.00,368.93 456.31,369.45 456.63,369.93 456.94,370.38 457.26,370.79 457.57,371.16 457.88,371.50 458.20,371.82 458.51,372.13 458.83,372.42 459.14,372.69 459.46,372.95 459.77,373.19 460.09,373.43 460.40,373.66 460.72,373.88 461.03,374.09 461.34,374.30 461.66,374.50 461.97,374.71 462.29,374.91 462.60,375.11 462.92,375.31 463.23,375.50 463.55,375.70 463.86,375.89 464.17,376.08 464.49,376.27 464.80,376.45 465.12,376.63 465.43,376.81 465.75,376.99 466.06,377.16 466.38,377.33 466.69,377.50 467.00,377.66 467.32,377.82 467.63,377.98 467.95,378.13 468.26,378.28 468.58,378.43 468.89,378.57 469.21,378.71 469.52,378.84 469.84,378.97 470.15,379.10 470.46,379.22 470.78,379.34 471.09,379.45 471.41,379.56 471.72,379.67 472.04,379.78 472.35,379.89 472.67,380.00 472.98,380.10 473.30,380.21 473.61,380.31 473.92,380.41 474.24,380.51 474.55,380.60 474.87,380.70 475.18,380.80 475.50,380.89 475.81,380.98 476.13,381.07 476.44,381.16 476.75,381.25 477.07,381.34 477.38,381.42 477.70,381.51 478.01,381.59 478.33,381.67 478.64,381.76 478.96,381.84 479.27,381.92 479.59,381.99 479.90,382.07 480.21,382.15 480.53,382.23 480.84,382.30 481.16,382.38 481.47,382.45 481.79,382.52 482.10,382.60 482.42,382.67 482.73,382.74 483.04,382.81 483.36,382.88 483.67,382.95 483.99,383.02 484.30,383.09 484.62,383.16 484.93,383.22 485.25,383.29 485.56,383.36 485.88,383.42 486.19,383.49 486.50,383.56 486.82,383.62 487.13,383.69 487.45,383.75 487.76,383.82 488.08,383.88 488.39,383.94 488.71,384.01 489.02,384.07 489.33,384.13 489.65,384.20 489.96,384.26 490.28,384.32 490.59,384.38 490.91,384.44 491.22,384.50 491.54,384.56 491.85,384.62 492.17,384.68 492.48,384.73 492.79,384.79 493.11,384.85 493.42,384.90 493.74,384.96 494.05,385.01 494.37,385.07 494.68,385.12 495.00,385.18 495.31,385.23 495.62,385.28 495.94,385.33 496.25,385.38 496.57,385.43 496.88,385.48 497.20,385.53 497.51,385.58 497.83,385.63 498.14,385.68 498.46,385.72 498.77,385.77 499.08,385.81 499.40,385.86 499.71,385.90 500.03,385.95 500.34,385.99 500.66,386.03 500.97,386.07 501.29,386.11 501.60,386.15" fill="none" stroke="#1f1fee" stroke-width="1.2" stroke-linejoin="round"/>
<polyline points="375.80,387.51 376.11,387.48 376.43,387.46 376.74,387.43 377.06,387.40 377.37,387.37 377.69,387.34 378.00,387.31 378.32,387.28 378.63,387.25 378.94,387.22 379.26,387.19 379.57,387.16 379.89,387.13 380.20,387.10 380.52,387.07 380.83,387.04 381.15,387.00 381.46,386.97 381.78,386.94 382.09,386.91 382.40,386.87 382.72,386.84 383.03,386.81 383.35,386.77 383.66,386.74 383.98,386.70 384.29,386.67 384.61,386.63 384.92,386.60 385.24,386.56 385.55,386.53 385.86,386.49 386.18,386.46 386.49,386.42 386.81,386.38 387.12,386.35 387.44,386.31 387.75,386.27 388.07,386.23 388.38,386.20 388.69,386.16 389.01,386.12 389.32,386.08 389.64,386.04 389.95,386.01 390.27,385.97 390.58,385.93 390.90,385.89 391.21,385.85 391.53,385.81 391.84,385.77 392.15,385.73 392.47,385.69 392.78,385.66 393.10,385.62 393.41,385.58 393.73,385.55 394.04,385.51 394.36,385.48 394.67,385.44 394.98,385.41 395.30,385.37 395.61,385.34 395.93,385.30 396.24,385.27 396.56,385.24 396.87,385.20 397.19,385.16 397.50,385.13 397.81,385.09 398.13,385.06 398.44,385.02 398.76,384.98 399.07,384.94 399.39,384.90 399.70,384.86 400.02,384.82 400.33,384.78 400.65,384.73 400.96,384.69 401.27,384.64 401.59,384.59 401.90,384.54 402.22,384.49 402.53,384.44 402.85,384.39 403.16,384.33 403.48,384.27 403.79,384.22 404.11,384.15 404.42,384.09 404.73,384.03 405.05,383.96 405.36,383.89 405.68,383.82 405.99,383.74 406.31,383.67 406.62,383.59 406.94,383.51 407.25,383.42 407.56,383.33 407.88,383.23 408.19,383.11 408.51,382.97 408.82,382.83 409.14,382.67 409.45,382.50 409.77,382.31 410.08,382.12 410.39,381.91 410.71,381.70 411.02,381.47 411.34,381.23 411.65,380.98 411.97,380.72 412.28,380.45 412.60,380.17 412.91,379.88 413.23,379.59 413.54,379.28 413.85,378.97 414.17,378.64 414.48,378.31 414.80,377.98 415.11,377.63 415.43,377.25 415.74,376.81 416.06,376.32 416.37,375.78 416.69,375.19 417.00,374.58 417.31,373.93 417.63,373.25 417.94,372.56 418.26,371.86 418.57,371.15 418.89,370.44 419.20,369.74 419.52,369.05 419.83,368.38 420.14,367.73 420.46,367.11 420.77,366.55 421.09,366.03 421.40,365.52 421.72,365.03 422.03,364.51 422.35,363.97 422.66,363.37 422.98,362.70 423.29,361.94 423.60,361.08 423.92,360.02 424.23,358.40 424.55,356.37 424.86,354.13 425.18,351.89 425.49,349.87 425.81,348.18 426.12,346.38 426.43,344.62 426.75,343.17 427.06,342.32 427.38,342.23 427.69,342.46 428.01,342.84 428.32,343.31 428.64,343.80 428.95,344.25 429.26,344.59 429.58,344.85 429.89,345.12 430.21,345.38 430.52,345.64 430.84,345.89 431.15,346.13 431.47,346.35 431.78,346.54 432.10,346.70 432.41,346.83 432.72,346.92 433.04,346.97 433.35,346.96 433.67,346.84 433.98,346.64 434.30,346.35 434.61,346.01 434.93,345.63 435.24,345.22 435.56,344.81 435.87,344.42 436.18,344.07 436.50,343.75 436.81,343.39 437.13,343.00 437.44,342.59 437.76,342.20 438.07,341.84 438.39,341.54 438.70,341.32 439.01,341.20 439.33,341.20 439.64,341.34 439.96,341.58 440.27,341.92 440.59,342.30 440.90,342.71 441.22,343.13 441.53,343.51 441.85,343.84 442.16,344.09 442.47,344.23 442.79,344.24 443.10,344.18 443.42,344.06 443.73,343.91 444.05,343.72 444.36,343.51 444.68,343.28 444.99,343.06 445.30,342.84 445.62,342.64 445.93,342.46 446.25,342.32 446.56,342.24 446.88,342.20 447.19,342.40 447.51,342.93 447.82,343.71 448.13,344.67 448.45,345.72 448.76,346.80 449.08,347.85 449.39,349.10 449.71,350.54 450.02,352.10 450.34,353.73 450.65,355.39 450.97,357.01 451.28,358.54 451.59,359.92 451.91,361.21 452.22,362.49 452.54,363.73 452.85,364.91 453.17,366.00 453.48,366.98 453.80,367.83 454.11,368.64 454.43,369.44 454.74,370.21 455.05,370.95 455.37,371.67 455.68,372.36 456.00,373.01 456.31,373.64 456.63,374.22 456.94,374.78 457.26,375.29 457.57,375.77 457.88,376.21 458.20,376.60 458.51,376.95 458.83,377.27 459.14,377.58 459.46,377.87 459.77,378.15 460.09,378.41 460.40,378.66 460.72,378.90 461.03,379.13 461.34,379.34 461.66,379.55 461.97,379.74 462.29,379.92 462.60,380.10 462.92,380.26 463.23,380.42 463.55,380.56 463.86,380.70 464.17,380.83 464.49,380.95 464.80,381.07 465.12,381.18 465.43,381.29 465.75,381.39 466.06,381.49 466.38,381.59 466.69,381.68 467.00,381.76 467.32,381.85 467.63,381.93 467.95,382.02 468.26,382.10 468.58,382.18 468.89,382.26 469.21,382.33 469.52,382.41 469.84,382.49 470.15,382.58 470.46,382.66 470.78,382.74 471.09,382.83 471.41,382.91 471.72,383.00 472.04,383.09 472.35,383.17 472.67,383.26 472.98,383.34 473.30,383.43 473.61,383.51 473.92,383.59 474.24,383.68 474.55,383.76 474.87,383.85 475.18,383.93 475.50,384.01 475.81,384.10 476.13,384.18 476.44,384.26 476.75,384.34 477.07,384.42 477.38,384.50 477.70,384.59 478.01,384.67 478.33,384.75 478.64,384.82 478.96,384.90 479.27,384.98 479.59,385.06 479.90,385.14 480.21,385.21 480.53,385.29 480.84,385.37 481.16,385.44 481.47,385.52 481.79,385.59 482.10,385.66 482.42,385.74 482.73,385.81 483.04,385.88 483.36,385.95 483.67,386.02 483.99,386.09 484.30,386.16 484.62,386.23 484.93,386.29 485.25,386.36 485.56,386.43 485.88,386.49 486.19,386.55 486.50,386.62 486.82,386.68 487.13,386.74 487.45,386.81 487.76,386.87 488.08,386.93 488.39,386.99 488.71,387.06 489.02,387.12 489.33,387.18 489.65,387.24 489.96,387.30 490.28,387.36 490.59,387.42 490.91,387.48 491.22,387.53 491.54,387.59 491.85,387.65 492.17,387.71 492.48,387.77 492.79,387.82 493.11,387.88 493.42,387.93 493.74,387.99 494.05,388.04 494.37,388.10 494.68,388.15 495.00,388.21 495.31,388.26 495.62,388.31 495.94,388.36 496.25,388.41 496.57,388.47 496.88,388.52 497.20,388.57 497.51,388.62 497.83,388.67 498.14,388.71 498.46,388.76 498.77,388.81 499.08,388.86 499.40,388.90 499.71,388.95 500.03,389.00 500.34,389.04 500.66,389.09 500.97,389.13 501.29,389.17 501.60,389.22" fill="none" stroke="#ee1c1c" stroke-width="1.2" stroke-linejoin="round"/>
<polyline points="375.80,388.19 376.11,388.16 376.43,388.13 376.74,388.11 377.06,388.08 377.37,388.05 377.69,388.02 378.00,387.99 378.32,387.95 378.63,387.92 378.94,387.89 379.26,387.86 379.57,387.83 379.89,387.80 380.20,387.77 380.52,387.73 380.83,387.70 381.15,387.67 381.46,387.64 381.78,387.60 382.09,387.57 382.40,387.54 382.72,387.50 383.03,387.47 383.35,387.44 383.66,387.40 383.98,387.37 384.29,387.33 384.61,387.30 384.92,387.26 385.24,387.23 385.55,387.19 385.86,387.16 386.18,387.12 386.49,387.09 386.81,387.05 387.12,387.01 387.44,386.98 387.75,386.94 388.07,386.90 388.38,386.87 388.69,386.83 389.01,386.79 389.32,386.76 389.64,386.72 389.95,386.68 390.27,386.64 390.58,386.60 390.90,386.57 391.21,386.53 391.53,386.49 391.84,386.45 392.15,386.41 392.47,386.38 392.78,386.34 393.10,386.31 393.41,386.27 393.73,386.24 394.04,386.20 394.36,386.17 394.67,386.14 394.98,386.10 395.30,386.07 395.61,386.04 395.93,386.00 396.24,385.97 396.56,385.94 396.87,385.90 397.19,385.87 397.50,385.84 397.81,385.80 398.13,385.77 398.44,385.73 398.76,385.69 399.07,385.66 399.39,385.62 399.70,385.58 400.02,385.54 400.33,385.50 400.65,385.46 400.96,385.42 401.27,385.38 401.59,385.33 401.90,385.29 402.22,385.24 402.53,385.20 402.85,385.15 403.16,385.10 403.48,385.04 403.79,384.99 404.11,384.93 404.42,384.88 404.73,384.82 405.05,384.76 405.36,384.70 405.68,384.63 405.99,384.56 406.31,384.50 406.62,384.42 406.94,384.35 407.25,384.28 407.56,384.19 407.88,384.10 408.19,384.00 408.51,383.89 408.82,383.77 409.14,383.64 409.45,383.50 409.77,383.36 410.08,383.20 410.39,383.04 410.71,382.86 411.02,382.68 411.34,382.50 411.65,382.30 411.97,382.10 412.28,381.88 412.60,381.67 412.91,381.44 413.23,381.21 413.54,380.97 413.85,380.72 414.17,380.47 414.48,380.21 414.80,379.95 415.11,379.68 415.43,379.39 415.74,379.06 416.06,378.70 416.37,378.32 416.69,377.90 417.00,377.46 417.31,377.00 417.63,376.51 417.94,376.01 418.26,375.49 418.57,374.95 418.89,374.40 419.20,373.84 419.52,373.28 419.83,372.71 420.14,372.13 420.46,371.55 420.77,370.98 421.09,370.40 421.40,369.81 421.72,369.20 422.03,368.55 422.35,367.86 422.66,367.12 422.98,366.32 423.29,365.46 423.60,364.51 423.92,363.48 424.23,362.36 424.55,361.06 424.86,359.48 425.18,357.54 425.49,355.15 425.81,350.39 426.12,343.12 426.43,335.87 426.75,331.04 427.06,327.29 427.38,324.33 427.69,323.13 428.01,324.37 428.32,327.39 428.64,331.08 428.95,335.30 429.26,341.01 429.58,346.78 429.89,351.06 430.21,353.94 430.52,356.44 430.84,358.38 431.15,359.58 431.47,360.30 431.78,360.90 432.10,361.30 432.41,361.45 432.72,361.30 433.04,360.90 433.35,360.30 433.67,359.58 433.98,358.38 434.30,356.45 434.61,353.95 434.93,351.06 435.24,346.73 435.56,340.85 435.87,335.02 436.18,330.73 436.50,326.96 436.81,323.89 437.13,322.62 437.44,323.89 437.76,326.96 438.07,330.73 438.39,335.10 438.70,341.12 439.01,347.07 439.33,351.06 439.64,353.32 439.96,355.27 440.27,356.92 440.59,358.26 440.90,359.26 441.22,359.92 441.53,360.38 441.85,360.79 442.16,361.09 442.47,361.26 442.79,361.25 443.10,361.04 443.42,360.66 443.73,360.16 444.05,359.58 444.36,358.74 444.68,357.47 444.99,355.80 445.30,353.76 445.62,351.40 445.93,347.50 446.25,341.90 446.56,336.27 446.88,332.13 447.19,328.51 447.51,325.55 447.82,324.32 448.13,325.53 448.45,328.46 448.76,332.11 449.08,336.38 449.39,342.32 449.71,348.43 450.02,353.10 450.34,356.17 450.65,358.69 450.97,360.90 451.28,363.04 451.59,365.18 451.91,367.19 452.22,368.90 452.54,370.14 452.85,371.03 453.17,371.82 453.48,372.51 453.80,373.13 454.11,373.67 454.43,374.17 454.74,374.62 455.05,375.04 455.37,375.45 455.68,375.83 456.00,376.19 456.31,376.53 456.63,376.84 456.94,377.14 457.26,377.42 457.57,377.69 457.88,377.95 458.20,378.19 458.51,378.43 458.83,378.66 459.14,378.88 459.46,379.10 459.77,379.31 460.09,379.50 460.40,379.70 460.72,379.88 461.03,380.05 461.34,380.22 461.66,380.38 461.97,380.53 462.29,380.67 462.60,380.82 462.92,380.95 463.23,381.09 463.55,381.23 463.86,381.36 464.17,381.49 464.49,381.61 464.80,381.74 465.12,381.86 465.43,381.98 465.75,382.09 466.06,382.20 466.38,382.31 466.69,382.42 467.00,382.53 467.32,382.63 467.63,382.73 467.95,382.82 468.26,382.92 468.58,383.01 468.89,383.10 469.21,383.18 469.52,383.27 469.84,383.35 470.15,383.42 470.46,383.50 470.78,383.57 471.09,383.65 471.41,383.72 471.72,383.79 472.04,383.86 472.35,383.93 472.67,383.99 472.98,384.06 473.30,384.13 473.61,384.19 473.92,384.25 474.24,384.32 474.55,384.38 474.87,384.44 475.18,384.50 475.50,384.56 475.81,384.62 476.13,384.67 476.44,384.73 476.75,384.78 477.07,384.84 477.38,384.89 477.70,384.95 478.01,385.00 478.33,385.05 478.64,385.10 478.96,385.15 479.27,385.20 479.59,385.25 479.90,385.30 480.21,385.35 480.53,385.40 480.84,385.44 481.16,385.49 481.47,385.54 481.79,385.58 482.10,385.63 482.42,385.67 482.73,385.72 483.04,385.76 483.36,385.81 483.67,385.85 483.99,385.89 484.30,385.94 484.62,385.98 484.93,386.02 485.25,386.07 485.56,386.11 485.88,386.15 486.19,386.19 486.50,386.23 486.82,386.27 487.13,386.32 487.45,386.36 487.76,386.40 488.08,386.44 488.39,386.48 488.71,386.52 489.02,386.56 489.33,386.60 489.65,386.63 489.96,386.67 490.28,386.71 490.59,386.75 490.91,386.79 491.22,386.83 491.54,386.86 491.85,386.90 492.17,386.94 492.48,386.97 492.79,387.01 493.11,387.04 493.42,387.08 493.74,387.11 494.05,387.15 494.37,387.18 494.68,387.22 495.00,387.25 495.31,387.28 495.62,387.32 495.94,387.35 496.25,387.38 496.57,387.41 496.88,387.44 497.20,387.47 497.51,387.50 497.83,387.53 498.14,387.56 498.46,387.59 498.77,387.62 499.08,387.65 499.40,387.67 499.71,387.70 500.03,387.73 500.34,387.75 500.66,387.78 500.97,387.80 501.29,387.83 501.60,387.85" fill="none" stroke="#111111" stroke-width="1.2" stroke-linejoin="round"/>
<rect x="375.8" y="289.4" width="125.8" height="102.20000000000005" fill="none" stroke="#3a3a3a" stroke-width="0.9"/>
<text x="373.5" y="385.8" font-size="7.6" font-weight="bold" text-anchor="end" fill="#111">25</text>
<text x="373.5" y="368.8" font-size="7.6" font-weight="bold" text-anchor="end" fill="#111">30</text>
<text x="373.5" y="351.7" font-size="7.6" font-weight="bold" text-anchor="end" fill="#111">35</text>
<text x="373.5" y="334.7" font-size="7.6" font-weight="bold" text-anchor="end" fill="#111">40</text>
<text x="373.5" y="317.6" font-size="7.6" font-weight="bold" text-anchor="end" fill="#111">45</text>
<text x="373.5" y="300.6" font-size="7.6" font-weight="bold" text-anchor="end" fill="#111">50</text>
<text x="375.8" y="400.6" font-size="7.6" font-weight="bold" text-anchor="middle" fill="#111">0</text>
<text x="407.2" y="400.6" font-size="7.6" font-weight="bold" text-anchor="middle" fill="#111">20</text>
<text x="438.7" y="400.6" font-size="7.6" font-weight="bold" text-anchor="middle" fill="#111">40</text>
<text x="470.1" y="400.6" font-size="7.6" font-weight="bold" text-anchor="middle" fill="#111">60</text>
<text x="501.6" y="400.6" font-size="7.6" font-weight="bold" text-anchor="middle" fill="#111">80</text>
<text x="438.7" y="411.6" font-size="9.7" font-weight="bold" text-anchor="middle" fill="#111">Length (mm)</text>
<text transform="translate(356.6,341.2) rotate(-90)" font-size="9.8" font-weight="bold" text-anchor="middle" fill="#111">Temperature (°C)</text>
<text x="403.0" y="299.0" font-size="8" fill="#222" textLength="95" lengthAdjust="spacingAndGlyphs">Artificial skin thickness (mm)</text>
<path d="M410.0,307.6 h12.9" stroke="#111111" stroke-width="1.1"/>
<text x="426.0" y="310.4" font-size="7.5" fill="#222">without skin</text>
<path d="M473.3,307.6 h12.9" stroke="#ee1c1c" stroke-width="1.1"/>
<text x="488.1" y="310.4" font-size="7.5" fill="#222">0.5</text>
<path d="M410.0,316.4 h12.9" stroke="#1f1fee" stroke-width="1.1"/>
<text x="426.0" y="319.2" font-size="7.5" fill="#222">1.0</text>
<path d="M441.0,316.4 h12.9" stroke="#f21cf2" stroke-width="1.1"/>
<text x="456.4" y="319.2" font-size="7.5" fill="#222">2.0</text>
<path d="M472.8,316.4 h12.9" stroke="#1e8c28" stroke-width="1.1"/>
<text x="487.6" y="319.2" font-size="7.5" fill="#222">3.0</text>
<text x="519.0" y="288.1" font-size="13" font-weight="bold" fill="#000">e</text>
<text x="550.4" y="286.6" font-size="8.1" fill="#222" textLength="125.6" lengthAdjust="spacingAndGlyphs">(Artificial skin thickness: 1.0 mm)</text>
<path d="M548.1,391.60 h1.3 M548.1,383.08 h1.8 M548.1,374.57 h1.3 M548.1,366.05 h1.8 M548.1,357.53 h1.3 M548.1,349.02 h1.8 M548.1,340.50 h1.3 M548.1,331.98 h1.8 M548.1,323.47 h1.3 M548.1,314.95 h1.8 M548.1,306.43 h1.3 M548.1,297.92 h1.8 M548.1,289.40 h1.3 M548.10,391.6 v-1.8 M563.83,391.6 v-1.3 M579.55,391.6 v-1.8 M595.27,391.6 v-1.3 M611.00,391.6 v-1.8 M626.73,391.6 v-1.3 M642.45,391.6 v-1.8 M658.18,391.6 v-1.3 M673.90,391.6 v-1.8" stroke="#555" stroke-width="0.7" fill="none"/>
<polyline points="548.10,385.81 548.41,385.79 548.73,385.76 549.04,385.74 549.36,385.71 549.67,385.69 549.99,385.66 550.30,385.63 550.62,385.61 550.93,385.58 551.25,385.55 551.56,385.52 551.87,385.49 552.19,385.46 552.50,385.43 552.82,385.40 553.13,385.37 553.45,385.34 553.76,385.31 554.08,385.28 554.39,385.25 554.70,385.21 555.02,385.18 555.33,385.15 555.65,385.11 555.96,385.08 556.28,385.04 556.59,385.01 556.91,384.97 557.22,384.93 557.53,384.90 557.85,384.86 558.16,384.82 558.48,384.79 558.79,384.75 559.11,384.71 559.42,384.67 559.74,384.63 560.05,384.59 560.37,384.56 560.68,384.52 560.99,384.48 561.31,384.44 561.62,384.40 561.94,384.35 562.25,384.31 562.57,384.27 562.88,384.23 563.20,384.19 563.51,384.15 563.83,384.11 564.14,384.06 564.45,384.02 564.77,383.98 565.08,383.94 565.40,383.89 565.71,383.85 566.03,383.81 566.34,383.76 566.66,383.72 566.97,383.68 567.28,383.63 567.60,383.59 567.91,383.54 568.23,383.50 568.54,383.45 568.86,383.41 569.17,383.36 569.49,383.31 569.80,383.26 570.12,383.21 570.43,383.17 570.74,383.12 571.06,383.06 571.37,383.01 571.69,382.96 572.00,382.91 572.32,382.85 572.63,382.80 572.95,382.74 573.26,382.69 573.57,382.63 573.89,382.57 574.20,382.51 574.52,382.45 574.83,382.39 575.15,382.32 575.46,382.26 575.78,382.19 576.09,382.13 576.40,382.06 576.72,381.99 577.03,381.92 577.35,381.85 577.66,381.77 577.98,381.70 578.29,381.62 578.61,381.54 578.92,381.46 579.24,381.38 579.55,381.30 579.86,381.21 580.18,381.12 580.49,381.02 580.81,380.93 581.12,380.82 581.44,380.72 581.75,380.61 582.07,380.50 582.38,380.38 582.70,380.26 583.01,380.13 583.32,380.00 583.64,379.87 583.95,379.73 584.27,379.59 584.58,379.44 584.90,379.29 585.21,379.14 585.53,378.98 585.84,378.82 586.15,378.65 586.47,378.47 586.78,378.29 587.10,378.11 587.41,377.92 587.73,377.73 588.04,377.53 588.36,377.32 588.67,377.11 588.99,376.87 589.30,376.63 589.61,376.38 589.93,376.11 590.24,375.83 590.56,375.54 590.87,375.24 591.19,374.92 591.50,374.59 591.82,374.24 592.13,373.88 592.44,373.50 592.76,373.10 593.07,372.69 593.39,372.27 593.70,371.83 594.02,371.37 594.33,370.89 594.65,370.39 594.96,369.87 595.27,369.26 595.59,368.57 595.90,367.80 596.22,366.97 596.53,366.08 596.85,365.14 597.16,364.16 597.48,363.15 597.79,362.11 598.11,360.91 598.42,359.59 598.73,358.19 599.05,356.76 599.36,355.35 599.68,354.00 599.99,352.76 600.31,351.48 600.62,350.08 600.94,348.75 601.25,347.68 601.57,347.06 601.88,346.97 602.19,346.97 602.51,346.97 602.82,346.97 603.14,346.97 603.45,346.97 603.77,346.97 604.08,346.97 604.40,346.97 604.71,347.01 605.02,347.12 605.34,347.26 605.65,347.44 605.97,347.62 606.28,347.78 606.60,347.91 606.91,347.98 607.23,347.98 607.54,347.87 607.86,347.68 608.17,347.43 608.48,347.14 608.80,346.84 609.11,346.55 609.43,346.29 609.74,346.03 610.06,345.72 610.37,345.41 610.69,345.13 611.00,344.90 611.31,344.78 611.63,344.77 611.94,344.86 612.26,345.01 612.57,345.20 612.89,345.41 613.20,345.61 613.52,345.86 613.83,346.17 614.14,346.50 614.46,346.78 614.77,346.95 615.09,346.97 615.40,346.95 615.72,346.91 616.03,346.86 616.35,346.80 616.66,346.74 616.98,346.69 617.29,346.63 617.60,346.58 617.92,346.51 618.23,346.44 618.55,346.37 618.86,346.32 619.18,346.30 619.49,346.32 619.81,346.55 620.12,346.97 620.44,347.50 620.75,348.10 621.06,348.72 621.38,349.32 621.69,350.01 622.01,350.78 622.32,351.62 622.64,352.50 622.95,353.39 623.27,354.28 623.58,355.15 623.89,356.02 624.21,356.91 624.52,357.82 624.84,358.70 625.15,359.53 625.47,360.30 625.78,361.05 626.10,361.79 626.41,362.51 626.73,363.22 627.04,363.91 627.35,364.58 627.67,365.23 627.98,365.85 628.30,366.43 628.61,366.99 628.93,367.51 629.24,367.99 629.56,368.46 629.87,368.91 630.18,369.34 630.50,369.76 630.81,370.17 631.13,370.56 631.44,370.94 631.76,371.31 632.07,371.66 632.39,372.00 632.70,372.33 633.01,372.65 633.33,372.96 633.64,373.26 633.96,373.54 634.27,373.83 634.59,374.11 634.90,374.38 635.22,374.66 635.53,374.93 635.85,375.20 636.16,375.46 636.47,375.72 636.79,375.98 637.10,376.23 637.42,376.48 637.73,376.72 638.05,376.96 638.36,377.19 638.68,377.41 638.99,377.63 639.31,377.84 639.62,378.05 639.93,378.25 640.25,378.44 640.56,378.62 640.88,378.80 641.19,378.97 641.51,379.13 641.82,379.28 642.14,379.42 642.45,379.55 642.76,379.68 643.08,379.79 643.39,379.91 643.71,380.02 644.02,380.13 644.34,380.23 644.65,380.34 644.97,380.44 645.28,380.54 645.60,380.63 645.91,380.73 646.22,380.82 646.54,380.91 646.85,381.00 647.17,381.08 647.48,381.17 647.80,381.25 648.11,381.33 648.43,381.41 648.74,381.49 649.05,381.56 649.37,381.64 649.68,381.71 650.00,381.78 650.31,381.85 650.63,381.92 650.94,381.99 651.26,382.06 651.57,382.12 651.88,382.19 652.20,382.25 652.51,382.32 652.83,382.38 653.14,382.44 653.46,382.50 653.77,382.56 654.09,382.63 654.40,382.69 654.72,382.75 655.03,382.81 655.34,382.87 655.66,382.93 655.97,382.99 656.29,383.05 656.60,383.11 656.92,383.17 657.23,383.24 657.55,383.30 657.86,383.36 658.18,383.42 658.49,383.49 658.80,383.55 659.12,383.61 659.43,383.68 659.75,383.74 660.06,383.80 660.38,383.86 660.69,383.92 661.01,383.98 661.32,384.05 661.63,384.11 661.95,384.17 662.26,384.23 662.58,384.29 662.89,384.34 663.21,384.40 663.52,384.46 663.84,384.52 664.15,384.58 664.47,384.63 664.78,384.69 665.09,384.75 665.41,384.80 665.72,384.86 666.04,384.91 666.35,384.97 666.67,385.02 666.98,385.08 667.30,385.13 667.61,385.18 667.92,385.24 668.24,385.29 668.55,385.34 668.87,385.39 669.18,385.44 669.50,385.49 669.81,385.54 670.13,385.59 670.44,385.64 670.75,385.69 671.07,385.74 671.38,385.79 671.70,385.83 672.01,385.88 672.33,385.93 672.64,385.97 672.96,386.02 673.27,386.06 673.59,386.11 673.90,386.15" fill="none" stroke="#111111" stroke-width="1.2" stroke-linejoin="round"/>
<polyline points="548.10,385.81 548.41,385.80 548.73,385.79 549.04,385.77 549.36,385.75 549.67,385.73 549.99,385.71 550.30,385.68 550.62,385.66 550.93,385.63 551.25,385.59 551.56,385.56 551.87,385.52 552.19,385.48 552.50,385.44 552.82,385.40 553.13,385.36 553.45,385.31 553.76,385.26 554.08,385.21 554.39,385.16 554.70,385.11 555.02,385.05 555.33,385.00 555.65,384.94 555.96,384.88 556.28,384.82 556.59,384.76 556.91,384.70 557.22,384.63 557.53,384.57 557.85,384.50 558.16,384.43 558.48,384.36 558.79,384.29 559.11,384.22 559.42,384.15 559.74,384.08 560.05,384.01 560.37,383.93 560.68,383.86 560.99,383.78 561.31,383.71 561.62,383.63 561.94,383.55 562.25,383.47 562.57,383.40 562.88,383.32 563.20,383.24 563.51,383.16 563.83,383.08 564.14,383.00 564.45,382.92 564.77,382.83 565.08,382.73 565.40,382.63 565.71,382.53 566.03,382.43 566.34,382.32 566.66,382.20 566.97,382.08 567.28,381.96 567.60,381.84 567.91,381.72 568.23,381.59 568.54,381.45 568.86,381.32 569.17,381.18 569.49,381.04 569.80,380.90 570.12,380.76 570.43,380.61 570.74,380.47 571.06,380.32 571.37,380.17 571.69,380.02 572.00,379.86 572.32,379.70 572.63,379.54 572.95,379.37 573.26,379.20 573.57,379.02 573.89,378.84 574.20,378.66 574.52,378.47 574.83,378.27 575.15,378.08 575.46,377.88 575.78,377.68 576.09,377.47 576.40,377.26 576.72,377.05 577.03,376.83 577.35,376.61 577.66,376.39 577.98,376.17 578.29,375.94 578.61,375.71 578.92,375.48 579.24,375.25 579.55,375.01 579.86,374.77 580.18,374.53 580.49,374.28 580.81,374.03 581.12,373.77 581.44,373.51 581.75,373.24 582.07,372.97 582.38,372.68 582.70,372.39 583.01,372.10 583.32,371.79 583.64,371.48 583.95,371.15 584.27,370.82 584.58,370.48 584.90,370.12 585.21,369.76 585.53,369.38 585.84,369.00 586.15,368.60 586.47,368.19 586.78,367.76 587.10,367.32 587.41,366.87 587.73,366.40 588.04,365.91 588.36,365.41 588.67,364.88 588.99,364.35 589.30,363.77 589.61,363.15 589.93,362.49 590.24,361.79 590.56,361.07 590.87,360.32 591.19,359.55 591.50,358.77 591.82,357.98 592.13,357.19 592.44,356.29 592.76,355.21 593.07,354.07 593.39,352.95 593.70,351.96 594.02,351.20 594.33,350.78 594.65,350.74 594.96,350.92 595.27,351.24 595.59,351.66 595.90,352.13 596.22,352.63 596.53,353.10 596.85,353.62 597.16,354.25 597.48,354.94 597.79,355.67 598.11,356.38 598.42,357.04 598.73,357.62 599.05,358.06 599.36,358.35 599.68,358.61 599.99,358.87 600.31,359.11 600.62,359.33 600.94,359.53 601.25,359.70 601.57,359.85 601.88,359.96 602.19,360.04 602.51,360.08 602.82,360.08 603.14,360.01 603.45,359.89 603.77,359.70 604.08,359.48 604.40,359.21 604.71,358.91 605.02,358.59 605.34,358.25 605.65,357.90 605.97,357.54 606.28,357.19 606.60,356.79 606.91,356.30 607.23,355.73 607.54,355.11 607.86,354.45 608.17,353.79 608.48,353.14 608.80,352.52 609.11,351.95 609.43,351.46 609.74,351.06 610.06,350.70 610.37,350.34 610.69,350.01 611.00,349.71 611.31,349.50 611.63,349.37 611.94,349.38 612.26,349.57 612.57,349.91 612.89,350.35 613.20,350.87 613.52,351.41 613.83,351.94 614.14,352.42 614.46,352.89 614.77,353.41 615.09,353.97 615.40,354.55 615.72,355.14 616.03,355.72 616.35,356.29 616.66,356.83 616.98,357.33 617.29,357.77 617.60,358.15 617.92,358.44 618.23,358.66 618.55,358.85 618.86,359.04 619.18,359.23 619.49,359.40 619.81,359.55 620.12,359.69 620.44,359.82 620.75,359.92 621.06,360.00 621.38,360.06 621.69,360.08 622.01,360.08 622.32,360.04 622.64,359.96 622.95,359.84 623.27,359.68 623.58,359.50 623.89,359.29 624.21,359.06 624.52,358.81 624.84,358.54 625.15,358.26 625.47,357.97 625.78,357.68 626.10,357.37 626.41,356.93 626.73,356.39 627.04,355.78 627.35,355.15 627.67,354.52 627.98,353.95 628.30,353.46 628.61,353.10 628.93,352.82 629.24,352.54 629.56,352.31 629.87,352.14 630.18,352.08 630.50,352.20 630.81,352.51 631.13,352.97 631.44,353.54 631.76,354.17 632.07,354.83 632.39,355.49 632.70,356.31 633.01,357.29 633.33,358.36 633.64,359.51 633.96,360.68 634.27,361.83 634.59,362.92 634.90,363.90 635.22,364.77 635.53,365.60 635.85,366.41 636.16,367.20 636.47,367.95 636.79,368.65 637.10,369.29 637.42,369.87 637.73,370.39 638.05,370.89 638.36,371.36 638.68,371.83 638.99,372.27 639.31,372.70 639.62,373.11 639.93,373.51 640.25,373.88 640.56,374.24 640.88,374.59 641.19,374.91 641.51,375.22 641.82,375.51 642.14,375.78 642.45,376.04 642.76,376.27 643.08,376.49 643.39,376.70 643.71,376.91 644.02,377.10 644.34,377.29 644.65,377.47 644.97,377.65 645.28,377.82 645.60,377.98 645.91,378.13 646.22,378.29 646.54,378.43 646.85,378.58 647.17,378.72 647.48,378.86 647.80,378.99 648.11,379.12 648.43,379.25 648.74,379.38 649.05,379.51 649.37,379.64 649.68,379.76 650.00,379.89 650.31,380.02 650.63,380.15 650.94,380.27 651.26,380.40 651.57,380.52 651.88,380.65 652.20,380.77 652.51,380.89 652.83,381.01 653.14,381.13 653.46,381.25 653.77,381.36 654.09,381.48 654.40,381.59 654.72,381.70 655.03,381.81 655.34,381.92 655.66,382.03 655.97,382.14 656.29,382.25 656.60,382.35 656.92,382.46 657.23,382.56 657.55,382.66 657.86,382.76 658.18,382.86 658.49,382.95 658.80,383.05 659.12,383.14 659.43,383.24 659.75,383.33 660.06,383.42 660.38,383.51 660.69,383.59 661.01,383.68 661.32,383.76 661.63,383.85 661.95,383.93 662.26,384.01 662.58,384.10 662.89,384.18 663.21,384.26 663.52,384.34 663.84,384.42 664.15,384.49 664.47,384.57 664.78,384.65 665.09,384.73 665.41,384.80 665.72,384.88 666.04,384.95 666.35,385.02 666.67,385.10 666.98,385.17 667.30,385.24 667.61,385.31 667.92,385.38 668.24,385.45 668.55,385.51 668.87,385.58 669.18,385.64 669.50,385.71 669.81,385.77 670.13,385.83 670.44,385.89 670.75,385.95 671.07,386.01 671.38,386.07 671.70,386.13 672.01,386.18 672.33,386.24 672.64,386.29 672.96,386.34 673.27,386.39 673.59,386.44 673.90,386.49" fill="none" stroke="#ee1c1c" stroke-width="1.2" stroke-linejoin="round"/>
<polyline points="548.10,385.81 548.41,385.74 548.73,385.67 549.04,385.60 549.36,385.53 549.67,385.46 549.99,385.39 550.30,385.31 550.62,385.24 550.93,385.16 551.25,385.08 551.56,385.00 551.87,384.92 552.19,384.84 552.50,384.75 552.82,384.67 553.13,384.58 553.45,384.50 553.76,384.41 554.08,384.32 554.39,384.23 554.70,384.14 555.02,384.05 555.33,383.95 555.65,383.86 555.96,383.76 556.28,383.67 556.59,383.57 556.91,383.48 557.22,383.39 557.53,383.29 557.85,383.19 558.16,383.10 558.48,383.00 558.79,382.90 559.11,382.80 559.42,382.70 559.74,382.60 560.05,382.50 560.37,382.39 560.68,382.28 560.99,382.17 561.31,382.06 561.62,381.94 561.94,381.82 562.25,381.70 562.57,381.58 562.88,381.45 563.20,381.32 563.51,381.18 563.83,381.04 564.14,380.90 564.45,380.75 564.77,380.60 565.08,380.44 565.40,380.28 565.71,380.10 566.03,379.91 566.34,379.71 566.66,379.50 566.97,379.28 567.28,379.05 567.60,378.81 567.91,378.56 568.23,378.30 568.54,378.04 568.86,377.76 569.17,377.48 569.49,377.20 569.80,376.91 570.12,376.61 570.43,376.30 570.74,375.97 571.06,375.63 571.37,375.27 571.69,374.90 572.00,374.51 572.32,374.12 572.63,373.71 572.95,373.30 573.26,372.89 573.57,372.47 573.89,372.05 574.20,371.63 574.52,371.21 574.83,370.79 575.15,370.36 575.46,369.93 575.78,369.49 576.09,369.04 576.40,368.58 576.72,368.11 577.03,367.62 577.35,367.12 577.66,366.59 577.98,366.05 578.29,365.46 578.61,364.82 578.92,364.13 579.24,363.41 579.55,362.67 579.86,361.93 580.18,361.19 580.49,360.47 580.81,359.78 581.12,359.14 581.44,358.56 581.75,357.98 582.07,357.36 582.38,356.74 582.70,356.12 583.01,355.55 583.32,355.04 583.64,354.62 583.95,354.31 584.27,354.15 584.58,354.15 584.90,354.34 585.21,354.69 585.53,355.15 585.84,355.71 586.15,356.32 586.47,356.96 586.78,357.58 587.10,358.18 587.41,358.87 587.73,359.65 588.04,360.49 588.36,361.35 588.67,362.20 588.99,363.02 589.30,363.76 589.61,364.41 589.93,364.94 590.24,365.45 590.56,365.94 590.87,366.41 591.19,366.86 591.50,367.29 591.82,367.69 592.13,368.07 592.44,368.42 592.76,368.73 593.07,369.01 593.39,369.25 593.70,369.46 594.02,369.64 594.33,369.82 594.65,369.99 594.96,370.16 595.27,370.32 595.59,370.47 595.90,370.61 596.22,370.73 596.53,370.85 596.85,370.94 597.16,371.03 597.48,371.09 597.79,371.13 598.11,371.16 598.42,371.16 598.73,371.13 599.05,371.08 599.36,371.00 599.68,370.90 599.99,370.78 600.31,370.65 600.62,370.49 600.94,370.33 601.25,370.15 601.57,369.96 601.88,369.76 602.19,369.56 602.51,369.34 602.82,369.07 603.14,368.74 603.45,368.35 603.77,367.91 604.08,367.43 604.40,366.92 604.71,366.37 605.02,365.79 605.34,365.19 605.65,364.58 605.97,363.95 606.28,363.32 606.60,362.64 606.91,361.85 607.23,360.99 607.54,360.07 607.86,359.13 608.17,358.18 608.48,357.25 608.80,356.36 609.11,355.54 609.43,354.81 609.74,354.08 610.06,353.31 610.37,352.56 610.69,351.90 611.00,351.39 611.31,351.10 611.63,351.09 611.94,351.31 612.26,351.71 612.57,352.24 612.89,352.85 613.20,353.50 613.52,354.13 613.83,354.81 614.14,355.64 614.46,356.56 614.77,357.55 615.09,358.57 615.40,359.59 615.72,360.58 616.03,361.49 616.35,362.29 616.66,362.98 616.98,363.64 617.29,364.30 617.60,364.95 617.92,365.58 618.23,366.19 618.55,366.76 618.86,367.29 619.18,367.78 619.49,368.21 619.81,368.58 620.12,368.89 620.44,369.12 620.75,369.30 621.06,369.48 621.38,369.66 621.69,369.83 622.01,369.99 622.32,370.14 622.64,370.29 622.95,370.42 623.27,370.55 623.58,370.66 623.89,370.77 624.21,370.86 624.52,370.94 624.84,371.01 625.15,371.07 625.47,371.11 625.78,371.14 626.10,371.16 626.41,371.16 626.73,371.13 627.04,371.09 627.35,371.02 627.67,370.93 627.98,370.83 628.30,370.71 628.61,370.58 628.93,370.43 629.24,370.27 629.56,370.10 629.87,369.92 630.18,369.74 630.50,369.55 630.81,369.35 631.13,369.10 631.44,368.80 631.76,368.45 632.07,368.06 632.39,367.63 632.70,367.17 633.01,366.68 633.33,366.17 633.64,365.64 633.96,365.10 634.27,364.55 634.59,364.01 634.90,363.41 635.22,362.71 635.53,361.96 635.85,361.16 636.16,360.34 636.47,359.53 636.79,358.75 637.10,358.03 637.42,357.39 637.73,356.85 638.05,356.36 638.36,355.86 638.68,355.38 638.99,354.94 639.31,354.57 639.62,354.30 639.93,354.15 640.25,354.15 640.56,354.35 640.88,354.70 641.19,355.17 641.51,355.73 641.82,356.33 642.14,356.95 642.45,357.53 642.76,358.15 643.08,358.85 643.39,359.62 643.71,360.44 644.02,361.28 644.34,362.13 644.65,362.94 644.97,363.72 645.28,364.42 645.60,365.03 645.91,365.57 646.22,366.10 646.54,366.61 646.85,367.10 647.17,367.58 647.48,368.04 647.80,368.48 648.11,368.92 648.43,369.33 648.74,369.74 649.05,370.14 649.37,370.53 649.68,370.90 650.00,371.27 650.31,371.64 650.63,371.99 650.94,372.34 651.26,372.69 651.57,373.03 651.88,373.37 652.20,373.70 652.51,374.02 652.83,374.33 653.14,374.63 653.46,374.92 653.77,375.21 654.09,375.48 654.40,375.75 654.72,376.02 655.03,376.27 655.34,376.52 655.66,376.76 655.97,377.00 656.29,377.24 656.60,377.47 656.92,377.69 657.23,377.91 657.55,378.13 657.86,378.34 658.18,378.55 658.49,378.75 658.80,378.94 659.12,379.14 659.43,379.32 659.75,379.50 660.06,379.68 660.38,379.85 660.69,380.02 661.01,380.18 661.32,380.34 661.63,380.50 661.95,380.65 662.26,380.81 662.58,380.96 662.89,381.10 663.21,381.25 663.52,381.39 663.84,381.52 664.15,381.66 664.47,381.79 664.78,381.92 665.09,382.04 665.41,382.17 665.72,382.28 666.04,382.40 666.35,382.52 666.67,382.63 666.98,382.74 667.30,382.86 667.61,382.97 667.92,383.07 668.24,383.18 668.55,383.29 668.87,383.39 669.18,383.49 669.50,383.60 669.81,383.69 670.13,383.79 670.44,383.89 670.75,383.98 671.07,384.07 671.38,384.16 671.70,384.25 672.01,384.33 672.33,384.41 672.64,384.49 672.96,384.57 673.27,384.65 673.59,384.72 673.90,384.79" fill="none" stroke="#1f1fee" stroke-width="1.2" stroke-linejoin="round"/>
<rect x="548.1" y="289.4" width="125.8" height="102.20000000000005" fill="none" stroke="#3a3a3a" stroke-width="0.9"/>
<text x="545.8" y="385.8" font-size="7.6" font-weight="bold" text-anchor="end" fill="#111">25</text>
<text x="545.8" y="368.8" font-size="7.6" font-weight="bold" text-anchor="end" fill="#111">30</text>
<text x="545.8" y="351.7" font-size="7.6" font-weight="bold" text-anchor="end" fill="#111">35</text>
<text x="545.8" y="334.7" font-size="7.6" font-weight="bold" text-anchor="end" fill="#111">40</text>
<text x="545.8" y="317.6" font-size="7.6" font-weight="bold" text-anchor="end" fill="#111">45</text>
<text x="545.8" y="300.6" font-size="7.6" font-weight="bold" text-anchor="end" fill="#111">50</text>
<text x="548.1" y="400.6" font-size="7.6" font-weight="bold" text-anchor="middle" fill="#111">0</text>
<text x="579.6" y="400.6" font-size="7.6" font-weight="bold" text-anchor="middle" fill="#111">20</text>
<text x="611.0" y="400.6" font-size="7.6" font-weight="bold" text-anchor="middle" fill="#111">40</text>
<text x="642.5" y="400.6" font-size="7.6" font-weight="bold" text-anchor="middle" fill="#111">60</text>
<text x="673.9" y="400.6" font-size="7.6" font-weight="bold" text-anchor="middle" fill="#111">80</text>
<text x="611.0" y="411.6" font-size="9.7" font-weight="bold" text-anchor="middle" fill="#111">Length (mm)</text>
<text transform="translate(529.6,341.2) rotate(-90)" font-size="9.8" font-weight="bold" text-anchor="middle" fill="#111">Temperature (°C)</text>
<text x="670.8" y="299.0" font-size="8" text-anchor="end" fill="#222" textLength="66.5" lengthAdjust="spacingAndGlyphs">Fiber distance (mm)</text>
<path d="M633.0,306.8 h12.4" stroke="#111111" stroke-width="1.1"/>
<text x="648.3" y="309.6" font-size="7.5" fill="#222">5 mm</text>
<path d="M633.0,316.3 h12.4" stroke="#ee1c1c" stroke-width="1.1"/>
<text x="648.3" y="319.1" font-size="7.5" fill="#222">10 mm</text>
<path d="M633.0,325.7 h12.4" stroke="#1f1fee" stroke-width="1.1"/>
<text x="648.3" y="328.5" font-size="7.5" fill="#222">15 mm</text>
</svg></body></html>
